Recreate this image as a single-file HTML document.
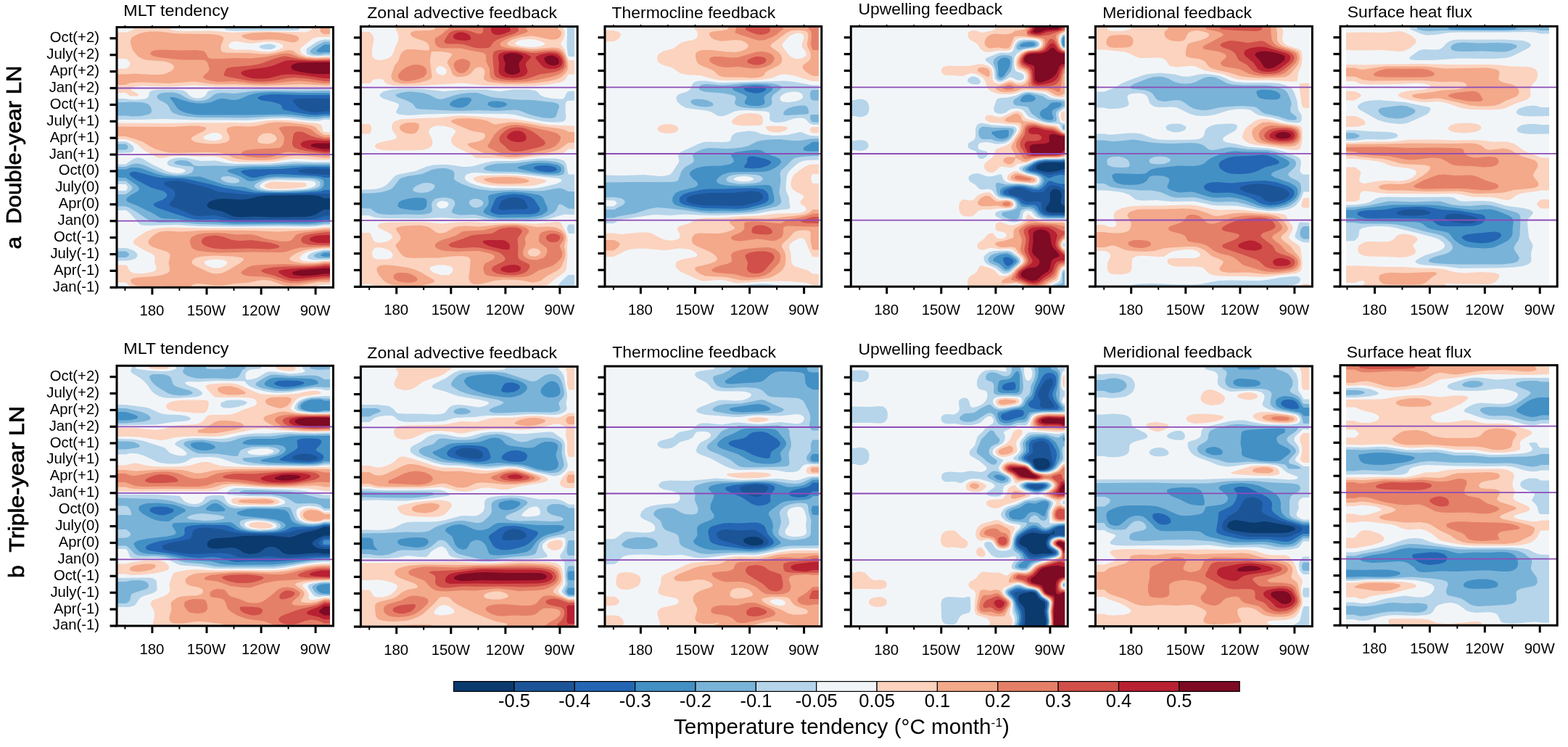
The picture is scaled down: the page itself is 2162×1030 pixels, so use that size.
<!DOCTYPE html><html><head><meta charset="utf-8"><title>Figure</title><style>body{margin:0;background:#fff;overflow:hidden}svg{display:block}text{font-family:"Liberation Sans",Arial,Helvetica,sans-serif;fill:#000}.t{font-size:20.3px}.tx{font-size:20.4px}.ti{font-size:22.5px}.rl{font-size:29px;font-weight:normal;stroke:#000;stroke-width:0.7px}.cb{font-size:25.5px}.cbt{font-size:29px}</style></head><body><svg width="2162" height="1030" viewBox="0 0 2162 1030"><rect width="100%" height="100%" fill="#fff"/><clipPath id="cpa1"><rect x="161" y="37.5" width="294.5" height="358.8"/></clipPath><rect x="161" y="37.5" width="298.5" height="358.8" fill="#fff"/><rect x="161" y="37.5" width="294.5" height="358.8" fill="#f2f5f8"/><g clip-path="url(#cpa1)"><path fill="#fbd3bf" fill-rule="evenodd" d="M185 37.5l50.5 0 0 3 1 1 7.5 1 13 .5 33-.5 31 2.5 25-1.5 18-.5 56 1.5 5-1 4-2 .5-1 0-3 25.5 0 0 13.5-16 0-6 1.5-3 1.5-14 11-2 2.5-.5 2 1.5 3 2 2 4 2 4 1 12 1.5 10-1 8 0 0 42-42 0-48 .5-41-1-24 0-31-2-35 2-39-1-9.5 1-3 1-2 2 0 1 1.5 1.5 6 3 2.5 1.5 .5 1 0 1-1.5 1-9.5 0-2-1-5-3.5-12 0 0-33 13-.5 4-3 1.5-3-.5-2-1-2-4-3.5-13 0 0-36.5 13 0 9.5-3 .5-1 0-3zM320.5 57.5l-2.5 1.5-2 1.5-1 2 .5 2 .5 1 2 1.5 6 1.5 20 0 17 2.5 10 .5 6.5-1 6.5-2 6-3 .5-2-1-2-3.5-1.5-4.5-1.5-5.5-1-10 0-20 2.5-5-.5-14-2.5-3 0zM377 165.5l11 0 11 .5 37 4 6 1.5 1.5 2 1.5 6 2 2.5 8 .5 0 38-18 0-21-1.5-9 0-9 .5-17.5 3-8.5 1-40 0-12-1-17-5.5-9-1.5-19 .5-18-1-11 0-11 .5-12 2.5-3 0-4-1-16-9-3-2-7-6.5-8-4.5-9-3-12 0 0-22.5 72 .5 39-1 25 .5 22-.5 22 .5 8-.5 17-2.5zM291.5 183.5l-5.5 2-4 2-1.5 2 0 1 1.5 1.5 6 1.5 8 .5 6-1 3-1.5 1-1 .5-1-.5-2-1.5-2-2.5-1.5-5-1zM377 250.5l7 0 35 1.5 3 .5 .5 3-.5 1.5-1.5 .5-12.5 2-20 1-14 0-5-1-2.5-1-1.5-1-.5-1 0-1 2-2 2.5-1 4-1.5zM443 313.5l4-.5 8 0 0 30-12 .5-9 1.5-7.5 1.5-5.5 2-3.5 2-3 3-1 2 .5 2 1.5 1 3.5 1.5 5 .5 10 .5 13-1.5 8 0 0 32.5-10 .5-6 1-2 1 .5 1 1.5 1-254 0-6-2-6-5-12 0 0-24 12.5 0 2.5 2 2 5 2 2 3 1.5 4 1 9 0 9-1 6-1.5 2-1 2-2 .5-3-2.5-7 .5-6-1-3-4-3-10.5-5-10-6-3-2-1-2 0-2 1.5-2 4.5-4 12-7.5 8-3 9-1.5 14-1 53 1 100 0 32 .5 14-.5zM287.5 358.5l-5 2-1 1 .5 2 2 2 4 2 7 2 6 0 5-1 5.5-3 2-3 0-1-1.5-1.5-6-2-9-.5z"/><path fill="#f3a98a" fill-rule="evenodd" d="M442 37.5l13 0 0 9.5-8 0-3-1.5-1.5-1-1-2zM206 43.5l14 0 20 2.5 10 .5 38 .5 7.5 .5 6.5 1 5 2 1.5 2-.5 2-3.5 9 0 3 0 2 1 2 1.5 1 4 1 8 .5 23 0 17 1.5 9 0 9-1 17-4 5-.5 3 .5 2 .5 6 4.5 4 2 8 2.5 14 1 19-.5 0 38-8 0-33-1.5-46 2-18-.5-27-1.5-24 .5-10-1-16-2.5-7-.5-34 2.5-32-1.5-12 0-9 1-6 2.5-12 0 0-14.5 12 0 11-1 25 1.5 12 0 6-1 5-2 4.5-2.5 3-3 .5-2-.5-2-2-2-1.5-1-4-1.5-6-1.5-22-1.5-7-1.5-4-2-3-2-6-7-2-4-2-7 0-4 2-4 4-2.5 5.5-2.5 7.5-2zM348 45.5l23-1 13 .5 11 1.5 7.5 1 6.5 2 2.5 2 1 2-1.5 2-1 1-3 1.5-3 .5-4-.5-12-2.5-10-1-9 0-17 1-6-.5-5-1-4.5-1.5-3-2 0-1 .5-1 2.5-1zM380 168.5l9 0 9 .5 21.5 2.5 9.5 1.5 6 2.5 6.5 7 4.5 3 1 .5 8 0 0 31.5-10 0-24-2.5-12-.5-11 1-18 4-8 1-10 .5-22-.5-9-1-6-1-3.5-1-11.5-5.5-10-1.5-17-.5-35 1-15-.5-9-2-10-3-6-3-11-7-10-3.5-14-4-12 0 0-13.5 78 .5 25-1.5 9 0 8 1.5 2 .5 1 1 .5 1-1 1-2.5 2-15.5 8-1.5 2-.5 1 1.5 2 5 2.5 9 1.5 12 1 11-.5 9-1.5 2-1 2.5-2 1-2 0-3-4-8 0-2 1-2 2.5-1 4-1 5-.5 19 .5 7-.5 6-1 14-3.5zM367.5 183.5l-3.5 .5-3 1-4 3.5-1.5 3-.5 2 .5 2 1 1 2.5 1 3 .5 8 .5 6-1.5 4-2.5 1.5-2 0-2-1-2-1.5-2-5-2.5zM445 315.5l10-.5 0 26.5-8 0-13 1-9 1.5-7 1.5-7 2.5-8 4.5-3.5 3-.5 1 0 1 2.5 2 4.5 1.5 6 1 7 1 13 0 7-.5 8-1.5 8 0 0 28-16 0-25 4.5-13 1-6-.5-5-1-17-6-5-.5-5-.5-7 1-15 3-17 1-17 2.5-10 0-18-2-6-.5-4 .5-3 1-2.5 2-1 2-28.5 0-5-1.5-6-.5-22 .5-9.5-.5-4.5-1-2.5-1-3-2-1-2-.5-2 .5-1 1.5-1 2-1 7-1 22-1.5 9-1.5 8-2.5 2.5-1.5 1.5-2 0-3-1.5-8 2-9 0-2-1-2-2.5-2-2-1-13-4-5.5-2-4.5-3-1.5-3 0-2 1-2 3.5-4 5.5-4 6.5-3 9-1 20 1 23-1.5 20-.5 57 .5 33 1.5 46-2.5zM279 353.5l-8 1.5-4.5 2.5-2 3 0 2 .5 1 2.5 2 3.5 2 14 6.5 6 2.5 6 1 8-.5 8-3.5 17-10 5-4 1-2-1-1.5-3-1-12-1.5-23-1z"/><path fill="#e58068" fill-rule="evenodd" d="M223 68.5l26 1 21-.5 8 1 3 .5 2.5 2 3.5 6.5 1 1 2 .5 3 .5 11 0 22-1 15 .5 6 0 22-2.5 19-4 7-.5 5 .5 11.5 4.5 10.5 2 14 1 19-.5 0 34-8 0-22-2.5-12-1-11 .5-22 2.5-16 1-16-.5-25-3-22 1-10-1.5-7.5-2-1.5-1-2-2 .5-2 6-5 2-3 0-2-1-4-2-5-1.5-1.5-2-1-5-.5-27 0-28-3-8-1.5-4-1.5-2-1-1-2 1-1.5 2-1.5 3-1zM389 174.5l6-.5 9 0 10 .5 8 1.5 7 2.5 7.5 6 5.5 3 5 1.5 8 0 0 25.5-8 0-24-3-24-2-7 .5-14 5.5-5 1-6 1-10 0-12.5-1-6-1-4.5-2-1-1-.5-1 1.5-2 3-1.5 4-1 12-1.5 27-1 5-.5 2.5-1.5 2-2 1-2 1.5-6 0-3-1.5-3-5.5-9 0-1 1-1zM447 317.5l8 0 0 22.5-8 0-33 1.5-7 1.5-12 4-6 1-43-.5-43 1-21-1.5-10-1.5-5-2-2.5-2-1-2-1.5-5 0-3 .5-2 1.5-2 2.5-2 6.5-2.5 10-1.5 17-.5 10 .5 16 2 16-.5 6 .5 5 1 11.5 4 6.5 1.5 14 2.5 9 .5 4-.5 3-1 2.5-2 4-5 2.5-1.5 3-1 7.5-1.5zM444 363.5l3-.5 8 0 0 23-14.5 .5-29.5 4-11 0-8-1.5-14-4.5-7-2-9-1-17-.5-6-1-4.5-1.5-2-2 0-1 1.5-2 6-4 7-3 7-1 36-1.5 24 1 12 0 10-.5z"/><path fill="#d1504a" fill-rule="evenodd" d="M387 78.5l5-1 4 .5 16 3 13 1.5 12 .5 18-.5 0 29.5-8 0-22-3.5-19-1.5-11 1-15 3-8 1-9 .5-9 0-13-1.5-28.5-5.5-3-1-1-1 .5-2 2-5 1.5-2 2.5-1 5-1 24-2 10-1.5 6.5-1.5 16-6zM410 181.5l4 0 4 .5 11 5.5 7 2 11 2 8 0 0 20-8 0-25-3.5-10-2-6-2.5-2.5-3-.5-2 0-3.5 2-10.5 2-2zM445 320.5l10-.5 0 18-18 0-11-.5-7.5-2-1.5-1-1.5-2-.5-2 1.5-3 2.5-2 2-1 8-2zM288 325.5l8-1 7 1 5 1 11 4 6 1 6 .5 15-1 12 1.5 13 2 8.5 2 5 2 1 1-.5 1-1 1-3 1-10 1-29-1-33 1-14-1-6-1.5-5-1.5-3.5-2-2.5-3 0-3 2-3 3.5-2zM443 365.5l4-1 8 0 0 19-10 .5-34 3.5-10 0-8-2-15-5.5-13-3.5-3-1.5-2-1.5 .5-1 1.5-1 3-1 12-2 17-1 34-.5z"/><path fill="#b82132" fill-rule="evenodd" d="M395 83.5l6-.5 27 1 27 0 0 24-8 0-27-4-15-1.5-9 0-9 1-11 3-7 1.5-7 .5-7 0-7-.5-6.5-1.5-5-2-2-1-2-2 0-2 1.5-1 4-1.5 7-1.5 18-2 8-1.5 7-2 12-5zM424 193.5l9-.5 14 1 8 0 0 15-8 0-11-1.5-10.5-2-6.5-2-2-1-2-2-.5-1 .5-2 3-2.5zM440 324.5l15-.5 0 11-17 0-5-1-4.5-1.5-1.5-2 .5-2 1-1 5-2zM444 367.5l3-.5 8 0 0 14-8 0-31 3-12 0-6-1-6.5-2.5-6.5-4-1-1 0-1 1-1 2.5-1 9.5-1.5 38-2.5z"/><path fill="#7e0a23" fill-rule="evenodd" d="M413 86.5l15-.5 27 0 0 16-14 0-11-.5-14-2-9-2-3-1.5-2-1.5-.5-1 0-2 1.5-2 1.5-1 3-1zM435 197.5l20 0 0 8-8 0-5-.5-7-1.5-4-1-2-1-.5-1 .5-1 2-1zM439 370.5l8-.5 8 0 0 7.5-8 0-12 2-18 1-9.5-1-3-1-1.5-1 0-1 .5-1 1.5-1 8-2z"/><path fill="#b6d5ea" fill-rule="evenodd" d="M311 37.5l102 0 0 3-1.5 1-9.5 .5-42 0-38 .5-10-1-2-1 0-3zM447 54.5l8 0 0 22-20 1-7-1-5-2-.5-2 0-3 0-2 1-1 13.5-9 5-2zM364 61.5l6-1 5 .5 4.5 1.5 1 1 0 1-2.5 2-4 1.5-5 0-6-.5-3.5-1-1.5-1-.5-1 .5-1 2-1zM223 123.5l18 0 11 1 4.5 2 4.5 5 3 2 4 1.5 5 .5 4-.5 4-1.5 2.5-2 2-4 2-2 3.5-1 6-1 27 0 41-1 90 0 0 42.5-8 0-7 1.5-9 0-10-.5-23-3-12 0-15 .5-22 2-9 .5-29-.5-43 0-41-1.5-35 1-31 0 0-29 12 0 5 1 8 .5 7-.5 6-.5 3-1 2.5-2 1.5-6 2-2 5-1.5zM162 195l11 0 5.5 2.5 4 3 1.5 2 .5 3-.5 2.5-2 1.5-3 1-18 .5 0-16zM188 217.5l4 0 5 1.5 12.5 7.5 21 10 6.5 1.5 7 1 6-.5 3.5-1 1.5-1 .5-1 0-1-1.5-1-3-1-13-2.5-4-1-3-2-.5-2.5 1-2 3.5-2.5 5-1.5 6-1 6 0 7 .5 18 4 20-.5 17 3.5 11 1 47-.5 33-3 30 1 20 0 0 87-8 0-11 1.5-12 .5-38-.5-56 .5-55-.5-31-2-42 1-5-.5-3-.5-3-2.5-4-5-8.5-9-4.5-3.5-1 0-12 0 0-27 12 0 2-1.5 1-3-1-3-2-1.5-12 0 0-27.5 12 0 11-7.5zM373 248.5l-5 1-5 2-4 3-1 2 1 2 2 1 5 1.5 6 1 20 0 29-1.5 7-1.5 4.5-1.5 2.5-2 1-2-1.5-2-1.5-1-3.5-1-5.5-.5-25-.5-17-.5zM162 342l12 0 7 2 4 2 3 2.5 1.5 2 0 3-3 3-5.5 2-7 1-13 0 0-17.5zM442 345.5l5-1 8 0 0 13.5-22 .5-6-1-2-1-1-1-.5-1 1-2 3.5-3 5-2zM162 394.5l11 0 3.5 2-15.5 0 0-2z"/><path fill="#7ab3d8" fill-rule="evenodd" d="M445 58.5l2-1 8 0 0 17-8 0-5 1-5.5 0-5-1-3.5-2-.5-2 2.5-3 9-6zM353 125.5l19-.5 42 .5 41-.5 0 37.5-8 0-10 1.5-12-.5-24-2.5-10-.5-15 0-37 2-32-.5-32 0-18-1.5-11-2-7.5-3-3-3-3-6-1.5-2-4-3-8-4-2-2-.5-2 .5-2 1-1 4-2 8-1 9 0 5 1 3.5 1 9.5 5.5 6 2.5 7 1.5 6 0 5-.5 5-1.5 4-2.5 5-4 5-2 7-.5 17 1 18.5-2.5zM179 140.5l15 .5 5 .5 4 1.5 2.5 1.5 2.5 3 1 4 0 3-2 2-3 1.5-10 2-11 .5-10-1-12 0 0-18.5 12 0zM162 198.5l11 0 3 2 .5 2 0 1-1 2-2.5 1-12 0 0-8zM245 221.5l6-.5 6 .5 3 1 3.5 2 3.5 3.5 5 1 24-.5 24 .5 27-1 24 0 35-2.5 49 0 0 83-8 0-11 1.5-12 .5-38-.5-62 .5-27-1-24-.5-27-2.5-26 .5-7-1-5.5-1.5-4-2-18-12-7-4-5.5-2-12 0 0-16.5 12 0 6.5-4.5 2-2 1-2-.5-2-1.5-2-6.5-5.5-1-.5-12 0 0-19.5 12 0 10-4 4-.5 4 0 7 2 21 9 9 3 13 2 13-.5 7-1.5 4-2 1.5-3 .5-2-.5-2-.5-.5-2-.5-14-1.5-7.5-1.5-1.5-1-.5-1 0-1 1.5-1zM307.5 243.5l-2 1-1 1 .5 2 3 2 5 2 6 1 6 0 4-1 1-1 0-1-.5-2-1.5-1-5-2-8-1.5zM371 246.5l-7 1.5-7 3-4 2.5-2 2 0 1 .5 2 3.5 2 5 1.5 7 1 11 .5 15 0 21-1 13-1 7-1.5 4.5-1.5 2.5-2 1-3-1-3-2-1.5-4-1.5-6-1-47-1zM162 346.5l12 0 3.5 3 .5 2-1.5 2-3.5 1.5-12 0 0-8.5zM446 346.5l9-.5 0 10-16 0-4-1-2-1.5 .5-2 3-2z"/><path fill="#4390c5" fill-rule="evenodd" d="M447 61.5l8 0 0 10.5-8 0-6 .5-4-1-.5-1 1-2zM365 127.5l13-.5 37 1 40 0 0 32-8 0-9 1-13 0-23-3-10-.5-50 1-36 0-25 0-13-.5-12-2.5-5-2-4-2-3-3-4.5-7-5-6 0-1 1.5-.5 4 0 15 5 7 2 10 1.5 9 0 10-1.5 9-4 4-1 5 0 12 2 6-.5 5-1.5 10-4.5 5-1.5 7-1.5zM402 228.5l16-.5 37 0 0 78-8 0-15 2-12 .5-33-.5-64 .5-26-2-25-.5-8-.5-18-3-18-1-5-.5-3.5-1.5-9.5-6-10-4.5-11-5.5-10.5-4-3.5-2-1-2 1.5-3 4-3 10.5-6 1.5-2 .5-1-.5-2-4-4-13.5-9-1-.5-12 0 0-11.5 12 0 8-2.5 7 0 8 1.5 21 7.5 11 2.5 16 1 27 0 5 0 34 11.5 10 1.5 17 1.5 12 4 7 1.5 11 1 16 .5 20-.5 20-1 15-1.5 4-1.5 2.5-2 1.5-2 .5-2 0-4-1-2-1.5-1-4-1.5-6-1-9-.5-46-1-11 1-18 5-5 .5-4-1-10-6-13-4.5-4-2-.5-1 .5-1 2.5-1 11.5-2 19-1 32-.5zM447 348.5l8 0 0 5.5-8 0-2-.5-2.5-1-.5-1 1-1z"/><path fill="#2466b3" fill-rule="evenodd" d="M369 130.5l11-.5 32 1 43 0 0 26.5-8 0-10 1-10-.5-17.5-2.5-17.5-4-2-1-1-1-.5-3-1.5-2-3-1.5-8-2.5-15-2-5-2-.5-1 0-1 3-2 3.5-1zM416 230.5l17-.5 22 .5 0 14.5-8 0-5-1.5-8-1-47-2.5-15 .5-18.5 4-5.5 .5-4-1-5.5-2.5-5-3-1-1-.5-1 1.5-1 3.5-1 9-1 42-.5zM181 237.5l4-1 6 1 20 5.5 10 2 30 1 10 1.5 29 6.5 19 5 41 6.5 25 .5 35 0 25-1.5 8-1 4-1.5 8 0 0 41-8 0-10 2-14 1-93 0-13-.5-20-3-22 .5-6-.5-6-1-19.5-6-21-7-5.5-2-3.5-2-1.5-2-.5-1 1-1 2.5-1.5 10-4 4-3 1.5-2.5-1.5-3-2-2-3-1.5-13-3.5-5-2-19-10-6-4-2.5-3 0-1 .5-1z"/><path fill="#1c5597" fill-rule="evenodd" d="M421 135.5l14 0 20 .5 0 17.5-8 0-8 1.5-7 0-8.5-1.5-8.5-3-4.5-3-6-7-1-2 1-1 4-1zM427 232.5l11 0 9 .5 8 0 0 8-8 0-21-1.5-9-1-4-1-2-1 0-1 2-1 5-1zM235 249.5l9-.5 8 1 15 4 17 4 13 5 4 1.5 35 3.5 10 .5 24-1 64-.5 21 .5 0 30-8 0-4 2-6 2-14 1.5-71 0-20 .5-7 0-7-1-16-4.5-5-1-6 0-14 1-7.5-.5-6.5-2-12-5.5-12.5-4.5-3.5-1.5-1.5-1.5 0-2 5.5-6 1.5-3 1-3-.5-3-1-2.5-2-2-10-5.5-2-2 0-1 1-1 2.5-1z"/><path fill="#0b3a6e" fill-rule="evenodd" d="M368 269.5l57-.5 9 .5 6 1 3 1 4 2 8 0 0 15.5-8 0-3.5 1.5-6 4-4 2-6.5 1.5-7 1-42 .5-27-1-19 1-9.5-1-5.5-2-10.5-5-15.5-3.5-3.5-1.5-2-2 0-2 1-2 2.5-2.5 5-2 6-1.5 10-.5 18 1 8 0 8-1 15-3.5z"/></g><line x1="161" x2="459.5" y1="304.7" y2="304.7" stroke="#8c4cb8" stroke-width="1.8"/><line x1="161" x2="459.5" y1="213.1" y2="213.1" stroke="#8c4cb8" stroke-width="1.8"/><line x1="161" x2="459.5" y1="121.5" y2="121.5" stroke="#8c4cb8" stroke-width="1.8"/><rect x="161" y="37.5" width="298.5" height="358.8" fill="none" stroke="#000" stroke-width="3"/><line x1="151.5" x2="161" y1="396.3" y2="396.3" stroke="#000" stroke-width="3.2"/><line x1="151.5" x2="161" y1="373.4" y2="373.4" stroke="#000" stroke-width="3.2"/><line x1="151.5" x2="161" y1="350.5" y2="350.5" stroke="#000" stroke-width="3.2"/><line x1="151.5" x2="161" y1="327.6" y2="327.6" stroke="#000" stroke-width="3.2"/><line x1="151.5" x2="161" y1="304.7" y2="304.7" stroke="#000" stroke-width="3.2"/><line x1="151.5" x2="161" y1="281.8" y2="281.8" stroke="#000" stroke-width="3.2"/><line x1="151.5" x2="161" y1="258.9" y2="258.9" stroke="#000" stroke-width="3.2"/><line x1="151.5" x2="161" y1="236" y2="236" stroke="#000" stroke-width="3.2"/><line x1="151.5" x2="161" y1="213.1" y2="213.1" stroke="#000" stroke-width="3.2"/><line x1="151.5" x2="161" y1="190.2" y2="190.2" stroke="#000" stroke-width="3.2"/><line x1="151.5" x2="161" y1="167.3" y2="167.3" stroke="#000" stroke-width="3.2"/><line x1="151.5" x2="161" y1="144.4" y2="144.4" stroke="#000" stroke-width="3.2"/><line x1="151.5" x2="161" y1="121.5" y2="121.5" stroke="#000" stroke-width="3.2"/><line x1="151.5" x2="161" y1="98.6" y2="98.6" stroke="#000" stroke-width="3.2"/><line x1="151.5" x2="161" y1="75.7" y2="75.7" stroke="#000" stroke-width="3.2"/><line x1="151.5" x2="161" y1="52.8" y2="52.8" stroke="#000" stroke-width="3.2"/><line x1="172.4" x2="172.4" y1="396.3" y2="400.8" stroke="#000" stroke-width="2"/><line x1="209.9" x2="209.9" y1="396.3" y2="406.3" stroke="#000" stroke-width="3"/><text x="209.4" y="435.3" text-anchor="middle" class="tx">180</text><line x1="247.4" x2="247.4" y1="396.3" y2="400.8" stroke="#000" stroke-width="2"/><line x1="285" x2="285" y1="396.3" y2="406.3" stroke="#000" stroke-width="3"/><text x="284.5" y="435.3" text-anchor="middle" class="tx">150W</text><line x1="322.5" x2="322.5" y1="396.3" y2="400.8" stroke="#000" stroke-width="2"/><line x1="360.1" x2="360.1" y1="396.3" y2="406.3" stroke="#000" stroke-width="3"/><text x="359.6" y="435.3" text-anchor="middle" class="tx">120W</text><line x1="397.6" x2="397.6" y1="396.3" y2="400.8" stroke="#000" stroke-width="2"/><line x1="435.1" x2="435.1" y1="396.3" y2="406.3" stroke="#000" stroke-width="3"/><text x="434.6" y="435.3" text-anchor="middle" class="tx">90W</text><line x1="172.4" x2="172.4" y1="37.5" y2="35" stroke="#000" stroke-width="1.6"/><line x1="209.9" x2="209.9" y1="37.5" y2="35" stroke="#000" stroke-width="1.6"/><line x1="247.4" x2="247.4" y1="37.5" y2="35" stroke="#000" stroke-width="1.6"/><line x1="285" x2="285" y1="37.5" y2="35" stroke="#000" stroke-width="1.6"/><line x1="322.5" x2="322.5" y1="37.5" y2="35" stroke="#000" stroke-width="1.6"/><line x1="360.1" x2="360.1" y1="37.5" y2="35" stroke="#000" stroke-width="1.6"/><line x1="397.6" x2="397.6" y1="37.5" y2="35" stroke="#000" stroke-width="1.6"/><line x1="435.1" x2="435.1" y1="37.5" y2="35" stroke="#000" stroke-width="1.6"/><text x="170.3" y="22.2" class="ti" textLength="145.1" lengthAdjust="spacingAndGlyphs">MLT tendency</text><text x="137" y="401.7" text-anchor="end" class="t">Jan(-1)</text><text x="137" y="378.8" text-anchor="end" class="t">Apr(-1)</text><text x="137" y="355.9" text-anchor="end" class="t">July(-1)</text><text x="137" y="333" text-anchor="end" class="t">Oct(-1)</text><text x="137" y="310.1" text-anchor="end" class="t">Jan(0)</text><text x="137" y="287.2" text-anchor="end" class="t">Apr(0)</text><text x="137" y="264.3" text-anchor="end" class="t">July(0)</text><text x="137" y="241.4" text-anchor="end" class="t">Oct(0)</text><text x="137" y="218.5" text-anchor="end" class="t">Jan(+1)</text><text x="137" y="195.6" text-anchor="end" class="t">Apr(+1)</text><text x="137" y="172.7" text-anchor="end" class="t">July(+1)</text><text x="137" y="149.8" text-anchor="end" class="t">Oct(+1)</text><text x="137" y="126.9" text-anchor="end" class="t">Jan(+2)</text><text x="137" y="104" text-anchor="end" class="t">Apr(+2)</text><text x="137" y="81.1" text-anchor="end" class="t">July(+2)</text><text x="137" y="58.2" text-anchor="end" class="t">Oct(+2)</text><clipPath id="cpa2"><rect x="497.4" y="36.6" width="294.8" height="358.8"/></clipPath><rect x="497.4" y="36.6" width="298.8" height="358.8" fill="#fff"/><rect x="497.4" y="36.6" width="294.8" height="358.8" fill="#f2f5f8"/><g clip-path="url(#cpa2)"><path fill="#fbd3bf" fill-rule="evenodd" d="M546.5 36.5l230.5 0 0 4 1 2 .5 2 0 4-1.5 5-3.5 6 0 2 4 5 1.5 3 4.5 12.5 1 1 8 0 0 19.5-8 0-1 .5-3 5-3 3.5-3 1.5-3 1-15 2.5-21 2-27 0-37-.5-13-1-15-2-6-.5-61 4-24 0-10-.5-6.5-1.5-2.5-1-3-2-2.5-4-5.5-.5-8 .5-2 3-3 2.5-12 0 0-71 12 0 3 2.5 2 3 1 4-.5 4-1.5 7.5-.5 4.5 0 5 .5 3 2 3 3 1.5 4 1 5-.5 6-1.5 4-2 3-3 2-3.5 2.5-8 3.5-7 1-3 0-4-1-4-1-3-2-3 0-4zM721 54.5l-7.5 2-2 1.5-1.5 1.5 0 1 1.5 1 6 2 11 1.5 9 0 8.5-1.5 3-1 2-1 .5-1-.5-1-3.5-2-10-3-8-.5zM604.5 91.5l-2 1.5-1.5 2.5 .5 3 1 2 2.5 2 3.5 1 3 0 3-1.5 1-2.5 0-2-.5-2-1.5-1.5-4-2.5-3-.5zM637.5 159.5l20 1 30 2.5 20 1 11 1.5 26 4.5 11 2 18 1 19 .5 0 32-8 0-8 5.5-8 2-31 3-23 3-10 .5-23-1.5-23 0-4-1-5.5-4.5-3.5-2-15-6.5-4-2.5-2-2-2-3-.5-4 1-3 5-7 0-2-1.5-2-3.5-2-5.5-1.5-6-1.5-5 0-5 0-4 1-3.5 2-2 2-.5 2 0 3 4.5 9 .5 5-.5 2-1 2-2.5 2-3 1.5-5 1.5-6 .5-38 .5-12-.5-7-1.5-2.5-1-2-2 0-2 2.5-2.5 6-2 16.5-3.5 3-1 1.5-1 .5-1-.5-2-5-7-1-3-.5-2 .5-3 1.5-3 2-2 2.5-1 6-2 8-.5 19-1 23-.5 23-2.5zM498.5 171l11 0 1 1 1.5 2.5 .5 3-.5 3-1.5 3-1 1-12 0 0-13.5zM695.5 241.5l16 .5 15 1.5 21 3.5 5 1.5 1 1-.5 1-2 1-5.5 2-8 2-6 1-39 0-16-1-10.5-2-9-3-4-3-.5-1 .5-1 1-1 4.5-1.5 6-1zM538.5 306.5l45-.5 10 1 16 1.5 21-2 19-.5 25 1.5 35-.5 28 1.5 9-.5 19-2 6 0 2 1.5 1 1.5 2 4.5 4.5 8 1.5 5 .5 5-1 8 .5 13-1.5 18-1.5 3.5-4 3.5-10 7-9 7.5-8 3.5-124.5 0-4.5-1.5-7-.5-9 .5-8.5 1.5-78 0-2.5-2-4-1.5-13 0 0-71 12 0 .5 .5 1.5 2 3.5 8 2.5 2 2 1 6 0 8-1.5 4.5-2.5 2.5-2 .5-2-.5-2-2-2-3-2-9-4-3.5-2-2-2 0-2 2.5-2 3-1zM518 341.5l-1.5 1-2 1.5-1.5 3.5 0 3 .5 2.5 1 1.5 2 2 6 1 10 0 6-1 2-1.5 1-1.5 0-2-1-3-2-2-3-2-4-1.5-6-1.5-4-.5zM603.5 365.5l-7 1.5-2 .5-2 2 .5 2 1.5 2 5 3 8 2.5 8 .5 3-.5 3-1.5 2.5-3 .5-3-.5-2-1.5-1.5-2-1-7-1.5z"/><path fill="#f3a98a" fill-rule="evenodd" d="M600.5 36.5l169 0 0 3 .5 1 3 2 1 2 0 2-.5 2-1 2-2 2-3 1.5-4 .5-5 0-21-4.5-5-.5-5 .5-11 1.5-10 3-5.5 3-1.5 2 0 1 .5 1 1 1 4.5 1.5 24 3.5 10 0 22-2 6 .5 4 1 3 2 2 2 2 3 2.5 5.5 1.5 5 .5 4 .5 4-1 4-3 5-6 5-7 3-10 2.5-19 2.5-20 1-20 0-17-1.5-8-1.5-3-1.5-2-1.5-.5-3 1.5-6 0-3-2-3-2-1.5-2-.5-3 0-3 1-2.5 2-5.5 6.5-5 2.5-4 1-5 .5-4 0-4-1.5-1.5-1-1.5-2-2.5-7-4.5-8 1-3 5.5-7 0-2-2.5-1.5-5-1-8-1-9 0-3 .5-1 1-1.5 10 0 3 2.5 19 0 2-1.5 2-2.5 1.5-6 2-8 2-7 1-13 .5-6-.5-5-1.5-4-2-2-2-1-3 0-3 4.5-13 5.5-7 3-9 2.5-3 3.5-2.5 4-1 6 0 19 1.5 3 0 1-1 .5-1 0-2-.5-3-3-4-4-2-11-3.5-4-2-2-1.5-1.5-2 0-2 1-1 1.5-1 4.5-1 19.5-.5 6-1 1-.5 .5-1 0-3zM631.5 163.5l14-.5 17.5 1.5 8.5 2 9 4.5 3 .5 19-3 7 0 7 .5 9 1 21 4 26 3.5 6 1.5 6 3 8 0 0 14.5-9 .5-11 8-5 2.5-5 1.5-9 2-33 5-10 1-9 0-11-1.5-14-2.5-9-2-9-3.5-9-4-4-3-.5-1 0-1 1.5-1 13-2.5 6-2.5 3-3 .5-2 0-2-1.5-1.5-2-1-13-2-6-2-22.5-9.5-2-2 0-1 1.5-1 2.5-1zM559.5 169.5l5-.5 5 0 4.5 .5 2.5 1 1 1 .5 2-.5 3-1 3-3 3.5-2 1-3 .5-7-.5-4-1-2.5-1.5-3.5-3-.5-2 0-2 3-3zM681.5 244.5l17-.5 13 .5 12 2 5.5 2 .5 1-.5 1-2.5 1-9 1.5-19 .5-14-.5-7-1-5.5-1.5-4-2-1-1 1-1 3-1zM691.5 309.5l11-.5 9 0 10 1 18 3 17-.5 6 .5 5 1 4 2 4 2.5 3 3.5 1.5 3.5 .5 3-2.5 11 1.5 8 0 4-1 5.5-4.5 10.5-2.5 3-3 2.5-12.5 6.5-10.5 7.5-6 2-6 .5-12-2.5-8-1-18-.5-14 1.5-18 4.5-6 .5-5-.5-2-1-2-1.5-1-1.5-1-3 0-5 1.5-9 .5-12-.5-2-2-2-4.5-1-8-.5-10 .5-19 2-17 0-16 .5-8-.5-5-1-4.5-3-2.5-3-6-9 0-2 5-5 1.5-3 .5-2-1-3-5-7-.5-2 0-1 1.5-.5 3.5-1.5 7.5-1 11-.5 8-.5 7 1 5 1 3 1.5 9 6.5 3 1 4 0 6-1 12-7 7-1.5 8-.5 20 1zM733.5 342.5l-4 2-2 3 .5 2 .5 1 2 2 4 1 4 0 4-1.5 2.5-2.5 .5-1-.5-2-2.5-2.5-4-1.5zM528.5 365.5l8 0 9 1 17 2.5 9 2.5 9 4 17 10 1.5 2-.5 1-1 1-5.5 2-6.5 1.5-6 1-10 0-19-.5-8-.5-5-1-5-2.5-4-3-6-7-2.5-5-.5-4 1-2 2.5-2z"/><path fill="#e58068" fill-rule="evenodd" d="M619.5 36.5l106 0 0 3 0 1 2.5 2-.5 1-3.5 2-19.5 6-9 4-3.5 2-2 2-.5 2 1 1.5 2.5 1.5 4 1 35.5 5 7-.5 19-1.5 5 0 5 1 3 1 3 2 3.5 5 2.5 8 .5 4-.5 3.5-1.5 2.5-2.5 3-3 2.5-4 2-11 3.5-14.5 3-18.5 3-15 .5-17-.5-7-1-5-1-4-2-2-3-.5-11-4.5-9-.5-9-1-2-1.5-1-5-1.5-14-2.5-14-3-5 0-13 0-7 0-5-1.5-3-2.5-1.5-3-.5-3 0-2 1-2 8-5 7-6 2.5-1 .5-1 0-3zM634.5 81.5l4-.5 5 1.5 3.5 2 1 1 .5 2-1 4-2.5 5-3.5 3-4 1.5-4.5-.5-3.5-2-2-3-2-5 .5-3 1.5-2.5 3-2zM568.5 89.5l5-.5 5 .5 4 1 3 2 2 2.5 1 3.5-.5 3-1.5 2.5-3 2.5-5 2-7 2-5 1-5 .5-5-.5-4-1.5-2.5-1.5-1-2 0-3 2-3 2.5-3 3-2.5 4-2.5zM704.5 172.5l8-.5 9 1 39.5 8.5 6 2 3.5 2 2.5 3 0 3-2.5 5-5 5-6 3-7 2-30 6-9 1.5-11-.5-11-2-8-3-8-4-2.5-2-.5-2 4.5-7 4-7 3.5-4 5-4 5-3 5-2zM695.5 311.5l11-.5 9 .5 8 2 2.5 1 2.5 2 1 2-.5 2-5 7 0 3 1 6-3.5 8-.5 5 1 3 2.5 2.5 4 2 4 1 7 .5 7-2 3-1 2-2 2.5-4 .5-4-.5-3-2-2-7-5-2-3 0-3 .5-5 1-2 2-2 4-1.5 4-1 5-.5 5 .5 4 1 4 1.5 2.5 2 1.5 2.5 .5 2.5 0 3-4.5 7-.5 2 .5 2 2.5 5 .5 3-.5 4-2.5 4-5 5-5 3.5-5 2-14 4.5-10 6-4.5 2-8.5 1.5-16 .5-22.5-1-9.5-1.5-3-1.5-2-2.5-1-4.5 0-4 1.5-3 2-2 8.5-4 3-2.5 .5-1.5 0-1-2-2-1.5-1-9-2.5-10-2-7 0-22 1-16-1-6-1-4-1.5-3.5-2-1-2 0-2 1-2 4.5-3 5-2 15-4.5 3.5-1.5 6.5-4 3-1.5 6-.5 21-1 20-4.5zM547.5 376.5l4-.5 5 0 5 .5 5 1.5 4 2 4 2.5 1 2 0 2-3 2-7 1.5-9-.5-7-1.5-5-2.5-1.5-2-.5-2 .5-2 .5-1z"/><path fill="#d1504a" fill-rule="evenodd" d="M666.5 36.5l48 0 0 3 .5 2 0 1-1 1-5.5 3-17.5 6-7 3-4 3-3.5 5.5-2 1.5-6 1-9 0-6-1-15-4.5-7-.5-14 0-3-.5-1.5-1.5-.5-1 .5-2 3.5-6 3-4 4-2.5 7-1.5 10 0 8 1.5 10 3.5 4 0 2.5-1 1-2zM694.5 68.5l17 1 23 3.5 5 0 17-2 5 0 5 .5 5 2 2 2 2 2.5 2.5 6.5 0 5-.5 2.5-2 2.5-3 2-3 1.5-8 2-17 2.5-11.5 4-6.5 2-8 1.5-10 .5-10-.5-8-1-6-2.5-2-2-1-2-2-21 0-6 1.5-4 2.5-1.5 4-1zM710.5 175.5l6 0 6 1 6 2 6 3 4.5 3 11 9 2 3-.5 2-2 2-6 2.5-24 5.5-10 .5-4-.5-3-1-2.5-2-4-4-6-5-1.5-3 0-4 1-2 2.5-3 6-5 6.5-3zM701.5 313.5l7 0 5 .5 4 1.5 2 2 .5 1-.5 2-5 7-1 3 1 9-.5 12 .5 3 .5 2 2.5 2 10.5 5 1.5 1 1 2-.5 3-3 4-2.5 2-4.5 2-4.5 1-6 1-13-.5-10-1.5-4-1.5-2.5-1.5-1-1-1-2 .5-2 1.5-2 3.5-2 10.5-5 1.5-1 1-2 0-2-2.5-3-3.5-3-4-2-11-3-15-3-8-.5-15 1-6 0-8-1-3.5-1.5-1-1 0-1 .5-1 3-2 15-5 11-4.5 8-1.5 16-1 5-.5 3-1 5.5-3.5 4-2 5.5-1zM758.5 322.5l6-.5 5 1.5 2 1.5 1 1.5-.5 3-2.5 3-4 1.5-5 0-4-1-3-3-.5-1.5 0-2 1.5-2z"/><path fill="#b82132" fill-rule="evenodd" d="M677.5 36.5l25.5 0 0 3 1 2-.5 1-1 1-6 2.5-7 2-6 0-3-1-2.5-2.5-1-4-.5-4zM632.5 44.5l6 0 6 2 3.5 3 1 2 0 2-.5 1-1 .5-6 1-8-.5-6-1.5-2-1.5-.5-1 .5-3 3-2.5zM695.5 71.5l9-.5 10 .5 11.5 3 5.5 3 .5 1 0 1-5.5 5.5-1.5 2.5 0 3 2.5 7-.5 3-1.5 2-3 2-4 1.5-5 1-6 .5-6-.5-5-.5-4-1.5-3-2-1.5-2.5-.5-3 .5-10-1-7 0-3 .5-2 2-2zM754.5 73.5l5 0 5 .5 4 1 3 2.5 2.5 3 1.5 4 0 3-2 3.5-2 1.5-3 1.5-4 1-4 0-4 0-4-1-3-1.5-2.5-2-8.5-10 0-1 0-1 1.5-1 4.5-2zM709.5 180.5l3 0 4 0 3 1 3 2 2 2 1 3 0 3-1 2-1.5 1-2.5 1-7 .5-8-1.5-3-1.5-2-1.5-1-1-.5-2 1.5-3 4-3zM668.5 331.5l6-.5 11 0 6 0 4 .5 3 1.5 3 2.5 1.5 3 0 3-.5 1.5-1 1-3 .5-7-1-13-3-6-2-5.5-3-1-1-.5-1 .5-1zM701.5 365.5l7-.5 6 1 3.5 2.5 0 1 0 2-2.5 2.5-6 1.5-8 .5-7.5-1.5-3.5-2-.5-1 1-2 3.5-2z"/><path fill="#7e0a23" fill-rule="evenodd" d="M701.5 73.5l6-.5 6 1 5 1.5 2.5 2 0 1-.5 2-4 5-1 2 0 3 1.5 6 0 2-1.5 2-2 1-5 1.5-6-.5-4-1.5-2.5-2.5-.5-3 1.5-8-2.5-6-.5-3 .5-2 1-1 2-1zM754.5 77.5l4-1 3 0 3 1 2.5 1 2.5 2 1 2 .5 3-.5 2-2 1.5-4 1.5-5-.5-4-1.5-3.5-3-1-2-.5-2 0-1 1-1.5z"/><path fill="#b6d5ea" fill-rule="evenodd" d="M782.5 36.5l10 0 0 41.5-8 0-1.5-2.5-1-6-.5-7 .5-14 0-12zM552.5 122.5l15 0 16 .5 11 1 17 2 22-2 16-.5 20 0 19 2.5 19.5-2.5 21 0 6.5 1 4 1 2 1.5 4 4.5 4.5 2 9.5 2 12 1 4 0 2-1 1-1 2.5-6 2.5-2.5 9-.5 0 13-9 .5-2 .5-1.5 3-.5 6 0 5 1 7-.5 3-1 2-1.5 1.5-3 1-4 .5-10 0-11-1-19-4-22-5.5-9-1-67-.5-46 1-22 1.5-8-.5-7-1-3-2-.5-1 .5-2 3.5-6 0-2-.5-1-4-2-17-5.5-4-2.5-1-2 .5-2 1.5-1 2.5-2 3.5-1 8.5-2zM742.5 218.5l11 0 11 0 7 1 5 1.5 2 1.5 2 3 3 14.5 1 .5 8 0 0 55.5-8 0-5-.5-3 .5-17 5-9 2.5-10 1.5-10 .5-20-.5-27 0-9-1-19-3-25 .5-21-1.5-29 1.5-51-.5-12-1-4-1-4-2-12 0 0-35.5 17-.5 7-1 6-2 4-2 3-2.5 9-10 3-2 3-1 23-4.5 16-6.5 10-2 9-.5 9 0 9 1 13 2 6 0 8-1 18-5 8-1.5 8-.5 24 0zM649.5 238.5l-3 1-3 1-2.5 3 0 3 2.5 3 5.5 3 8.5 3 11 2.5 11 1.5 9 0 22 0 20 .5 9-.5 9-1.5 20-5 5-2.5 1-2-.5-1-2-1-4.5-1-52-5.5-10-.5-25 0-24-1.5zM606.5 277.5l-3 2-1.5 2 1 3 3.5 2.5 3 .5 4-.5 3-2 2-2.5 0-2-.5-1-2.5-1.5-5-1zM784.5 309.5l8 0 0 12.5-8 0-1-1.5-1.5-4 0-3 1-3zM783.5 379l1 0 8 0 0 16.5-23.5 0 1.5-3 2-3z"/><path fill="#7ab3d8" fill-rule="evenodd" d="M554.5 127.5l7-1 7 0 15 1.5 8 2.5 11 5.5 5 1 5-1 14-4.5 8-2 12-1.5 11 0 6 1.5 11 3.5 7 1.5 32 3 21 .5 27 3 5 1 3 1.5 1.5 2 0 2-4.5 13-1 1-2 1-5 .5-9-.5-14-3-9-3-10-4-6-1-26 1.5-25-1-27 1-13-.5-19-1-21-1-4-.5-2-1-4-5.5-3-2-5-2.5-12-4.5-3.5-2-.5-1 .5-1 1.5-1zM740.5 221.5l11 0 10 1 8 1.5 5 2.5 2 1.5 1.5 2.5 .5 3 0 3-.5 2-1.5 2-2 .5-3 1-8 0-12-.5-39-4.5-32.5-.5-9.5-1.5-3-1.5-.5-1 1.5-2 4-2 5-1.5 5-1 7-.5 21-.5zM602.5 232.5l6-.5 5 0 5 1 4.5 1.5 1.5 1 1.5 2 .5 2-.5 6 .5 2 2.5 2 7.5 4 9 3.5 8 2.5 10 2 15 1.5 31-1 32 1.5 9-.5 15-3 6-.5 5 1 7 3.5 9 0 0 24-9-.5-8-5-3.5-1-2 1-3 7-4 4-7.5 4-9 3-8 1.5-9 .5-36 .5-9-.5-10-1.5-19-5-5 0-16 .5-5-1-4-1-1.5-1-1-1-.5-1 3.5-7 1.5-3-.5-3-1-2-2.5-2-3-1-5-1-6 0-7 1-3 1-2 2-1.5 2-1 3 1 8-.5 2-2 2-3.5 1-4.5 1-6 .5-21-.5-21 .5-9-.5-6.5-1-4.5-2-7-5-13-.5 0-20.5 12 0 7-.5 9-1 8-2 5-2 3-2 3-3.5 5-7 2-2 3-1.5 7-2 20-3 5-2 9-4zM583 252.5l-6.5 2.5-3 1.5-2.5 2-1.5 2 0 2 1 1 3 1.5 8 1 8-1 3.5-1.5 3.5-2 2-2 1-2 0-2-1-1-3-1.5-6-1zM651.5 274.5l-3.5 2-1.5 3 1.5 3 3.5 3 4 1 4-.5 4-1.5 2.5-3 .5-1-.5-2-1.5-2-2-1-5-1.5z"/><path fill="#4390c5" fill-rule="evenodd" d="M638.5 134.5l8 0 2.5 1 1 1 0 2-2 3-2.5 3-3 2-6 2-7 0-7-2-2.5-2 0-1 1-2 4-3 7.5-3zM679.5 139.5l7 0 7.5 1 4.5 2 .5 1 0 1-2.5 2-7 2-6 0-6-1-4-2-1-1 0-2 2-2zM742.5 224.5l14 .5 6 1 5 1 3 1.5 2.5 2 1 3 0 2-2 2-3.5 1.5-6 .5-8 0-17-2-14.5-3-7.5-2-2-1 .5-1 5.5-2 13-3zM706.5 264.5l11 .5 13 1.5 11 2 5 2 3 3 2.5 7 2.5 5 .5 3 0 2-3 3-5.5 3-8 2-8 1-42 .5-9-1.5-9-3-3-2-1-2 1-2 4-5 2-3 .5-4-1-6 1-2 4.5-1.5 7.5-1.5 10.5-1.5zM573.5 272.5l10 .5 3 1 1.5 1.5 .5 3 0 5-1.5 3-2.5 2-3 1-4 .5-11-.5-12.5-2-3-1-2.5-2 0-2 .5-2 1.5-2 3-2 9-2.5z"/><path fill="#2466b3" fill-rule="evenodd" d="M743.5 228.5l9-.5 8 1 5 1.5 2 2 .5 1-.5 1-1 1-3 1-3 .5-8 0-9-1.5-5.5-2-1.5-1-.5-1 .5-1 2-1zM707.5 267.5l7 .5 7 .5 7.5 2 4.5 2 3.5 3 6.5 10 1 3-.5 2-2 2-2.5 1.5-5 1-5 .5-20 0-19 .5-6-.5-5.5-2-2.5-2 0-2 5.5-13 2-3 2.5-2 6-2 7-1z"/><path fill="#1c5597" fill-rule="evenodd" d="M702.5 272.5l5-.5 5 0 4 1 4 1.5 2.5 2 1.5 2 3 6 0 2-1 1-4 1-13 0-14 1-3.5 0-2.5-.5-1.5-1.5-.5-2 1-3 2-4 2-2 3-1.5z"/></g><line x1="497.4" x2="796.2" y1="303.8" y2="303.8" stroke="#8c4cb8" stroke-width="1.8"/><line x1="497.4" x2="796.2" y1="212.2" y2="212.2" stroke="#8c4cb8" stroke-width="1.8"/><line x1="497.4" x2="796.2" y1="120.6" y2="120.6" stroke="#8c4cb8" stroke-width="1.8"/><rect x="497.4" y="36.6" width="298.8" height="358.8" fill="none" stroke="#000" stroke-width="3"/><line x1="487.9" x2="497.4" y1="395.4" y2="395.4" stroke="#000" stroke-width="3.2"/><line x1="487.9" x2="497.4" y1="372.5" y2="372.5" stroke="#000" stroke-width="3.2"/><line x1="487.9" x2="497.4" y1="349.6" y2="349.6" stroke="#000" stroke-width="3.2"/><line x1="487.9" x2="497.4" y1="326.7" y2="326.7" stroke="#000" stroke-width="3.2"/><line x1="487.9" x2="497.4" y1="303.8" y2="303.8" stroke="#000" stroke-width="3.2"/><line x1="487.9" x2="497.4" y1="280.9" y2="280.9" stroke="#000" stroke-width="3.2"/><line x1="487.9" x2="497.4" y1="258" y2="258" stroke="#000" stroke-width="3.2"/><line x1="487.9" x2="497.4" y1="235.1" y2="235.1" stroke="#000" stroke-width="3.2"/><line x1="487.9" x2="497.4" y1="212.2" y2="212.2" stroke="#000" stroke-width="3.2"/><line x1="487.9" x2="497.4" y1="189.3" y2="189.3" stroke="#000" stroke-width="3.2"/><line x1="487.9" x2="497.4" y1="166.4" y2="166.4" stroke="#000" stroke-width="3.2"/><line x1="487.9" x2="497.4" y1="143.5" y2="143.5" stroke="#000" stroke-width="3.2"/><line x1="487.9" x2="497.4" y1="120.6" y2="120.6" stroke="#000" stroke-width="3.2"/><line x1="487.9" x2="497.4" y1="97.7" y2="97.7" stroke="#000" stroke-width="3.2"/><line x1="487.9" x2="497.4" y1="74.8" y2="74.8" stroke="#000" stroke-width="3.2"/><line x1="487.9" x2="497.4" y1="51.9" y2="51.9" stroke="#000" stroke-width="3.2"/><line x1="509.2" x2="509.2" y1="395.4" y2="399.9" stroke="#000" stroke-width="2"/><line x1="546.7" x2="546.7" y1="395.4" y2="405.4" stroke="#000" stroke-width="3"/><text x="546.2" y="434.4" text-anchor="middle" class="tx">180</text><line x1="584.2" x2="584.2" y1="395.4" y2="399.9" stroke="#000" stroke-width="2"/><line x1="621.8" x2="621.8" y1="395.4" y2="405.4" stroke="#000" stroke-width="3"/><text x="621.3" y="434.4" text-anchor="middle" class="tx">150W</text><line x1="659.3" x2="659.3" y1="395.4" y2="399.9" stroke="#000" stroke-width="2"/><line x1="696.9" x2="696.9" y1="395.4" y2="405.4" stroke="#000" stroke-width="3"/><text x="696.4" y="434.4" text-anchor="middle" class="tx">120W</text><line x1="734.4" x2="734.4" y1="395.4" y2="399.9" stroke="#000" stroke-width="2"/><line x1="771.9" x2="771.9" y1="395.4" y2="405.4" stroke="#000" stroke-width="3"/><text x="771.4" y="434.4" text-anchor="middle" class="tx">90W</text><line x1="509.2" x2="509.2" y1="36.6" y2="34.1" stroke="#000" stroke-width="1.6"/><line x1="546.7" x2="546.7" y1="36.6" y2="34.1" stroke="#000" stroke-width="1.6"/><line x1="584.2" x2="584.2" y1="36.6" y2="34.1" stroke="#000" stroke-width="1.6"/><line x1="621.8" x2="621.8" y1="36.6" y2="34.1" stroke="#000" stroke-width="1.6"/><line x1="659.3" x2="659.3" y1="36.6" y2="34.1" stroke="#000" stroke-width="1.6"/><line x1="696.9" x2="696.9" y1="36.6" y2="34.1" stroke="#000" stroke-width="1.6"/><line x1="734.4" x2="734.4" y1="36.6" y2="34.1" stroke="#000" stroke-width="1.6"/><line x1="771.9" x2="771.9" y1="36.6" y2="34.1" stroke="#000" stroke-width="1.6"/><text x="506.2" y="25.3" class="ti" textLength="261.8" lengthAdjust="spacingAndGlyphs">Zonal advective feedback</text><clipPath id="cpa3"><rect x="834" y="36.4" width="294.8" height="358.8"/></clipPath><rect x="834" y="36.4" width="298.8" height="358.8" fill="#fff"/><rect x="834" y="36.4" width="294.8" height="358.8" fill="#f2f5f8"/><g clip-path="url(#cpa3)"><path fill="#fbd3bf" fill-rule="evenodd" d="M958 36.5l171 0 0 75.5-9 0-26-8-9-1.5-5 0-4 .5-13 5-10 1.5-10 1-42 .5-8-.5-7.5-1-19.5-5.5-20-1-4-1-4-1-11-7.5-13-4-4-2-2.5-2-1-2-.5-3 .5-3 1.5-3 3-2 4-2 13-3.5 3-2 6-4.5 3-2 5-1.5 11-2 4-2 1.5-2.5 .5-4-1.5-4-2.5-2-.5-4zM1095 46.5l-6 3-5 5-5 6-.5 3 10 13 3.5 2.5 3 1.5 3 .5 4 0 4-1 4-2 1.5-1.5 0-2-.5-3-4.5-6-1-3 .5-3 2.5-7-.5-3-1-2-3-1.5-4-.5zM835 42l11 0 5.5 1.5 2 1 1.5 1 1 2-.5 2-1 2-1.5 2-6 3.5-13 .5 0-15.5zM1027 156.5l6-.5 7 .5 5 .5 3.5 1.5 2.5 2 .5 2 .5 6-1 3-2 1-3 .5-22 .5-8-1-5-1.5-1.5-1.5-.5-2 1-2 2-2 4-3 3.5-2zM917 171.5l7-.5 6 1.5 3 1.5 1.5 1.5 1 2 0 1-1.5 2-2 1.5-6 2-8 0-7-1.5-2-1-2-2-.5-2 .5-1.5 1.5-1.5 1.5-1.5 3-1zM1057 174l8-.5 14 .5 5 .5 1.5 1 .5 1-.5 1-1.5 2-4 1.5-6 1.5-6 0-5.5-1-4.5-2-2-3-.5-1zM1120 175l9 0 0 8.5-8 0-2-1-2-2-.5-2 1-2zM1115 227.5l5-1 9 0 0 13.5-8 0-1 .5-1.5 3 0 2 .5 5 1 2 1 .5 8 0 0 101.5-8 0-1-1-4.5-9-4.5-11.5-2-3-2-1-2-.5-3 0-6 3-4 2.5-2.5 2.5-1 2-.5 2 2.5 9 .5 11 1.5 4 2.5 2 3 1.5 15 4.5 3 1.5 4 3.5 9 .5 0 15-8 0-6-2-6-1.5-19-1.5-14-.5-22 .5-34 2.5-7-.5-12-3-6-1-7 0-15 1.5-4 0-4-1-5-2-21-9.5-4-3-3-3.5-.5-3 0-2 1-2 2.5-2 8-2.5 15-2.5 2.5-1 .5-1 .5-1-1-2-4-3-5.5-2.5-6-1-8-.5-15 2-7 .5-28-2.5-12 .5-7 1-6 2-16 8-12 0 0-32.5 12 0 6 1 5 .5 24-2.5 11 0 4 .5 4 1.5 10 5.5 5 2 6 1.5 7 0 4-1 3-1 1.5-1 1-2 0-3-3.5-7 0-2 1-1.5 4-2 11-3 9-5 5-1.5 9-1 21 0 24-2 28-1 25-3 27-.5 5.5-.5 4.5-1.5 2.5-1.5 1-1 0-2-1-2-6-4-1-2 .5-2.5 4-4.5 0-2-2-2-9-4.5-4-3-1.5-2.5-1-2 0-5 1.5-6 3-5 15-11z"/><path fill="#f3a98a" fill-rule="evenodd" d="M1005 36.5l124 0 0 68.5-9-.5-8-5-5-5-.5-2 .5-2 2-2 6-4.5 2-2 1-3.5 0-3-1-4-3-6-1-3 0-3 1.5-9-.5-4.5-1-1.5-3-2-4-.5-5-.5-9 .5-6.5 2.5-21.5 16-1.5 2 .5 2 2.5 2 7.5 5 3.5 4 2 5-.5 4-1.5 3-3.5 3-16 8-2 2-1.5 3-3 2-5.5 1.5-9 .5-16-1-19 0-5-.5-4-1.5-3-2-4-4-3-2-15-6-4-2.5-2-2.5-1-3-1-4 0-4 1-2 2-1.5 6-2 12 0 23 2.5 9 .5 5-.5 5-1 5-2 3-2 1.5-2 .5-1-.5-2-3.5-3-5-2.5-4-.5-4-.5-16 1.5-6 0-8-2-3.5-2-2-2-1.5-3 .5-2 1-1 3-1 14.5-1.5 6.5-1.5 .5-1 0-3zM1120 289.5l1-.5 8 0 0 55.5-8 0-1-1-2-9-.5-6 .5-7-1-2.5-1-.5-3-1-6 0-6 .5-5 1.5-2.5 2-5 6-8 7-2.5 3 0 3 4 7 1 4 .5 6-1 8-2 4-2 3-5 4-6.5 4-6 2.5-9 1.5-19 2-11 0-21-4.5-23-1-6-.5-5-2-3.5-2-4-3-1-2-.5-2 2-1.5 15-3.5 9.5-3 3-2 1-1 .5-2-1-2-1-1.5-5-4-4.5-2.5-16.5-7-3.5-2-2.5-2-1-3 0-3 1.5-4 2.5-2.5 3-1 5-.5 19 .5 7 0 8-1.5 9-3 4-2 .5-1-.5-1-6-5-1-2 0-1 1.5-1 5.5-2 7-1 6-.5 33 .5 42-4.5 7-1 5-1.5 4-2zM835 331l12 0 6.5 3.5 1 1 0 2-1 2-2 2-5.5 4-12 0 0-14.5z"/><path fill="#e58068" fill-rule="evenodd" d="M1016 36.5l64 0 0 3-.5 1-2.5 1.5-6 5.5-6 3.5-10 4-8 1-6-1.5-27-9-.5-1 0-1 1.5-3 0-4zM1115 36.5l14 0 0 32.5-8 0-1-1-1.5-4.5-.5-3 1-12-.5-4-.5-2-2.5-2-1-1 0-3zM1043 71.5l8-.5 8 1.5 6 3 1.5 2 1 2 0 2-1 3-3.5 4-7 3.5-8 2-5 .5-6 0-19-2.5-15 1-7-.5-7-2-6-2.5-3.5-2.5-1.5-3 .5-2 1-1 5.5-1.5 8 0 17 1.5 8-.5zM1119 295.5l2-1 8 0 0 18-18 0-23-1-5 .5-2 1-1 1.5 0 7-1 4-1.5 2-2.5 1.5-5 2.5-3 .5-4 0-13-2-6-.5-19 2.5-6 .5-7-1-3-1.5-1-1.5 .5-2 1-1 11.5-5 4-3 1.5-3-.5-6 .5-1 1.5-1 6-1 10 0 31 2.5 3-.5 5-3 6-2 22-4.5 5-1.5zM1047 341.5l12-.5 7 1.5 3 1 3.5 3 2.5 3 1 2.5 .5 2.5-.5 3-.5 3-2 3-10.5 11-6 4-5 2-6 1.5-7 .5-7 0-6.5-1-13.5-3.5-24-2-4-1-2.5-1.5-.5-1 .5-1 5-3 5.5-2 11.5-3 4.5-2 .5-1 .5-2-1-6 .5-2 1.5-2 2-1 6-2 8-2z"/><path fill="#d1504a" fill-rule="evenodd" d="M1028 36.5l33.5 0 0 3 .5 3-1 1.5-1.5 1.5-4.5 1.5-5 1-5.5-.5-8.5-2.5-7-3.5-1-1zM1042 78l6 0 5 1 2 1 1 1.5 .5 1-.5 2-1.5 2-1.5 1-6.5 2-7 0-6.5-2-2-1-.5-1-.5-1 1.5-2 4.5-2.5zM1120 299l9 0 0 9-18-.5-5-1-2-1 .5-1 2-1zM1041 311.5l4-1 4 0 5 .5 4 1.5 5 3 2 3 0 2-.5 1-1.5 1-5 1-12-.5-7-1-2-1.5-.5-2 0-2 1.5-3zM1045 346.5l10.5 0 4.5 1 3 1 2 1 1.5 2 1 2 0 3-2.5 4-4.5 5-5 6-3.5 3-3 1.5-4 1-5 0-4-.5-4-2-2-3 0-3 1-5 0-2-3-6-.5-3 1.5-2 4.5-2 4.5-1z"/><path fill="#b6d5ea" fill-rule="evenodd" d="M966 111.5l7 0 18 2.5 8 0 27-1 56-1.5 11 1 27 5 9 0 0 54.5-8 0-2-.5-3.5-2-3.5-4-2-1.5-3-1-3-.5-9.5 1-11.5 4-5 1-6 .5-5.5-.5-2.5-1-2.5-2-.5-3 .5-5-1-2-1.5-1-4-1-25-1.5-11 .5-6 1-12 5.5-4 1-3 .5-5-1-8-5-5-1.5-6-1-17-2-8-1.5-6-3.5-5-4.5-1.5-4 0-2 .5-2 2-2 2-1 10-3 3.5-2 2-3 2.5-6 2-2 4-1.5zM1091.5 126.5l-7.5 1.5-6.5 3.5-2 3 0 2 1 2 1.5 1 2 1 7 .5 11-1.5 4-1.5 3-1.5 2-2 0-2-.5-2-1.5-1.5-3-1.5-3-1zM1024 181.5l8-1 6 .5 4 .5 7 3 5 1 14 1.5 10-.5 8-.5 17-4 3 .5 6.5 3 5.5 1.5 11 .5 0 33-16 .5-6 1-4 1.5-4.5 3-8.5 7.5-2 2.5-2 3-1.5 7-1 12 .5 5 4 9 .5 8 1 5 0 1-.5 1-4 1-20 2-22 4-14 1-41 1.5-23-.5-21-1-20 1.5-19-1-7 .5-40 6-6 2-6 3.5-12 0 0-23.5 12 0 3-2 1.5-2-.5-2-3-2-13-.5 0-34.5 25 .5 29-1 23 2 6-.5 4-1 3-1 3-3 8.5-13 1-3-1.5-6 .5-2 1-2 2.5-2 25-11.5 6-2 7-.5 20 .5 7-.5 2-1 1-1 2-6 3-3 5-2zM1018.5 243.5l-3.5 1-2 1-1 1 0 1 1 1 6 1.5 7 .5 7-.5 4.5-1.5 1.5-1 0-1-1-1-2-1-4-1-7-.5zM1045 391.5l11 0 20 2 27 0 7 .5 5 1.5-104 0 6-1.5z"/><path fill="#7ab3d8" fill-rule="evenodd" d="M1040 114.5l16 0 11 1 7.5 2 2 1 1 1 .5 1-.5 1-1.5 2-9.5 7-1.5 2-1 3 .5 7-2 3-4.5 2.5-8 1.5-8 0-9-.5-9-1-6.5-1.5-2.5-1.5-1.5-1.5-.5-2 1.5-5 0-2-1.5-2-2-1-6-1.5-8-1.5-21-1.5-6-1-4.5-1.5-1-1-1-2 .5-2 2-2 3-1 3-.5 6 0 14 1.5 7 0 26-2.5zM1120 124l9 0 0 14.5-8.5 0-2.5-2-1-4 0-4 1-3zM960 136.5l9 .5 7 1.5 6 3 1.5 2 0 1-.5 1-2 1-6 1-9-.5-7-1.5-2.5-1-3-2-1-2 0-1 .5-1 1.5-1zM1103 145.5l6 0 2 .5 2 1.5 1 2 1 4 0 2-1 1.5-4 .5-25 1.5-4-.5-1-1 .5-2 1-2 2-2 3-2 7.5-2.5zM1119 158l10 0 0 10.5-8 0-2-1-1.5-3-.5-4 0-1zM1118 191.5l11-.5 0 24-9 0-13 1-7 1-4 1-4 2.5-6.5 7-8 7-1 2-1 2 1 10-2 16 .5 4 2 7 0 3-.5 2-1.5 1.5-4 2.5-8 2-25 5.5-11 1-14 .5-33 .5-10-.5-27-4-30-3-7-.5-11 2-20 6.5-23 4-6 2-12 0 0-11.5 13 0 12-6.5 2-2 1-2-1-2-1-1-3-2-3-.5-7-1-13 0 0-20.5 40-.5 49 0 8.5-.5 2.5-1 1.5-2 3.5-10 2.5-4 3.5-3.5 10-5.5 1.5-2 .5-2-2-6 .5-2 4-3 8.5-3.5 6-1.5 5-.5 22 1 11-.5 9-1 10-2 9-4.5 4-2 7-1.5 9-1 14-.5 19 2 6 0 7-.5zM1015.5 240.5l-5.5 1-4 1-3 2-1.5 2 0 2 2 2 2.5 1 5 1 7 1 8 0 15-1 7.5-2 2.5-2 1-2-1-2-1.5-1-2.5-1.5-5-1-14-1zM1037 394.5l12-.5 10.5 1.5-30 0z"/><path fill="#4390c5" fill-rule="evenodd" d="M1038 116.5l10.5 0 9 1 6.5 2 1.5 2-.5 2-1.5 2-8.5 6-1.5 2 0 2 1 4 0 2-1 2-1.5 1-5 1.5-6 0-7.5-.5-4.5-1.5-2-1.5-.5-2 3.5-6-1-2-3-2-12.5-5-3-2-.5-1 .5-1 5-2 10-2zM1119 196.5l2-1 8 0 0 13-16 0-4-1-1-1-.5-2 2-2zM1032 207.5l12-1 6 1 8.5 5 12.5 4.5 4 2 1 1.5 1 2-.5 2-1.5 2-4 3.5-7 4-4 1.5-4 1-8 .5-31 0-9 .5-7 1.5-6 2.5-4 3-2.5 3-.5 3 2 2 3 1.5 5 1 7 1 19 .5 33-1.5 4 .5 2 1.5 1.5 2.5 3 13 0 5-2.5 3-3.5 2-6.5 2-16.5 4-10.5 1.5-11 1-21-.5-18 .5-13-1-26-5-8-2.5-3-3-1-3 .5-4 2-4 3-3 5.5-2.5 19-4.5 2.5-1 2.5-2 .5-2-1-2-7-6-3-4-.5-2 .5-2 3-3 6.5-3 9-2 7-.5 18-.5 6-1 5-1 4-2 2-2-.5-2-3-5-.5-2 1-1.5 3.5-1.5 4-1z"/><path fill="#2466b3" fill-rule="evenodd" d="M1033 119.5l8-1 8 .5 5.5 1.5 1.5 1 0 1 0 1-2 2-4 2-5 1-6 0-8-2-3-1.5-2-1.5-.5-1 1-1 1.5-1zM1032 216.5l3-1 4 0 12 2.5 5.5 1.5 4.5 2 1.5 1 .5 1 0 1-1.5 2-3.5 2-9 3-11 1-6-.5-4.5-.5-1.5-1 0-1 4-6 .5-5zM1026 259.5l17 0 9 1.5 3 1.5 2 2 2 3 .5 3 .5 3-.5 2-1.5 2-2.5 2-8 3-16 4-7.5 1-7 .5-47-1-14-2-12-2.5-5-2.5-1.5-1.5-1-2 .5-3 1-2 4-3.5 7-2.5 14-3 8-1.5 7-.5 21 0z"/><path fill="#1c5597" fill-rule="evenodd" d="M1023 264.5l12-1 9.5 1 3 1 2.5 1.5 1.5 2.5 .5 2-.5 2-1.5 2-4 2.5-8 2.5-14 3-10 .5-18-.5-18 0-8 0-9-1.5-8-1.5-4.5-2-1.5-1 0-1 0-3.5 2-1.5 5-2 9-2 15-1.5 31 0z"/></g><line x1="834" x2="1132.8" y1="303.6" y2="303.6" stroke="#8c4cb8" stroke-width="1.8"/><line x1="834" x2="1132.8" y1="212" y2="212" stroke="#8c4cb8" stroke-width="1.8"/><line x1="834" x2="1132.8" y1="120.4" y2="120.4" stroke="#8c4cb8" stroke-width="1.8"/><rect x="834" y="36.4" width="298.8" height="358.8" fill="none" stroke="#000" stroke-width="3"/><line x1="824.5" x2="834" y1="395.2" y2="395.2" stroke="#000" stroke-width="3.2"/><line x1="824.5" x2="834" y1="372.3" y2="372.3" stroke="#000" stroke-width="3.2"/><line x1="824.5" x2="834" y1="349.4" y2="349.4" stroke="#000" stroke-width="3.2"/><line x1="824.5" x2="834" y1="326.5" y2="326.5" stroke="#000" stroke-width="3.2"/><line x1="824.5" x2="834" y1="303.6" y2="303.6" stroke="#000" stroke-width="3.2"/><line x1="824.5" x2="834" y1="280.7" y2="280.7" stroke="#000" stroke-width="3.2"/><line x1="824.5" x2="834" y1="257.8" y2="257.8" stroke="#000" stroke-width="3.2"/><line x1="824.5" x2="834" y1="234.9" y2="234.9" stroke="#000" stroke-width="3.2"/><line x1="824.5" x2="834" y1="212" y2="212" stroke="#000" stroke-width="3.2"/><line x1="824.5" x2="834" y1="189.1" y2="189.1" stroke="#000" stroke-width="3.2"/><line x1="824.5" x2="834" y1="166.2" y2="166.2" stroke="#000" stroke-width="3.2"/><line x1="824.5" x2="834" y1="143.3" y2="143.3" stroke="#000" stroke-width="3.2"/><line x1="824.5" x2="834" y1="120.4" y2="120.4" stroke="#000" stroke-width="3.2"/><line x1="824.5" x2="834" y1="97.5" y2="97.5" stroke="#000" stroke-width="3.2"/><line x1="824.5" x2="834" y1="74.6" y2="74.6" stroke="#000" stroke-width="3.2"/><line x1="824.5" x2="834" y1="51.7" y2="51.7" stroke="#000" stroke-width="3.2"/><line x1="845.9" x2="845.9" y1="395.2" y2="399.7" stroke="#000" stroke-width="2"/><line x1="883.4" x2="883.4" y1="395.2" y2="405.2" stroke="#000" stroke-width="3"/><text x="882.9" y="434.2" text-anchor="middle" class="tx">180</text><line x1="920.9" x2="920.9" y1="395.2" y2="399.7" stroke="#000" stroke-width="2"/><line x1="958.5" x2="958.5" y1="395.2" y2="405.2" stroke="#000" stroke-width="3"/><text x="958" y="434.2" text-anchor="middle" class="tx">150W</text><line x1="996" x2="996" y1="395.2" y2="399.7" stroke="#000" stroke-width="2"/><line x1="1033.6" x2="1033.6" y1="395.2" y2="405.2" stroke="#000" stroke-width="3"/><text x="1033.1" y="434.2" text-anchor="middle" class="tx">120W</text><line x1="1071.1" x2="1071.1" y1="395.2" y2="399.7" stroke="#000" stroke-width="2"/><line x1="1108.6" x2="1108.6" y1="395.2" y2="405.2" stroke="#000" stroke-width="3"/><text x="1108.1" y="434.2" text-anchor="middle" class="tx">90W</text><line x1="845.9" x2="845.9" y1="36.4" y2="33.9" stroke="#000" stroke-width="1.6"/><line x1="883.4" x2="883.4" y1="36.4" y2="33.9" stroke="#000" stroke-width="1.6"/><line x1="920.9" x2="920.9" y1="36.4" y2="33.9" stroke="#000" stroke-width="1.6"/><line x1="958.5" x2="958.5" y1="36.4" y2="33.9" stroke="#000" stroke-width="1.6"/><line x1="996" x2="996" y1="36.4" y2="33.9" stroke="#000" stroke-width="1.6"/><line x1="1033.6" x2="1033.6" y1="36.4" y2="33.9" stroke="#000" stroke-width="1.6"/><line x1="1071.1" x2="1071.1" y1="36.4" y2="33.9" stroke="#000" stroke-width="1.6"/><line x1="1108.6" x2="1108.6" y1="36.4" y2="33.9" stroke="#000" stroke-width="1.6"/><text x="843.5" y="24.9" class="ti" textLength="225.8" lengthAdjust="spacingAndGlyphs">Thermocline feedback</text><clipPath id="cpa4"><rect x="1173.3" y="36.4" width="294.9" height="358.8"/></clipPath><rect x="1173.3" y="36.4" width="298.9" height="358.8" fill="#fff"/><rect x="1173.3" y="36.4" width="294.9" height="358.8" fill="#f2f5f8"/><g clip-path="url(#cpa4)"><path fill="#fbd3bf" fill-rule="evenodd" d="M1373.5 36.5l95 0 0 9-2 0-1 .5-3 2.5-1.5 3-.5 3 1 6 2 4 2.5 3 2.5 0 0 66-7 1-5-.5-5-1.5-6.5-4-3.5-1.5-23-2.5-7 .5-11 3.5-6 1.5-10 0-10-1-6-2-5-3-2.5-3.5-2.5-8-2-4-4-3.5-7-3-4-1-4 0-9 3.5-4 .5-8-1-12 0-3-1-2-1.5-1.5-3 .5-3.5 2-2.5 4-1.5 5-.5 10 .5 16 0 13-2.5 6 0 7 2 3 2 2 2 2 4.5 0 8.5 .5 3 2 3 2.5 1 3 1 4-.5 9-4 3-.5 3 .5 6 2.5 4 .5 4-.5 3.5-2 1.5-2 1-3-.5-3-.5-2-3-2.5-8-3.5-2-3.5-1-2.5 0-4 1.5-6 3.5-5 2-2 4-2 5-1.5 12-1.5 4.5-2 2-2 1-2 0-2-.5-2-3-2.5-5-1.5-13-1-8 0-3 1-3 2-2 3-3.5 8-1.5 1.5-2 1.5-4 .5-11-.5-12 2.5-6.5-.5-2.5-1.5-3-2-4.5-6.5-2-2-6.5-3.5-3-2-1.5-2.5-.5-2 0-4 2-2 5-1.5 6 .5 6 2.5 4-.5 11-2.5 3.5-1.5 .5-4zM1398.5 153.5l5-.5 4 1.5 2 2 4 6 4 2 11 2.5 12 4 13 1.5 4 1 2 1.5 6 6.5 1 .5 2 0 0 34.5-10 1.5-18 0-10 1-6 1.5-9 4-12 1.5-6 4-2 1-5 0-9-1.5-2 .5-2 1-5 5-4 2-4 0-4-2-2.5-2.5-1-3 0-3 1-2 2-2 9-7 1.5-3 1.5-6 2-2 12.5-4.5 5-3 3-2.5 8.5-12 1.5-3 1-3-1-3.5-2-1.5-2-.5-12-1-10-1.5-10-.5-4.5-.5-2-1-3-2-1-2 .5-2 2-2 4-1 3 .5 8 2.5 5 0 6-2.5zM1466.5 153l2 0 0 14.5-2 0-2-1-1-2-1-3 0-3 .5-2 1.5-2zM1397.5 236.5l2-.5 3 0 11.5 4.5 12 3 2.5 1 1.5 2 .5 3-2 2.5-2 .5-3 .5-25-2-6-1.5-3-2-1-2 .5-2 1-2 2.5-2.5zM1361.5 265.5l3 0 2 1 6 6 4 2.5 3 .5 10.5 0 5.5 1.5 2 2.5 .5 2 0 2-1.5 2-3 1.5-4 .5-13 0-11 1.5-9 0-4 .5-4 1.5-6 6-4 1.5-4 0-4-.5-4-1.5-2-2-2-4-.5-6 1-5 2.5-3 2-1 2-.5 8 1.5 3-.5 2-1 5-5 3-2 6-2zM1416.5 296l1-.5 1 0 4.5 4 3.5 2 10 2.5 8 .5 24 0 0 27.5-2 0-1 1-1 2.5-.5 2 1.5 4 1 1 2 0 0 26-2 0-1 .5-2 2.5-1.5 3-2 8-1.5 3-2.5 2-8.5 4.5-4 3.5-29.5 0-8.5-3.5-6-.5-12 1.5-4 1-2 1.5-46 0-1-2-.5-3 0-4 1.5-3 2.5-3 5.5-3 2.5-2 4-7 1.5-2 3 0 13 4 4.5 3 5.5 6 3 1 3 0 5-.5 4-2 8-8 8-6.5 1-2 .5-2-.5-2-1-2-10-9.5-3-2-5-1-13 .5-12-2-9 3-4 0-2-.5-2-1.5-1-2 0-2 .5-2 1.5-2 7-5 5-6 4-2 2 0 2 0 4 6 4 1.5 5 0 3-1.5 1.5-1 .5-1 0-2-1-2-3-1.5-8.5-1.5-1.5-1.5-1-1.5 0-4 .5-2 1.5-2 3-1 3 0 10 3.5 3 .5 4 0 4-1 5.5-2 5-3 2.5-3z"/><path fill="#f3a98a" fill-rule="evenodd" d="M1414.5 36.5l54 0 0 7.5-3 .5-4.5 3-1.5 2-.5 3 .5 6 2.5 6 3.5 4 1 .5 2 0 0 60.5-2 0-2 1.5-2 .5-4 .5-4-1.5-6.5-4-4.5-2-29-2.5-6 .5-7.5 3-4.5 1-5 .5-6 0-5-.5-3-1-2-1-2.5-2 0-2 1-1 7.5-2.5 9-3.5 4 0 8 3.5 4 .5 4-.5 4-3 2-2.5 1-3 .5-3-.5-3.5-1.5-2.5-1.5-2-8-4-2.5-2-1-2-.5-3 .5-3 1-3 3.5-5.5 5-3.5 5-1.5 12-1.5 5-2 3-3 .5-2 .5-3-1.5-3-1.5-1.5-3-1-21-3-9 0-3 .5-2 2-4 10.5-1 1.5-2 2-4 .5-10-1.5-10 1-2.5 0-2.5-1-3-3-1-4 1-4 3-4 5-3 6-1 13 1 7-1 2-.5 5-3.5 13.5-2 .5-1 0-3zM1352.5 93l3 0 3 .5 3 1 2 2 1 2 .5 3-.5 3-1 1-1 .5-2-.5-12-7-1-2 .5-1 1.5-1.5zM1398.5 157l4-.5 3 1.5 2 2.5 2 5 2 1.5 3 .5 12 1.5 14 3.5 14 2.5 4 2 7 5.5 3 .5 0 32.5-11 1.5-17 0-10 1-6 1-8 3.5-3 .5-4-.5-7-4-2-.5-3 5.5-3 2.5-2 .5-3 0-4-2-1.5-1-.5-2 .5-2 1.5-1.5 4-1.5 4 0 6 .5 .5-.5-.5-4-5-8 0-3 6.5-11 5-7 2-5 .5-6.5-1-1.5-1-1-3-.5-12-.5-4-1-2-1 0-1 .5-1 2-2zM1400.5 239l5 .5 18 5 3.5 2 .5 2-.5 1-1.5 1-5 1-16-1.5-8-1.5-2.5-2-.5-1 .5-2 2.5-2.5zM1358.5 270l3 0 3 .5 7 6 3 1.5 3 0 10-1.5 5 1 3 2 .5 1 0 2-.5 1-2 1.5-5 1-5-.5-9-2-13 1-6 0-4-1-2-1-1-1-.5-2 1-2 2-3 2.5-2zM1418.5 305l5-.5 18 2 27 1 0 22.5-2 0-2 1.5-1.5 3-.5 3 .5 3 2 3 1.5 1 2 0 0 22-3 .5-3 2.5-2 3-2.5 8-2.5 4-10 5.5-7.5 5.5-18.5 0-12-4.5-6-1.5-15 1-4 0-1.5-1 0-1 1-2 3.5-2 6-3 3-2 6.5-8 9.5-8 1.5-2 .5-3-2-4.5-6-5.5-4-6-2-1.5-4-.5-12 .5-4.5-.5-4.5-2-1.5-2 .5-1 2-1.5 12-2.5 9.5-3 1.5-2 0-8 1.5-3 5-3z"/><path fill="#e58068" fill-rule="evenodd" d="M1418.5 36.5l50 0 0 6-3 .5-7 3.5-2 2-.5 2 1 5 4 10 2 2 2 2 1.5 .5 2 0 0 31-2 0-.5 .5-3.5 18-.5 5-.5 1.5-1 1-3-.5-5-3-5-1-5-1-15 0-6-1.5-3.5-1.5-.5-2 2-5.5 .5-3.5 0-4-1-3-.5-2-2-2.5-7.5-3.5-2.5-2.5-1.5-3.5 .5-5 1.5-3 2-3 4.5-3 5-2 12-1 3.5-1 2.5-1.5 2-1.5 1-2 1.5-3 0-2-.5-4-3-2-17-2.5-4-1-.5-.5-.5-7 2-1 .5-1 0-3zM1388.5 117.5l3-1 3.5 1 3 2 .5 1 0 1-2 1.5-3 .5-4 .5-4-1-2-.5-.5-1 .5-1zM1416.5 171l4-.5 6 .5 14 3.5 12 1.5 4 2 9 6 3 0 0 30-2 0-5 1.5-4 .5-17 0-10 .5-6 1-8 2-2.5 0-2.5-1-1.5-2-8-12-1-3 0-2 .5-3 2-4 6-9 3-9 1.5-2zM1401.5 242.5l3-.5 4 .5 11 3 2 1 .5 1-1.5 1-4 .5-8-.5-6-1-3-1-.5-1 0-1 .5-1zM1387.5 278.5l3 0 1.5 1 1 1 0 2-1.5 1-3 .5-3 0-3-1.5-.5-1 .5-1 2-1.5zM1419.5 308.5l8-1 22 1.5 7 .5 10 2.5 2 0 0 16-2 0-3 2.5-2 3-1 3 .5 3 2.5 4 3 3 2 0 0 18-4 .5-3.5 2.5-2 3-3.5 9-3 3-9 5.5-6.5 4.5-5.5 1.5-7 .5-6-1-12-4.5-10.5-2.5-1.5-1 0-1 1-2 6-9 3-3 7-5 3-4 .5-3-1-3-6-8-1-3 0-3 1.5-6 .5-4-1-4-2.5-6-.5-3 1.5-3 2.5-2 5.5-3.5z"/><path fill="#d1504a" fill-rule="evenodd" d="M1421.5 36.5l47 0 0 4.5-2 0-21 7.5-9 1-8 0-7-1.5-2.5-.5-2.5-1.5 0-2.5 4-3 .5-4zM1448.5 53.5l3 .5 3 2.5 5 9 2.5 3 3.5 2 3 .5 0 24-2 0-1 1.5-4.5 14-2.5 3.5-3 2.5-6 2-12 1-7 0-5-1-2-1-1.5-2 0-12-1.5-6-2.5-3-7.5-4-2-2-1.5-3 .5-4 3-5 2-2 3-2 4-1 13-1 3-1 3-1.5 3-3.5 5-9.5zM1419.5 173.5l4-.5 4 0 13 3.5 11 1.5 4 1.5 10 5.5 3 .5 0 27.5-2 0-5 1.5-5 .5-17 0-17 1-4 0-3-1.5-8-11-1-3 0-3 1-4 5-7 1.5-8 1-2 1.5-2zM1426.5 310.5l12 0 11 1 6 2 10 5 3 0 0 5.5-2 0-1 1-4 4-2.5 3.5-.5 4 1 4 2.5 4 3.5 3 1 1 2 0 0 13.5-5 .5-4 2-2.5 4-3.5 8-2 2.5-2 2-7 4-9 6-4 1.5-4 0-4-.5-4-1-14-5.5-3-2-.5-2 1.5-4 2.5-4 10.5-8 2.5-3 1-2-.5-4-4-8-1-3 0-3 1.5-7 .5-4-.5-4-2.5-7 0-3 2-3 3.5-2 4.5-1.5z"/><path fill="#b82132" fill-rule="evenodd" d="M1424.5 36.5l40 0 0 3-.5 1-4.5 1.5-15 2-10 3.5-6 0-6-1-1.5-1-1-1 1-2 2-2 .5-4zM1450.5 59.5l2 0 2 2 4 6 3 2.5 4 2 3 .5 0 19-2 0-1.5 1-2 3-4 11-2.5 3-3 2.5-6 2.5-9 2-6 .5-4-.5-3-2-1-2-1-13-1-4-2.5-3-6.5-3.5-2.5-1.5-1.5-3 .5-4 2.5-4 2.5-2 2-1 4.5-1 12-1 6-1.5 3-2.5 5-6.5zM1424.5 175.5l6 .5 10 3 11 1.5 13 5.5 4 .5 0 24.5-2 0-3 1.5-3.5 1-6.5 .5-27 .5-4-.5-3.5-1.5-2.5-3-3.5-7-.5-3 1.5-3 1.5-1.5 3-.5 9 0 4-.5 3.5-1.5 1-2 0-2-2.5-2.5-4-1-7 0-3.5-1.5-1-2 .5-3.5 2-1.5zM1427.5 313.5l10-.5 8 1 5.5 2.5 5 4 1 2 1 2-2.5 9 0 5 2 4 4 4 4 4 1 .5 2 0 0 8-6 .5-5 1.5-3 3.5-3 8.5-3 4-8.5 5.5-7.5 6-4 1.5-4 .5-7-1.5-10-4.5-2-1.5-1.5-1.5 0-3 1-3 2.5-2.5 13-8.5 3-3 0-3-4.5-8-1-4-.5-3 1.5-12 0-4-1.5-8 .5-2 2-2 3.5-1.5z"/><path fill="#7e0a23" fill-rule="evenodd" d="M1427.5 36.5l32.5 0 0 3-1 1-1.5 0-15 1-9 3.5-5 .5-3-.5-1.5-1.5 .5-1 1.5-2 .5-4zM1451.5 65.5l2 1 3.5 4 2.5 1.5 4 1.5 5 0 0 14.5-4 .5-3 2-5 11-2.5 3-3.5 3-5.5 3-6.5 2.5-4 1-4-.5-2.5-2-1.5-3 0-5 0-9-.5-3-1.5-1.5-8-2.5-2.5-1-1-1-1-2 .5-4 2.5-3 4-2 4.5-.5 12-.5 6-1.5 3-1.5 5-4.5zM1448.5 185.5l2-.5 3 0 12 3 3 0 0 19.5-2 0-3 3-2 1-7 1-25 .5-4-.5-3.5-2-1.5-2-1-3 0-3 1-1.5 2-1.5 2-.5 16-1 5.5-1.5 1-2-.5-7 .5-1zM1430.5 317l5-.5 4 .5 4 1.5 2.5 2 2 4 1.5 11 1 3 2.5 4 6.5 7 1.5 3-.5 1-1 .5-6 2.5-3.5 3-1 3-1.5 8-1.5 2-1.5 2-7 4.5-6 5.5-2 1.5-3 1-4 .5-5-1.5-6-2.5-2.5-2-1-1-.5-2 1-3 3.5-3 6.5-3 9-1 2-1 2-1.5 1.5-2.5 .5-3-1-2-1.5-2-5.5-5-2-3-.5-3 1.5-11 0-13 2-2.5z"/><path fill="#b6d5ea" fill-rule="evenodd" d="M1466.5 47l2 0 0 19.5-2 0-1.5-1-2-4-1-4 0-3 1-3 1.5-3zM1410.5 54.5l10 0 7.5 1 4 2 1 1 .5 2-.5 3-3 2-3.5 1-11 1-5 1.5-7.5 4.5-2 2-1.5 2-1 4-.5 6 .5 5 1 4 2 2 7 2.5 2 1.5 1 1 .5 2-.5 3-3 2-4 .5-3-1-6-3-2-.5-2 .5-6 3.5-4 2-4 .5-3-1.5-2-2-1-2-.5-9-1.5-5-3-4-7.5-6-.5-2 1-1 1.5-1 15.5-6 4-1 10 .5 4-1 2.5-2.5 2.5-8 3-4 3-2zM1338.5 106l2-.5 3 0 5 2 3 3 .5 2-.5 2-2 1.5-4 .5-5-.5-4-1.5-2-2-.5-2 1-2zM1414.5 126.5l7 0 17 2.5 3.5 1.5 7 4 4.5 1 7 1 8 0 0 13.5-2 0-4.5 3.5-2 2-.5 3 1.5 7 1.5 3 2 1 4 .5 0 10.5-2 0-1-.5-2-2.5-2-5-2-1.5-12-1-6-.5-6.5-2-15.5-6-3-2.5-5-6.5-4-2-6-1-6 .5-3 1-6.5 4.5-5.5 1.5-5-.5-4-2-1-2-.5-3 3.5-11 2-2.5 4-1 9-.5 7-1.5 6-1.5 8.5-4zM1181.5 137l5-.5 5 1 3.5 2 2 3 1.5 5-.5 6-1.5 3.5-3 2.5-4 1.5-4 .5-3-.5-3-1-6 0 0-22 6 0zM1349.5 170.5l4-1 15 3 28 1.5 3 1 1.5 1.5 .5 1 .5 2-2 4-5.5 8-4 3.5-4 2-4 1-5 .5-5 0-8-2-4-.5-6.5 .5-3.5 1-1.5 2-.5 2 0 2 1 2 2 1 8 2 1.5 1 1 2-.5 3-2 2-4 2.5-3 0-2-.5-1.5-1-1-2-1.5-5.5-1-1.5-8.5-3-2-2-.5-2 .5-3 1.5-2 6-3 1.5-2 1-3 0-9 .5-4 1.5-3zM1181.5 193.5l4-.5 4 .5 3 .5 2.5 1.5 1.5 2 1 2 0 3-1.5 2-2.5 2-5 1.5-4 0-5-1-6 0 0-13 6 0zM1462.5 218.5l6-1 0 85-24 .5-8-1-7-2.5-2.5-2-4.5-5.5-2-1-3-.5-3 0-3 2-1 2-1 6-1 2-2.5 2-3.5 1.5-4 .5-5-.5-16.5-5.5-3.5-2-1.5-2 0-2 1.5-2 5-2 13-1.5 5.5-1.5 2.5-2 1-2-.5-3-1-2-2.5-2.5-4-1.5-12-1-3.5-1-4-3-4-6-2.5-2-4-1-8 1-4-1-6-6-7-4-2-3 0-3 1-2 3-2 4-1 4-.5 3 .5 8 3 5 1 5-.5 11-3 1 .5 1 1 1.5 5 1.5 2 2 2 3 1 4 1 15 .5 14 2 6-.5 3-1.5 1.5-2.5 .5-3-1-2-2-2-2.5-1-12.5-3-7-3-3-3 0-2 .5-1 2.5-1.5 8-3 9-4.5 5-1.5 9-1zM1466.5 335l2 0 0 5.5-2 0-.5-1-.5-2zM1383.5 345.5l7 0 5 1.5 10 8 1.5 2.5 .5 2 0 2-1.5 2-11.5 10.5-3 2-4 1.5-3 0-3-1-9-7-11-5-3.5-3-1.5-4 0-3 1-2 3-2.5 4-2.5 6-1.5zM1466.5 371l2 0 0 24.5-21 0 4-3 7-3 2.5-2 1.5-3 1.5-10 1.5-2.5zM1393.5 393.5l9-.5 4 1 3.5 1.5-24.5 0 3-1.5z"/><path fill="#7ab3d8" fill-rule="evenodd" d="M1466.5 48.5l2 0 0 17-2 0-1-1-1.5-3-.5-3 0-3 .5-3 1-2zM1411.5 56.5l8-.5 7 .5 3.5 2 .5 1 .5 2-1 2-3.5 1.5-11 1.5-10 2-2 0-1.5-1-.5-2 .5-3 1.5-2 3-2.5zM1379.5 76.5l7-.5 7 1 1 .5 1 1.5 .5 5.5-1 9-.5 3-1.5 3-7.5 8-3 2-3 1-3-1-2-2.5-1.5-11.5-3.5-9 0-2 1-2.5 2.5-2.5 3.5-2zM1414.5 128.5l3-.5 4 .5 12.5 3 3.5 1 6 4 3 1 15 1 5 1 2 0 0 7.5-2 0-8 5.5-2 2-.5 3 1 7-.5 2-1 1-3 .5-5 .5-5-1-4-1-6.5-3-9.5-7-2-3-2-4-1-1.5-3-1-13-1.5-2.5-1-1.5-2-.5-1 0-2 2.5-3 9.5-6zM1466.5 172l2 0 0 7-2 0-1.5-2.5 0-3zM1356.5 174.5l14 1.5 16 0 6 .5 4 1 1 1 .5 2-1.5 4-4 5.5-3 2.5-5 2-4 .5-3 0-3.5-.5-7.5-2.5-12 0-2-1-2-2-1-3-.5-4.5 1-3 1.5-2 2-1.5zM1462.5 219.5l6-1 0 82.5-22 0-8-.5-4-1.5-3-2-6-6.5-2-1.5-3-1-3-.5-5 .5-4 1.5-1.5 2-2 8-1.5 2-2 1-4 .5-5-1-6-2-4.5-2.5-1-2 0-1 1.5-1.5 3-1 11-2 5-2.5 1-2 0-4-2-4-4-3-5-1.5-10-1.5-2-.5-2.5-1.5-1.5-2-1.5-4-1-9 .5-2 3-.5 6 1.5 5 1 17-.5 8 1 12 1.5 3 .5 3-1 3-1.5 2-3 .5-3-.5-3-2-2-4-2-12.5-3-4.5-2-2.5-2 0-2 .5-1 2-1.5 13-7 6-2 9-1.5zM1377.5 348.5l10-1 3 .5 3 1 6.5 4.5 3.5 3 1.5 3 0 2-2.5 3-11 9-4 1-4-1-8-6.5-10.5-4.5-2.5-3 0-2 .5-2 2.5-3 5-2.5zM1466.5 374l2 0 0 21.5-17 0 3-2 8-2 2-1.5 .5-1.5 0-11zM1393.5 394.5l7-.5 5.5 1.5-17 0z"/><path fill="#4390c5" fill-rule="evenodd" d="M1466.5 50.5l2 0 0 13.5-2 0-1.5-1.5-.5-3 0-5 1-2.5zM1414.5 58.5l6-.5 3.5 .5 2.5 1 1 1 0 1-1 1.5-3 1-15 1-1.5-.5-1-1 1-2 3-2zM1381.5 80l5-.5 4 1 2 2 .5 2 0 3-.5 3-1 3-6.5 10-2.5 2.5-3 1-1-.5-1-1-1-2 0-7-1-9 0-2 1.5-2 2-2zM1416.5 130.5l4 0 5 2 1 1 1.5 2-.5 2-3 2-4 1-9 .5-3-.5-1-.5-1-1.5 .5-1 2.5-4 3-2zM1451.5 141.5l5-.5 5 .5 2 1 .5 1-.5 2-2.5 2-7.5 3-2.5 2-.5 1 0 2 2 7 0 1-1 1-2 1-4 0-4-1-3-1-2.5-2-2-3-.5-2 1-2.5 2.5-2.5 6.5-3.5 5-5.5zM1380.5 179.5l6-.5 4 .5 .5 3-.5 5-2 2-2 1-5 1-4-.5-4-1.5-6-5 0-3zM1463.5 220.5l5-.5 0 79.5-22 0-4-.5-4-1-5-2.5-6-7-2-2-5-1.5-9 0-3-.5-2-2-3.5-5-3.5-3-5-2-11-2.5-2-.5-2.5-2 0-4 .5-2 .5-1 3-2 5.5-1.5 9-1 6-.5 9 .5 14 3 4 0 3-1.5 3-2 2.5-4 .5-3-1-3-3-3-4-2-15-4-2.5-2-.5-1 1-1.5 1.5-1.5 10.5-6.5 6-2.5 9-1zM1382.5 350.5l6-.5 5 2 7.5 5.5 1 2 0 2-3 3-7.5 6-3 1-3-.5-7-7-8-3.5-1.5-2 1-2 3.5-3 4.5-2z"/><path fill="#2466b3" fill-rule="evenodd" d="M1464.5 221.5l4-.5 0 20.5-5-.5-4 .5-5 1-7 3-2 0-10-5.5-5-2-10-2-2.5-1.5-.5-1 1-2 6.5-5 3.5-2 4-1.5 9-1.5zM1445.5 250l1-.5 2 0 11 3.5 9 1 0 43.5-21 0-7.5-1-2.5-1.5-2-1.5-2-2-3-6-2-2-3-1-10 0-4-1-2.5-1-4.5-5-2.5-2-4.5-2-11-2.5-2-1-1.5-1.5 0-1 .5-2 3-2.5 7-2.5 7-1.5 5 0 5 .5 16 4 6 0 3-1.5 2-1zM1386.5 354.5l4 0 4 2 3 2.5 .5 1.5-.5 1-2 2.5-4 2.5-2 .5-2-1-2.5-2.5-2-5 .5-2.5 1-1z"/><path fill="#1c5597" fill-rule="evenodd" d="M1436.5 223.5l8-1 16 .5 8-.5 0 14.5-2 0-17 3.5-4 0-3-.5-18-5-2-1.5 0-1 2-3 5-4zM1447.5 256l4-.5 7 1 4.5 2 3.5 3 2 0 0 34.5-19 0-7-1.5-3-1.5-2-2.5-1-3-.5-7-1.5-2-4-1-11 1-4-.5-2.5-.5-5-4-2.5-1.5-13-3.5-1.5-1-.5-4 1-1.5 6-2 6-1 4 0 4 1 9 4 4 1 6 .5 5-.5 4-1.5 5-5.5z"/><path fill="#0b3a6e" fill-rule="evenodd" d="M1439.5 224.5l8-.5 21 .5 0 8.5-2 0-8 2.5-10 1.5-6 0-10.5-2.5-3-1-.5-2 .5-3 4.5-2.5zM1452.5 261l3-.5 3.5 1 2.5 1.5 1.5 2.5 1 4-1.5 9 .5 2 2.5 2.5 1 .5 2 0 0 10-20-.5-4-1-2.5-2.5 0-2 .5-2 4.5-6 .5-2 .5-2-.5-7 .5-3 2-3z"/></g><line x1="1173.3" x2="1472.2" y1="303.6" y2="303.6" stroke="#8c4cb8" stroke-width="1.8"/><line x1="1173.3" x2="1472.2" y1="212" y2="212" stroke="#8c4cb8" stroke-width="1.8"/><line x1="1173.3" x2="1472.2" y1="120.4" y2="120.4" stroke="#8c4cb8" stroke-width="1.8"/><rect x="1173.3" y="36.4" width="298.9" height="358.8" fill="none" stroke="#000" stroke-width="3"/><line x1="1163.8" x2="1173.3" y1="395.2" y2="395.2" stroke="#000" stroke-width="3.2"/><line x1="1163.8" x2="1173.3" y1="372.3" y2="372.3" stroke="#000" stroke-width="3.2"/><line x1="1163.8" x2="1173.3" y1="349.4" y2="349.4" stroke="#000" stroke-width="3.2"/><line x1="1163.8" x2="1173.3" y1="326.5" y2="326.5" stroke="#000" stroke-width="3.2"/><line x1="1163.8" x2="1173.3" y1="303.6" y2="303.6" stroke="#000" stroke-width="3.2"/><line x1="1163.8" x2="1173.3" y1="280.7" y2="280.7" stroke="#000" stroke-width="3.2"/><line x1="1163.8" x2="1173.3" y1="257.8" y2="257.8" stroke="#000" stroke-width="3.2"/><line x1="1163.8" x2="1173.3" y1="234.9" y2="234.9" stroke="#000" stroke-width="3.2"/><line x1="1163.8" x2="1173.3" y1="212" y2="212" stroke="#000" stroke-width="3.2"/><line x1="1163.8" x2="1173.3" y1="189.1" y2="189.1" stroke="#000" stroke-width="3.2"/><line x1="1163.8" x2="1173.3" y1="166.2" y2="166.2" stroke="#000" stroke-width="3.2"/><line x1="1163.8" x2="1173.3" y1="143.3" y2="143.3" stroke="#000" stroke-width="3.2"/><line x1="1163.8" x2="1173.3" y1="120.4" y2="120.4" stroke="#000" stroke-width="3.2"/><line x1="1163.8" x2="1173.3" y1="97.5" y2="97.5" stroke="#000" stroke-width="3.2"/><line x1="1163.8" x2="1173.3" y1="74.6" y2="74.6" stroke="#000" stroke-width="3.2"/><line x1="1163.8" x2="1173.3" y1="51.7" y2="51.7" stroke="#000" stroke-width="3.2"/><line x1="1185.2" x2="1185.2" y1="395.2" y2="399.7" stroke="#000" stroke-width="2"/><line x1="1222.7" x2="1222.7" y1="395.2" y2="405.2" stroke="#000" stroke-width="3"/><text x="1222.2" y="434.2" text-anchor="middle" class="tx">180</text><line x1="1260.2" x2="1260.2" y1="395.2" y2="399.7" stroke="#000" stroke-width="2"/><line x1="1297.8" x2="1297.8" y1="395.2" y2="405.2" stroke="#000" stroke-width="3"/><text x="1297.3" y="434.2" text-anchor="middle" class="tx">150W</text><line x1="1335.3" x2="1335.3" y1="395.2" y2="399.7" stroke="#000" stroke-width="2"/><line x1="1372.9" x2="1372.9" y1="395.2" y2="405.2" stroke="#000" stroke-width="3"/><text x="1372.4" y="434.2" text-anchor="middle" class="tx">120W</text><line x1="1410.4" x2="1410.4" y1="395.2" y2="399.7" stroke="#000" stroke-width="2"/><line x1="1447.9" x2="1447.9" y1="395.2" y2="405.2" stroke="#000" stroke-width="3"/><text x="1447.4" y="434.2" text-anchor="middle" class="tx">90W</text><line x1="1185.2" x2="1185.2" y1="36.4" y2="33.9" stroke="#000" stroke-width="1.6"/><line x1="1222.7" x2="1222.7" y1="36.4" y2="33.9" stroke="#000" stroke-width="1.6"/><line x1="1260.2" x2="1260.2" y1="36.4" y2="33.9" stroke="#000" stroke-width="1.6"/><line x1="1297.8" x2="1297.8" y1="36.4" y2="33.9" stroke="#000" stroke-width="1.6"/><line x1="1335.3" x2="1335.3" y1="36.4" y2="33.9" stroke="#000" stroke-width="1.6"/><line x1="1372.9" x2="1372.9" y1="36.4" y2="33.9" stroke="#000" stroke-width="1.6"/><line x1="1410.4" x2="1410.4" y1="36.4" y2="33.9" stroke="#000" stroke-width="1.6"/><line x1="1447.9" x2="1447.9" y1="36.4" y2="33.9" stroke="#000" stroke-width="1.6"/><text x="1183.5" y="20.4" class="ti" textLength="198.6" lengthAdjust="spacingAndGlyphs">Upwelling feedback</text><clipPath id="cpa5"><rect x="1510.4" y="36.3" width="295" height="358.8"/></clipPath><rect x="1510.4" y="36.3" width="299" height="358.8" fill="#fff"/><rect x="1510.4" y="36.3" width="295" height="358.8" fill="#f2f5f8"/><g clip-path="url(#cpa5)"><path fill="#fbd3bf" fill-rule="evenodd" d="M1511.5 36.5l15.5 0 0 4 1.5 1 4 1 6 .5 11-.5 9-2 1-1 0-3 208 0 .5 4 1 2 .5 2-1.5 9 1 4 2.5 3 3 2 15.5 5 3.5 2 1 2 1 4 0 7-.5 6-1.5 4-3.5 8-.5 3-.5 7-.5 1-1 .5-5 .5-32-2-31 0-12-1-6-1.5-16-6-25-5-11-5-3-1-7 0-17 1.5-7-1-2-.5-2-1.5-3-5-2-2-2-1.5-3-1-6-.5-17 .5-7 0-6-2-8.5-4.5-6.5-2-28-3-12 0 0-32zM1793.5 115l12-.5 0 34.5-8 0-1-1-1-2-1-3.5-1-10-2-12 .5-4 .5-1zM1738.5 164l6 0 6 1 17.5 4.5 20.5 3 5 1.5 1 1.5 1 3 .5 11-1 9-2.5 6-2 2-2 .5-6 0-23-3.5-30-4-7.5-2-5-3-3-3-1.5-3 2-6 2.5-5 4-4 9.5-7 4-1.5zM1797.5 273l8 0 0 13.5-8 0-2.5-1-.5-2 0-2 2-7zM1577.5 283.5l25 0 31-1 9 0 8 1 17 4 8 1.5 8 .5 19-.5 11 .5 27 3 24 2 7 1.5 2.5 2.5 2 5 5.5 7 1 3-.5 4-4.5 8-.5 2 .5 1 3 3 10.5 7 1.5 2 1 2 2 18 0 7-1 4.5-1 1.5-2 1.5-5 2-39 4.5-10 .5-19-1-27 0-16-1-4-1-4-1.5-2.5-2-4.5-5-4-2-8-1-26 0-6-1-4.5-2-2-2-.5-3 1-2 2-1 6-.5 27 0 5-1 3.5-1.5 1-2-.5-2-3.5-3-5.5-2-8-.5-11 1-9 1.5-6.5 3-4.5 3.5-3 1-7 0-22-1.5-5 .5-4 1-3 1.5-1.5 2-.5 13-1 3-2 2-5 2-7 1-8 0-5.5-1-2-1-2-2-1-3-.5-3 .5-6 4-9 0-2-1-2-2.5-2-4-1.5-13 0 0-36 12 0 6 2.5 3 .5 3 0 2.5-.5 2-2 .5-2-3.5-8-.5-4 1-3 3-3 6-3 9-2.5 10-1zM1796.5 392l1-.5 8 0 0 4-23.5 0 10.5-1.5z"/><path fill="#f3a98a" fill-rule="evenodd" d="M1610.5 36.5l149.5 0 0 4 1 4 0 9 .5 3 1 2 3 3 3.5 2 16.5 5.5 4 2.5 1.5 2 1 3 .5 4-1 4-1 3-1.5 3-9.5 11-3 2.5-4 2-11 1-26 .5-15-1-10-1.5-16-5-16.5-3.5-6.5-2-5-3-4.5-6-2.5-2-5-2-14-2-3-1-2-1-1-3 .5-4 1.5-6.5 2-3.5 3-1.5 14.5-3.5 7-3 3-2 1-2-.5-2-1-1-6-2-5-1-6-.5-5 1-3 1-2 1.5-1.5 2-2.5 6-2 2-2.5 1-3.5 .5-9-.5-4-1-3-1.5-2.5-1.5-2-3-.5-3 0-2 1.5-2 3-2zM1536.5 48.5l13-.5 5 .5 4 1 2.5 2 1 2 .5 3-.5 4-1.5 2-2 1.5-3 1-4 .5-13 .5-6-.5-3.5-1-2.5-2-1-2 0-4 1-3 1.5-2 1.5-1.5 3-1zM1745.5 168.5l6 0 14 2.5 16 2.5 5 1 3 1 2.5 3 1.5 5 0 7-1.5 5-2.5 3-3 2-4 1-6 .5-11-.5-18-2.5-9.5-1.5-5-2-3.5-3-2-4-1.5-5 1-4 2-3 7-5 4.5-2.5zM1576.5 288.5l27 0 29-1 10 .5 7 1 7 2 7 2.5 9 3.5 4 1 5-.5 21-3.5 14-.5 32 2 8 1.5 5 1.5 3 1.5 3 2.5 6.5 8 2 4-.5 2-1 2-7.5 7-.5 1 0 2 2.5 3 10.5 8 5 7 6 6.5 1.5 3.5 1 4 0 4-1 3-1 2-1.5 2-5 2.5-9 2-16 1.5-16 .5-24-2.5-19 .5-7 0-8-1.5-2-1-2-2 0-1 .5-2 4.5-6 0-2-1-1-3.5-2-11.5-4.5-8-7-4-2.5-4-1.5-4-1.5-5-.5-7 0-27 1.5-7 1-13 3.5-12 1-14-.5-10-1-6-1.5-10-4.5-4-1-5 .5-8 2-12 0 0-21 12 0 6 1 10 .5 10-.5 6-2 2-1 1-1.5 1.5-3 .5-4 0-3-1-2-3.5-6-.5-2 1-2 2-2 5-2 6-1.5z"/><path fill="#e58068" fill-rule="evenodd" d="M1663.5 36.5l88.5 0 1 15 1 4 1.5 3 3 3 5 3 17 5.5 5 2.5 2 2 1 3 .5 3-1 3-1.5 3-2.5 3-11.5 10.5-3 1.5-4 1.5-9 1.5-14 .5-13-1.5-7.5-2-12.5-6-17-3-5-1-3.5-2-1-2 .5-2 5.5-5 1.5-2 0-2-1.5-2-4.5-2-5-1.5-18-3-2-1-1-.5 0-1 0-1 2.5-2 23-12 2.5-2 0-1-.5-1-4-2-7-2-11-2-1.5-1 0-3zM1752.5 173l8 .5 14 1 7 1 5 2 3 2 1.5 4 .5 5-1.5 4-2.5 3-3 1.5-4 1.5-6 .5-9 0-10-1-8-1.5-6-2-3-2-2-3-1-4 1-3 2-3 5-4 4-1.5zM1640.5 296l6 0 6 1.5 4.5 3 7.5 7 2 .5 3 .5 4 0 4-1 22-7.5 15-2.5 11-.5 14 .5 10 1 7 2 4 2.5 3 3.5 4 5 .5 3-1 2-1.5 1.5-10 6.5-1.5 2 .5 2 3 3 9 7 7 8 10 5.5 3.5 3.5 1.5 2 1 3 0 3-.5 2-2 3-2.5 2-4 1.5-6 1-10 1.5-10 .5-7-.5-7-1-26-8-3-2-5.5-5-4-3-6.5-3-13-3-5-2-4-2-8-6-4-2-7-2-13-2-3-1-2-2-1.5-4-2-2-4.5-2-14-3.5-2.5-1.5-1.5-2 1-2 3-2 12-4 4-2 2.5-2 3.5-5.5zM1563.5 331l10 0 8 1 3 1 1.5 1.5 1 1 0 2-1.5 1.5-2 1-5 1.5-7 .5-8-1-3-1-3.5-1.5-1-1-.5-2 0-1 2-1.5z"/><path fill="#d1504a" fill-rule="evenodd" d="M1683.5 36.5l56.5 0 0 3 0 1-2.5 1.5-5 1-29-1-19.5-1.5-1.5-1 0-3zM1695.5 56l8 .5 17 2.5 5-.5 11-2 5 0 3 1.5 9 5.5 4.5 2 18.5 5.5 4.5 2.5 3 3 .5 2 0 3-2 4-4 4-9 7-6 3.5-6 1.5-8 .5-8 0-7-1.5-5.5-2-2.5-2-7-7-11-6-2-3-3-6-3-3-4-2.5-10-3.5-3.5-2-.5-1 .5-1 2-2 5-2zM1762.5 176.5l13 0 5 1 4 1.5 2.5 2.5 1.5 3 0 3-1 3-2 2.5-3 2-4 1-6 .5-7 0-8-1-6-1-4.5-2-2.5-2-1.5-3 1-3 1.5-2 3-2.5 4-2 5-1zM1726.5 300.5l11-.5 9 1 6 2.5 3.5 3 2.5 4 0 2-1 2-4 2.5-12.5 4.5-2 2-.5 2 1.5 2 2.5 2 12 9 1.5 2 2.5 5 2 2 4 2 14 4.5 5 3 1.5 2.5 .5 2-.5 3-1.5 2-3 2-2.5 1-8.5 1.5-11 .5-8-1.5-6.5-2.5-7.5-7-4-2.5-20.5-7.5-20.5-7-3-1-3-2-.5-2 2-2 15.5-6 5-3 1.5-2 0-1-1-1-2.5-1.5-15-3-4.5-1.5-1-1-.5-1 1-2 6-4 10-4 12-3.5z"/><path fill="#b82132" fill-rule="evenodd" d="M1731.5 65l7-.5 6 .5 26.5 7.5 5 2 2.5 2 1 2-.5 3-1.5 3-4.5 4-8 6-5.5 3-5 1-5 .5-5 0-5-1-5-2.5-6-9-10-8-2-2-1-2 0-2 .5-2 2.5-2 5-2zM1762.5 179.5l10-.5 7.5 1.5 2.5 1 1.5 2 1 2-.5 3-1 2-2 1.5-3 1-4 1-10 0-9-2-3-1.5-1.5-1-1-2 1-2 1.5-2 3-2zM1722.5 331.5l3 0 4 .5 7 3.5 2.5 2 1 2 0 2-.5 1-2 1.5-2 .5-4 1-4 0-10-1-8.5-3-2-2 0-1 1.5-2 7-3.5zM1762.5 356l6 0 6 1.5 3.5 2 1 1 .5 2-1 1.5-2 1.5-4 1-6 .5-6.5-.5-2.5-1-2-2-.5-1 0-2 .5-1 2-2z"/><path fill="#7e0a23" fill-rule="evenodd" d="M1737.5 71l6-.5 6 .5 8 1.5 8 2 3 1 3 2 0 2 0 2.5-6 5.5-9 5.5-5 1.5-5.5 0-3.5-2.5-4.5-7.5-7.5-8 0-2 1-1 2-1.5zM1766.5 182l5 0 5 1 3 2 .5 2.5-2 2-4.5 1.5-6 .5-5.5-1-3.5-2 0-2 1-1.5 2-1.5z"/><path fill="#b6d5ea" fill-rule="evenodd" d="M1588.5 101.5l11-1 12 1 8 1 12 3 4 0 4 0 14-3 8-.5 8 .5 12 2 5 2 10 4.5 8 2 13 1 34 0 12 1 9 2.5 7 3 2 2 2.5 4 4.5 12.5 1.5 12.5 4 6 .5 2 .5 3-.5 3.5-1.5 2.5-3.5 1-7-.5-8-1-19-5.5-19-3.5-4-1.5-7-5-4-1.5-6-.5-10 0-10 1.5-6 1.5-14 4.5-8 1.5-9 .5-9-.5-9-2.5-14-7-5-2-6-.5-17 .5-4-.5-4-1-2-1.5-2.5-1.5-1-2-2.5-7-2-3-4-2-6-1-9 .5-4 1-2 1.5-1 1 0 2 2 8 0 2-2 2-4 1.5-7 1.5-8 .5-7 0-6-1.5-12 0 0-22 12 0 14-5.5 10-6 7-3 23-8.5 6-1.5zM1692.5 170.5l7 0 4 1 2 1 .5 3-1.5 3-2 2-11 6-4.5 3-1 3 1 2 1.5 .5 3.5 1.5 12.5 2 16 4 28 2 13 2 9 2.5 15 5.5 4 2 3 2.5 1 2.5 .5 3-1.5 10 .5 3 1.5 1.5 2 1.5 9 0 0 24-8 0-3.5 9-3 5-4.5 5-4 2.5-6 2.5-8 1.5-9 1-11 0-13-1.5-20-4-10-1.5-9-.5-17 0-7-.5-21-4.5-6-1-29 .5-22-2-15 .5-7 0-7-1.5-8.5-6.5-8.5-3-9-1.5-16-1.5-13 0 0-78 12 0 6 1 6 0 22-2 9 0 8 1 15 6 10 2 14 .5 34-.5 7-1 4.5-2 2-3 1.5-6 1-2 2-2 3-2 5-2 5-1zM1613.5 171l8-.5 7 .5 5 2.5 1.5 1 .5 2-1 2-1 1-5 2-6 1-6-.5-4-1.5-3-1-1-1-1-2 0-2 1-1 2-1.5zM1791.5 307l2-.5 12 .5 0 27.5-9-.5-7-3.5-3.5-3-.5-2 .5-2 2.5-7 1.5-7zM1777.5 381.5l9-.5 3 .5 2 1 1 1 .5 2-.5 2-1 2-3 2-3.5 1-23 3-203 0 1.5-2 2-1 8-1 21-.5 33 1.5 22 0 11-1 14-3 9-1.5 18-.5 29 .5 10 0 9-1 21-3.5z"/><path fill="#7ab3d8" fill-rule="evenodd" d="M1591.5 106l7-.5 7 1 6 2 6 3.5 4 1.5 6 1.5 7 .5 7-.5 6-1.5 10-5 4-1.5 5-1 5 0 5 1 3.5 1.5 11.5 6 7 2 14 1 33 0 9 1 9 2 7 3 2.5 2 2.5 3 3.5 8 1.5 5 0 3-1.5 6 .5 3 1 2 6.5 5 1 2 0 1-.5 1-2 1-6 0-4-.5-13-4.5-19-4-3.5-2-6.5-5.5-3-1.5-4-.5-14-1-19 1-11 1-16 3.5-9 .5-6-1-6-1.5-5.5-3-7.5-5.5-5-2.5-6-.5-16 2-6-1-3-1-2-1.5-5-7-4-3-6-2-18-2-3-1-.5-1 1-2 5-3 19.5-7.5zM1553.5 193.5l8-1 6 .5 20 3.5 13 1 15 .5 25-1 10 .5 7 2 3 1.5 5 4.5 5 1.5 6-.5 14-3 7-.5 24 3 26 1 8 1.5 6 1.5 18 7.5 5 2.5 2 2.5 .5 3-.5 3-2 3-7.5 7-1 2 .5 1 2.5 3 10.5 5 3 3 1 2 .5 4 0 5-1.5 5-2 4.5-3.5 4.5-4.5 3.5-5 3-6 2-8 1.5-8 1-8 0-13-2-19-5.5-10-2.5-9-.5-17 .5-7-.5-7-1.5-14-3.5-6-1-19 .5-6 0-6-1.5-14-6-7-1.5-7-1-15 0-30-3-11-2-8-4.5-12 0 0-59.5 12 0 6 1 7 .5zM1532.5 216.5l-4 1.5-1.5 1.5-.5 2 0 4 1 2 2 1 6 2 12 .5 7-.5 2-1 1-1 0-3-1-3-1.5-2-3-2-3.5-1.5-5-1-6 0zM1591 216.5l-4.5 2-1 1-1 2 .5 2 .5 1 2 1 3 .5 7 .5 8-.5 5-2 1.5-.5 1.5-2 0-2-1-1-4.5-2-8.5-1zM1797.5 312l8 0 0 17.5-8 0-3-2-1.5-2-.5-3 .5-5 2.5-4z"/><path fill="#4390c5" fill-rule="evenodd" d="M1741.5 123.5l10 .5 5 1 4 1.5 3 2 1.5 2 .5 2-.5 2-1.5 1.5-2 1-6 .5-11-.5-7-1.5-1.5-1-2-2-1.5-4 0-2 .5-1 2-1zM1693.5 209.5l9-1 17 1 20 0 9 .5 6 1.5 7.5 3 11 5 4 3 1 1 0 2-2 3-4.5 2.5-14.5 5.5-4 3 0 2 1 1 3 2 21.5 7.5 6 3.5 3 2.5 1.5 2.5 .5 3 0 4-2.5 5-2.5 2.5-3 2.5-8 4.5-9 2.5-11 1.5-10-.5-9-2.5-18-7-12-3-9-1-16 .5-6 0-8-1.5-19-6-6-.5-13 1-6-1-7-2.5-3-1.5-2-2 0-2 2.5-6 .5-3-1-1.5-2-1.5-6-2-9-.5-7 .5-3 1.5-3.5 5.5-4.5 3-7 2-11 .5-11-.5-7.5-2-4-3-1.5-3-1-3 0-2 1-1 2-1 3-.5 30 1 9-.5 3-1.5 3-2.5 3-2 8-2 31-3 19 .5 8-1 6-2 7-6 5-3 13-5z"/><path fill="#2466b3" fill-rule="evenodd" d="M1729.5 214.5l11-1 8 1 5 2 6.5 3 2.5 2 1.5 2-.5 1-1 1-2 1-16 4-10 5-5 2-7 1.5-9 1-9 0-7-.5-6-1.5-5-2.5-4-3-1.5-3-.5-3 2-3.5 4-2.5 8-3.5 9-1.5 17-.5zM1729.5 249.5l15-.5 14 2 10 3 7 2.5 4 2 3.5 3 1.5 3 0 3-1 3-2.5 3-4.5 3-6 3-6 2-6 1-9 .5-8-1.5-5.5-2-8.5-5-5-2-9-3-12-3-7-1-16 .5-7.5-.5-3.5-1.5-4-1.5-2.5-2-1-2 0-2 2-2 3.5-2 5-1 7-.5 20 1.5z"/><path fill="#1c5597" fill-rule="evenodd" d="M1723.5 254.5l10-1 10 .5 9.5 1.5 9 2 7.5 2 5 3 3 3 .5 3-1.5 2-2 2-3 2-5 2-5 1-5 1-4 0-4-.5-4-1.5-6-5-3-1.5-19-5.5-6-3-1-2 .5-1 1-1 6-2z"/></g><line x1="1510.4" x2="1809.4" y1="303.5" y2="303.5" stroke="#8c4cb8" stroke-width="1.8"/><line x1="1510.4" x2="1809.4" y1="211.9" y2="211.9" stroke="#8c4cb8" stroke-width="1.8"/><line x1="1510.4" x2="1809.4" y1="120.3" y2="120.3" stroke="#8c4cb8" stroke-width="1.8"/><rect x="1510.4" y="36.3" width="299" height="358.8" fill="none" stroke="#000" stroke-width="3"/><line x1="1500.9" x2="1510.4" y1="395.1" y2="395.1" stroke="#000" stroke-width="3.2"/><line x1="1500.9" x2="1510.4" y1="372.2" y2="372.2" stroke="#000" stroke-width="3.2"/><line x1="1500.9" x2="1510.4" y1="349.3" y2="349.3" stroke="#000" stroke-width="3.2"/><line x1="1500.9" x2="1510.4" y1="326.4" y2="326.4" stroke="#000" stroke-width="3.2"/><line x1="1500.9" x2="1510.4" y1="303.5" y2="303.5" stroke="#000" stroke-width="3.2"/><line x1="1500.9" x2="1510.4" y1="280.6" y2="280.6" stroke="#000" stroke-width="3.2"/><line x1="1500.9" x2="1510.4" y1="257.7" y2="257.7" stroke="#000" stroke-width="3.2"/><line x1="1500.9" x2="1510.4" y1="234.8" y2="234.8" stroke="#000" stroke-width="3.2"/><line x1="1500.9" x2="1510.4" y1="211.9" y2="211.9" stroke="#000" stroke-width="3.2"/><line x1="1500.9" x2="1510.4" y1="189" y2="189" stroke="#000" stroke-width="3.2"/><line x1="1500.9" x2="1510.4" y1="166.1" y2="166.1" stroke="#000" stroke-width="3.2"/><line x1="1500.9" x2="1510.4" y1="143.2" y2="143.2" stroke="#000" stroke-width="3.2"/><line x1="1500.9" x2="1510.4" y1="120.3" y2="120.3" stroke="#000" stroke-width="3.2"/><line x1="1500.9" x2="1510.4" y1="97.4" y2="97.4" stroke="#000" stroke-width="3.2"/><line x1="1500.9" x2="1510.4" y1="74.5" y2="74.5" stroke="#000" stroke-width="3.2"/><line x1="1500.9" x2="1510.4" y1="51.6" y2="51.6" stroke="#000" stroke-width="3.2"/><line x1="1522.2" x2="1522.2" y1="395.1" y2="399.6" stroke="#000" stroke-width="2"/><line x1="1559.7" x2="1559.7" y1="395.1" y2="405.1" stroke="#000" stroke-width="3"/><text x="1559.2" y="434.1" text-anchor="middle" class="tx">180</text><line x1="1597.2" x2="1597.2" y1="395.1" y2="399.6" stroke="#000" stroke-width="2"/><line x1="1634.8" x2="1634.8" y1="395.1" y2="405.1" stroke="#000" stroke-width="3"/><text x="1634.3" y="434.1" text-anchor="middle" class="tx">150W</text><line x1="1672.3" x2="1672.3" y1="395.1" y2="399.6" stroke="#000" stroke-width="2"/><line x1="1709.9" x2="1709.9" y1="395.1" y2="405.1" stroke="#000" stroke-width="3"/><text x="1709.4" y="434.1" text-anchor="middle" class="tx">120W</text><line x1="1747.4" x2="1747.4" y1="395.1" y2="399.6" stroke="#000" stroke-width="2"/><line x1="1784.9" x2="1784.9" y1="395.1" y2="405.1" stroke="#000" stroke-width="3"/><text x="1784.4" y="434.1" text-anchor="middle" class="tx">90W</text><line x1="1522.2" x2="1522.2" y1="36.3" y2="33.8" stroke="#000" stroke-width="1.6"/><line x1="1559.7" x2="1559.7" y1="36.3" y2="33.8" stroke="#000" stroke-width="1.6"/><line x1="1597.2" x2="1597.2" y1="36.3" y2="33.8" stroke="#000" stroke-width="1.6"/><line x1="1634.8" x2="1634.8" y1="36.3" y2="33.8" stroke="#000" stroke-width="1.6"/><line x1="1672.3" x2="1672.3" y1="36.3" y2="33.8" stroke="#000" stroke-width="1.6"/><line x1="1709.9" x2="1709.9" y1="36.3" y2="33.8" stroke="#000" stroke-width="1.6"/><line x1="1747.4" x2="1747.4" y1="36.3" y2="33.8" stroke="#000" stroke-width="1.6"/><line x1="1784.9" x2="1784.9" y1="36.3" y2="33.8" stroke="#000" stroke-width="1.6"/><text x="1520.2" y="24.9" class="ti" textLength="205.8" lengthAdjust="spacingAndGlyphs">Meridional feedback</text><clipPath id="cpa6"><rect x="1856" y="36.3" width="280.2" height="358.8"/></clipPath><rect x="1848" y="36.3" width="299.2" height="358.8" fill="#fff"/><rect x="1856" y="36.3" width="280.2" height="358.8" fill="#f2f5f8"/><g clip-path="url(#cpa6)"><path fill="#fbd3bf" fill-rule="evenodd" d="M1924 43.5l7-.5 7 2 8.5 4.5 3.5 3 2 2 .5 3-.5 2-2 2-6 5-6 3-4 1-5 .5-24-2-27 .5-22-.5 0-24 22-.5 28 .5 8-.5zM1907 88.5l53-.5 36 1 57 0 13 .5 19 2 21 .5 7 1.5 4.5 2 2 3 .5 3 0 3-1 4-1 2.5-6 6.5-1.5 3-.5 3 .5 7-1 3-1.5 2-3 2-16 5.5-13 6-6 1.5-14 1-27-.5-8-1-6-1-16-5.5-9-2.5-8-1-16 1-8-.5-16.5-3-7-2-5-2-1-1-.5-1 0-1 2-2 4-1.5 7-1.5 22-2 8-2 1-1 .5-1-.5-1-2-1.5-4-1-6-1-7-.5-25 1.5-40 .5-12-1-9-3.5-11 0 0-23 11 0 14 .5zM1857 125.5l11 .5 6 2.5 2.5 2 .5 1-1.5 2-7.5 5-12 0 0-13zM1857 160l11 0 5 1.5 4 2 3 2 2.5 3 0 2-2 2-7.5 2-5 .5-12 0 0-15zM2010 170l13-.5 11 1 6 2 2 2 .5 2-1.5 2-2 1.5-3.5 1.5-4.5 1-13 1-12-1-4-1-3-1.5-2-1.5-.5-2 1.5-2 3-2 4-1.5zM1942 192.5l42 0 21 1 29-.5 10 .5 14 2 20 0 8 2 4 2 11 8 7 3.5 12 4 5 2.5 11 0 0 45-11 0-5 1-21.5 3-3.5 1-4.5 2-6.5 5-5 1.5-4-.5-12-2.5-6-1-27-.5-16-3.5-8-1-31 .5-34-.5-26 0-13-1-17-2.5-4 0-3 .5-2 2-1 2.5 0 5-1 2-1.5 1-4.5 1.5-12 0 0-47.5 12 0 7 5 1 1 .5 2-2 7-.5 3 2 3 2 1 2 .5 4-.5 14-2.5 9-1 7 0 16 .5 8-1 5-1.5 5-2.5 4-4 1-3-1-2-4-2-6-1.5-21-2.5-5-1.5-8.5-3.5-7.5-2-11-1.5-21-2-12 0 0-22.5 12 0 16-1 31 0 9-.5zM2125 275l11 0 0 12.5-11 0-2-1-3-3-1-2 .5-2zM1929 323.5l6-1 8 1 7 2 2 1 2 2 .5 1-.5 2-4.5 5-1 2 .5 2 3 5 0 2-1 2-5.5 3-7.5 2-7 .5-19-1-24-.5-6-.5-4.5-1.5-3-2-2-3-.5-4 1-3 2-2 4-2.5 4-1.5 5-.5 19 .5 8-.5 3-1 3-1.5 5-5.5zM1857 366.5l20 0 33 1.5 23 0 23 1.5 26 .5 10.5 1.5 12.5 3.5 7 1 8 .5 22-1.5 17 1 6.5 1.5 1.5 1 .5 2-.5 2-2 3-4 4-4.5 2-5.5 .5-46-.5-12-.5-1.5 .5 2.5 1.5 2 2.5-121 0 6-4 .5-1 .5-1-1-1-2-1.5-4 .5-7 2.5-12 0 0-23.5z"/><path fill="#f3a98a" fill-rule="evenodd" d="M1945 91.5l20 0 27 3 55-1 7 .5 6 1 5 1.5 2 2 .5 1 0 2-1.5 7 1 2 1 1 4 2 13 3 5 2.5 2 1.5 2 3 .5 3 0 2-2 3-2.5 2-14 5.5-8.5 4.5-6.5 2-10 1-12 0-11-1-36-8.5-7-1.5-6 0-16 1.5-9-1.5-4.5-1-2.5-2 0-1 2-1 3.5-1 21.5-2.5 14-2.5 20-1 9.5-2 4-2 1-2-1-2-3.5-2-10-1-22 .5-16-1.5-11-.5-69 .5-11-1.5-11-4.5-12 0 0-12 11 0 8 2 5 .5 21-3.5 9-1zM2020 197.5l10 0 7 1 5 2 6.5 5 3.5 1 6 0 14-2 7 1 5 2 13 7.5 18 5.5 3 2 1.5 2 1 2-.5 3-1 2.5-4 6.5-1 3 1 3 4.5 5 1.5 3 0 3-1.5 2-2.5 1-4 1-26 2.5-14 3.5-6 .5-29 1-7-.5-15-2.5-8-.5-43 .5-28-1.5-21 0-9-1-3.5-1-2.5-2 0-1 1-1 3-1.5 9-1.5 16 .5 6-.5 7-1.5 8.5-3.5 10-6 7.5-6 3-4 0-2-1-1-2.5-1-3.5-1-21-1-9-.5-7-1.5-14-4-8-1.5-28-2.5-11-2-11 0 0-15.5 57-.5 32-1 58 .5zM1962 375.5l15-.5 4 1.5 .5 1-1 1-6.5 4-8 7-3 1.5-4 1-7 .5-28 0-12-.5-4-.5-3.5-2-2.5-3-.5-3 0-2 1.5-2.5 3-1 5-1.5 8-.5 21 .5z"/><path fill="#e58068" fill-rule="evenodd" d="M1911 95l10-.5 17 .5 17-.5 7 .5 6 1 4.5 1.5 3.5 2 2 2 0 1-1 1-1.5 1-3.5 1-11 1-47 0-12-.5-3.5-.5-3-1-1.5-1 0-1 .5-1 2.5-2 4.5-2zM2020 126.5l11-1 3 .5 3 1 3 2 2 3.5 2.5 4-.5 2-2 1-4 .5-14-.5-16-3-4.5-1-5-2-1-1-.5-1 1-1 2.5-1 5.5-1.5zM1857 203l47-.5 38 1.5 42-.5 29 1 4 1 1 1 1 4 1 2 2.5 2 3.5 1.5 4 1 5 .5 18-1.5 7 .5 3 1 2 1 1 2 .5 2-1 3-2 2-3.5 1.5-5 1-9 .5-16-1.5-19-.5-5-.5-4-1-12-7-4-1.5-4-.5-9-.5-20 2.5-10 .5-7-1-19-4-26-1.5-10-1-7.5-1.5-5.5-2.5-12-.5 0-5.5zM1983 241l7-.5 17 1.5 17-.5 8 .5 6 2 11 5 14 4 3 2.5 .5 2-2 2-4.5 1.5-5 1-7 .5-8-.5-15-1.5-11-.5-20 0-26 .5-7 0-6-1-4.5-1-1-1 0-1 2-2 11.5-6 13-5z"/><path fill="#b6d5ea" fill-rule="evenodd" d="M1945 36.5l191 0 0 10-11 0-10-2-9-.5-32 .5-62 0-14 .5-19 3-10 .5-5-.5-5-1.5-12-5-2.5-1-.5-4zM2012 54.5l62 0 18 1 8 .5 6 2 4 2 1 2.5-.5 1-2 2-5 3-19.5 9.5-4 1-5 1-17 1-46-.5-37 2.5-21 0-7-.5-3.5-1-.5-1 .5-1 2-2 10.5-7.5 4-1.5 3-.5 16 .5 6-.5 4-2.5 5-5.5 4-3 6-2zM1890 138.5l12-.5 36 3 31 6.5 2.5 1 1 1 0 2-2.5 4-4 3-25 11-5 1-6 .5-15-1.5-9-2-7-2.5-14-8-9-5-3.5-2.5-.5-2 .5-2 3.5-3 6-2.5zM2104 146.5l10-1 5 .5 6 2 11 0 0 12-26 .5-9-.5-6.5-1.5-2.5-1.5-1-1.5-.5-1 1-2 2-2 2.5-1.5zM2106 171l10 0 9 1 11 0 0 12.5-27 .5-9-1-5.5-1.5-1.5-1-1.5-2 0-2 1.5-2 5-3zM1857 179.5l11 0 19 1.5 28 1 6 1 4 1 1.5 1.5 1 1 0 1-2 2-2.5 1-9 1.5-8 .5-21-.5-17 2-12 0 0-14.5zM1904 272l11-.5 27 .5 56-.5 6 1 7.5 4 4 1 7.5 0 22-.5 8 .5 6 1 19 5.5 23 3 9 2.5 3 2 1 2-1 2-5.5 6-1.5 3 0 3 2 19 1 3 4 7 .5 2-.5 3-2 8 .5 8-.5 3-1.5 2-2.5 2-7 2.5-13 1.5-20 1-54 .5-23-3-25-1.5-7.5-1-3.5-1.5-2.5-1.5 0-1 1.5-2 5-3 7-3.5 19-6 5-2.5 2-2 1-2 0-2-2-3-5-4-7.5-3-26.5-7-17-4-13-3-6.5-1-9.5-.5-11 0-9 1-6.5 1.5-2 1-2 2-.5 2-.5 5-.5 2-5 5.5-12 .5 0-50 12 0 14.5-2 6.5-2 9-5z"/><path fill="#7ab3d8" fill-rule="evenodd" d="M1955 36.5l181 0 0 5.5-11 0-7-1-6-.5-37 2-87-.5-19 1-8-1-6.5-1.5-.5-1 0-3zM2008 59.5l9-1 22 1 26-.5 12 .5 7 .5 5 1.5 2 1 .5 1 0 1-2 2-4.5 2-5 2-6 1-7 0-23-1-24 .5-8 0-5-.5-3-1-2.5-1-1-2 0-2 1.5-2 3-2zM1922 146.5l10-1 8 1 8 3 3 2 .5 2-1 2-2.5 2-6.5 3-6.5 2-5 1-5 0-10-1-6.5-2-5-3-2.5-3-.5-2 0-1 2.5-2 3-1zM1857 183l11 .5 4.5 2 1.5 1 .5 1-.5 1-1.5 1-4.5 1.5-12 .5 0-8.5zM1975 277.5l11 0 17 5 11 1 13 .5 19-1.5 9 .5 8 2 23 6.5 5 1.5 2.5 1.5 2 2 1 4-1 24-1.5 6-5.5 8-1 3 .5 3 6 9 1 3-1 2-1.5 2-5 2-7.5 1-9 1-61 0-24-1-10.5-1-3.5-1-2-1-.5-1 1.5-2 6-3 14.5-4 5.5-2 4-3 2-3 0-2-.5-2-2.5-4-6.5-6-5.5-3.5-6-2-16-3.5-25-7-16-3-15-1-33 0-10-1.5-11 0 0-21 12-.5 18-2 10-2 13-3 6-1 8 0 27 1z"/><path fill="#4390c5" fill-rule="evenodd" d="M1998 36.5l92.5 0 0 3-2.5 1-13 .5-68 0-8-.5-1-1-1 0 0-3zM1966 282.5l15 .5 17 2.5 32 4 6 0 12-1 6 0 6 1 6.5 2 14.5 6 3 2 1.5 2 1 3 0 3-1 8 0 7-1 3-2.5 3.5-4 3.5-11 5.5-7 3-6 1-7 .5-19-1-8-1.5-8-4-7-5.5-5.5-7-2.5-2.5-5-1.5-13-2.5-7-1.5-4.5-2-6-5-3.5-1.5-8-1-64-1-11-1.5-8-3-11 0 0-11 11 0 10-2 43-5z"/><path fill="#2466b3" fill-rule="evenodd" d="M1941 285.5l14-.5 12 .5 7 1 14 2.5 24 1.5 32 5.5 2.5 1.5 1 1 .5 3-1 3-2 2-2.5 2-2.5 1-8 2-10 .5-29 0-6-.5-5.5-2-7.5-6-4-1.5-5-.5-50-.5-19 .5-12-.5-7-2-3-1.5-2-1-.5-2 0-1 1.5-1 2-1 10-1.5 24-1 18-3zM2049 320.5l10-1 5 .5 4 1 2 2.5 0 2-.5 1-3.5 3-6 3-7 2-11 1-13-1.5-5-1-4-1.5-3-2-1.5-2 .5-1 .5-1 5.5-2 9-1.5z"/><path fill="#1c5597" fill-rule="evenodd" d="M1945 288.5l10.5 0 9 1 6 2 1.5 1 .5 1-.5 1-3 1-10 1.5-16 .5-11-1-4.5-1-1.5-1 0-1 .5-1 1.5-1 6.5-2zM2004 294.5l10 .5 17 3.5 5 2 1 1 .5 2-1.5 1.5-2 1.5-3.5 1-4.5 .5-12-.5-14.5-2-3-1-3-2-1.5-2 .5-2 2-2 2.5-1z"/></g><line x1="1848" x2="2147.2" y1="303.5" y2="303.5" stroke="#8c4cb8" stroke-width="1.8"/><line x1="1848" x2="2147.2" y1="211.9" y2="211.9" stroke="#8c4cb8" stroke-width="1.8"/><line x1="1848" x2="2147.2" y1="120.3" y2="120.3" stroke="#8c4cb8" stroke-width="1.8"/><rect x="1848" y="36.3" width="299.2" height="358.8" fill="none" stroke="#000" stroke-width="3"/><line x1="1838.5" x2="1848" y1="395.1" y2="395.1" stroke="#000" stroke-width="3.2"/><line x1="1838.5" x2="1848" y1="372.2" y2="372.2" stroke="#000" stroke-width="3.2"/><line x1="1838.5" x2="1848" y1="349.3" y2="349.3" stroke="#000" stroke-width="3.2"/><line x1="1838.5" x2="1848" y1="326.4" y2="326.4" stroke="#000" stroke-width="3.2"/><line x1="1838.5" x2="1848" y1="303.5" y2="303.5" stroke="#000" stroke-width="3.2"/><line x1="1838.5" x2="1848" y1="280.6" y2="280.6" stroke="#000" stroke-width="3.2"/><line x1="1838.5" x2="1848" y1="257.7" y2="257.7" stroke="#000" stroke-width="3.2"/><line x1="1838.5" x2="1848" y1="234.8" y2="234.8" stroke="#000" stroke-width="3.2"/><line x1="1838.5" x2="1848" y1="211.9" y2="211.9" stroke="#000" stroke-width="3.2"/><line x1="1838.5" x2="1848" y1="189" y2="189" stroke="#000" stroke-width="3.2"/><line x1="1838.5" x2="1848" y1="166.1" y2="166.1" stroke="#000" stroke-width="3.2"/><line x1="1838.5" x2="1848" y1="143.2" y2="143.2" stroke="#000" stroke-width="3.2"/><line x1="1838.5" x2="1848" y1="120.3" y2="120.3" stroke="#000" stroke-width="3.2"/><line x1="1838.5" x2="1848" y1="97.4" y2="97.4" stroke="#000" stroke-width="3.2"/><line x1="1838.5" x2="1848" y1="74.5" y2="74.5" stroke="#000" stroke-width="3.2"/><line x1="1838.5" x2="1848" y1="51.6" y2="51.6" stroke="#000" stroke-width="3.2"/><line x1="1857.5" x2="1857.5" y1="395.1" y2="399.6" stroke="#000" stroke-width="2"/><line x1="1895.5" x2="1895.5" y1="395.1" y2="405.1" stroke="#000" stroke-width="3"/><text x="1895" y="434.1" text-anchor="middle" class="tx">180</text><line x1="1933.5" x2="1933.5" y1="395.1" y2="399.6" stroke="#000" stroke-width="2"/><line x1="1971.4" x2="1971.4" y1="395.1" y2="405.1" stroke="#000" stroke-width="3"/><text x="1970.9" y="434.1" text-anchor="middle" class="tx">150W</text><line x1="2009.3" x2="2009.3" y1="395.1" y2="399.6" stroke="#000" stroke-width="2"/><line x1="2047.3" x2="2047.3" y1="395.1" y2="405.1" stroke="#000" stroke-width="3"/><text x="2046.8" y="434.1" text-anchor="middle" class="tx">120W</text><line x1="2085.2" x2="2085.2" y1="395.1" y2="399.6" stroke="#000" stroke-width="2"/><line x1="2123.2" x2="2123.2" y1="395.1" y2="405.1" stroke="#000" stroke-width="3"/><text x="2122.7" y="434.1" text-anchor="middle" class="tx">90W</text><line x1="1857.5" x2="1857.5" y1="36.3" y2="33.8" stroke="#000" stroke-width="1.6"/><line x1="1895.5" x2="1895.5" y1="36.3" y2="33.8" stroke="#000" stroke-width="1.6"/><line x1="1933.5" x2="1933.5" y1="36.3" y2="33.8" stroke="#000" stroke-width="1.6"/><line x1="1971.4" x2="1971.4" y1="36.3" y2="33.8" stroke="#000" stroke-width="1.6"/><line x1="2009.3" x2="2009.3" y1="36.3" y2="33.8" stroke="#000" stroke-width="1.6"/><line x1="2047.3" x2="2047.3" y1="36.3" y2="33.8" stroke="#000" stroke-width="1.6"/><line x1="2085.2" x2="2085.2" y1="36.3" y2="33.8" stroke="#000" stroke-width="1.6"/><line x1="2123.2" x2="2123.2" y1="36.3" y2="33.8" stroke="#000" stroke-width="1.6"/><text x="1857.8" y="24.3" class="ti" textLength="172.3" lengthAdjust="spacingAndGlyphs">Surface heat flux</text><clipPath id="cpb1"><rect x="161" y="504.3" width="294.5" height="358.7"/></clipPath><rect x="161" y="504.3" width="298.5" height="358.7" fill="#fff"/><rect x="161" y="504.3" width="294.5" height="358.7" fill="#f2f5f8"/><g clip-path="url(#cpb1)"><path fill="#fbd3bf" fill-rule="evenodd" d="M207 504.5l25.5 0 0 3-1 1-6.5 .5-7 0-8-.5-2.5 0-1.5-1 0-3zM381 504.5l26 0 .5 5-1.5 1-4 1-5 0-6-.5-9.5-2.5-.5-1zM306 528.5l13 0 9 1.5 5 2 12 5.5 8 3.5 6 2 7 1 15 .5 19-1 8-.5 17-3.5 6-.5 6 0 4 1 1.5 1.5 0 1-2.5 1-22 3-6 2-3 2-3 3.5-4.5 6.5-1 3 1.5 2 3 1.5 5 1.5 6 1 17 1 22-.5 0 25-19 .5-13 0-38-2.5-18-2-6 0-13 1.5-45 9-9 .5-25-.5-17 .5-10 1-14 3.5-5 .5-6-.5-15-2.5-10-1.5-12-.5-19 0 0-12 26 0 24 2.5 7 0 7-1 11-3.5 7.5-1.5 26.5-1.5 4-1 3.5-1.5 3.5-3 4-5 3-2 5-.5 20 0 8-1 4-1.5 9-4 16-5.5 3.5-2.5 .5-3-1.5-3-4.5-2.5-11-1-35 0-5-.5-2.5-1-10.5-12-.5-2 1-1 1.5-1 5-1zM264 551.5l17 0 4 .5 2 1.5 .5 1 .5 2-1 6-3 5.5-3 1.5-10 0-30-2.5-8-2-2.5-1.5-1.5-2 0-2 1-2 2.5-2 3.5-1.5 10-2zM280 637l5 0 4 .5 12 4 5 1 17 1 80 1 52-.5 0 33-8 0-15-2.5-8-1-56-1-43-2.5-6 0-5 1-4.5 1.5-9.5 4-9 1-25 0-73 .5-32-.5 0-36 12 0 9-2.5 4-.5 4 .5 13 3 9 1 15 .5 18 0 16-1.5 14-4zM326 686.5l37-.5 9 .5 5.5 1 4.5 1 3 2 .5 1 0 1-1.5 1.5-3 1-9 1.5-43-.5-6.5-1.5-2-1-1.5-2 0-2 1-1.5 2-1zM422 701l6-.5 6 .5 7 2 6 3.5 8 0 0 11-8 0-6 2-8 .5-7.5-.5-6-2-3-2-2-2-1-3 0-3 1-2 2-2zM348 720.5l9-1 10 1 6.5 2 1.5 1 1 1 0 1-.5 1-2 1-5.5 1-9 .5-8-1-6-1.5-2-2 0-1 .5-1 1.5-1zM198 773l17-.5 6 .5 4.5 1.5 5 3 2 3 .5 2-.5 2-.5 1-2 1-5 1.5-11 2.5-18 2-13 .5-6-.5-4-1-12 0 0-14 12 0 8-2zM440 777.5l15-.5 0 24-14 .5-14 1.5-7 1.5-2 1-1 2 1.5 2 4.5 5 2 3 .5 2 0 5 .5 1 1 1 3 .5 3 0 5-1 9-2 8 0 0 39.5-244.5 0 .5-4 2-10 0-4-1-4-4-7-.5-2 .5-2 1.5-2 1.5-1 15-5.5 4.5-2.5 2-2 1.5-2 .5-2-1-7 .5-3 4.5-12 1.5-1.5 2-1 12.5-2.5 13.5-1.5 29 1.5 33-.5 38 .5 12-.5 13-1 29-5.5zM162 861l11 0 5 2.5-17 0 0-2.5z"/><path fill="#f3a98a" fill-rule="evenodd" d="M309 532.5l9 0 9 2 4.5 2 5 3 2 2 0 1-2 1-3.5 .5-9 .5-10 0-7-1.5-5-2.5-1.5-2-.5-2 0-1 2-1.5zM384 547.5l12 0 4 1 1.5 1 0 1 0 2-1.5 3-4 4-4 2-5 1.5-8-1.5-9-3-2-1.5-1.5-1.5-.5-3 1-1.5 2-1.5 5-1.5zM385 568l4-.5 4 0 16 2.5 15 1 31 0 0 22.5-22 .5-19-.5-21-2.5-7-1-5-1.5-9.5-4-5-3-3-3 0-2 1.5-2 3-1.5zM303 580l6 0 7 0 7 1 6.5 1.5 3.5 1 2.5 2 .5 1 0 1-2 2-5.5 2-6.5 1.5-22 4-12 .5-15-1 0-3.5 5-1 4-1.5 4-2 9-6 4-1.5zM219 647.5l18 0 13 .5 8.5 1.5 10.5 3 4 0 4 0 18-4 21-1.5 92-.5 47 .5 0 24.5-8 0-6-1.5-7-.5-35 1.5-27 0-17-1-25-2.5-10-.5-12 1-15 4.5-10 1.5-56 0-29 .5-14-.5-6-1-5-1.5-12 0 0-23.5 12 0 14 1.5zM354 688.5l13-.5 7.5 1.5 2.5 1 1 1-.5 1-1.5 1-4.5 1-9.5 0-26-1-6-1-1.5-1 .5-1 4-1.5zM428 703l5 .5 5 .5 5 2 4 3 8 0 0 6.5-8 0-5 2.5-7 .5-6-.5-6-1.5-3-2-1.5-2-.5-2 0-2 1.5-2 1.5-1.5 3-1zM202 777.5l8 0 3 1 2 1 0 1-1 2-5.5 3-8.5 2-10 1-7-1-3-1-1-1 0-2 .5-1 3.5-2 8.5-2zM446 779.5l9 0 0 20-20 .5-16 1.5-9 2-2 1-1 1 0 1 9.5 7 2 2 1 2 0 2-.5 2-4 6 0 1 .5 1 1.5 1 5 .5 7 0 8-1.5 10-3.5 8 0 0 37.5-144.5 0-2-2-4.5-1.5-25-3-8 0-18 2.5-11 0-5-1-1.5-1-1.5-2-.5-2 0-3 3-10-1-8 .5-2 2-2 5-3.5 5-2 5-1 19-1 5-1.5 2.5-2 .5-3-1-2-1-1-4-1.5-12-2.5-4-2-1.5-2-1-3 1-3 3.5-3 4.5-2 6.5-2 7-.5 45-2 20 0 30 1 11-.5 13-1.5 29-6 10-1z"/><path fill="#e58068" fill-rule="evenodd" d="M391 572.5l9-1 30 1 25-.5 0 20-20 .5-14-.5-17-1.5-11.5-2-5.5-2-5-3-2.5-3-.5-2 1-2 1.5-1 4.5-2zM384 648.5l24-.5 19 .5 12 1 8 2 8 0 0 13.5-15-.5-35 4.5-17 .5-19-.5-14-1-25-3-17-1-14 1-4 1-10 3.5-11 1.5-12 0-32-.5-31 .5-8-.5-6-1-12-4.5-12 0 0-12 12 0 7 2.5 6 .5 27-5 10-.5 10 0 12 2 13 5 5 1.5 6 1 6 0 9-1 13.5-5.5 6.5-1.5 7-1 11-1 26-.5zM434 782.5l8-1 13 0 0 17-43 .5-31 2-8 1.5-8 1.5-17 5.5-4 1-10-.5-16-2-17-6-17.5-2.5-1.5-1-.5-1 2-2 6.5-2.5 14-1.5 16-1.5 22 0 34 2 13 0 11-2 21.5-5.5zM390 810l6-.5 7 1 6.5 3 4 3 .5 2-1.5 3-8 7-1.5 2-.5 1 .5 1.5 2.5 1.5 9.5 .5 12-1 10-2 10-4.5 8 0 0 36-70 0-8-2-13-5-17-2-8-1.5-11-4-6.5-3.5-4.5-3-3.5-4-3-9-1.5-2-1-1-4-1.5-11.5-1.5-2-1-1-2 0-2 .5-2 2-2 2-1 5-1.5 7 .5 3 .5 2 1.5 4.5 6 3 2 10.5 3 12 5 6 1 7 0 5-1 4-1.5 11-8 9-8 3-1.5zM266 826l11 0 3.5 .5 2.5 1 1.5 2 1.5 5 0 5-1.5 3-1.5 1-3 1.5-8 1-8-1-3-1-2-1.5-2.5-3-2-3-.5-3 0-2 1.5-2 1.5-1 4-1.5z"/><path fill="#d1504a" fill-rule="evenodd" d="M416 573.5l39 0 0 17-20 .5-14-.5-15-1.5-10-2.5-3.5-2-2.5-3-.5-2 1.5-2 4-2 4.5-1zM385 650.5l20-.5 17 .5 11 1 4 1.5 2.5 1.5 1.5 2-1 2-2 1-4 2-15 3-17 2.5-18 .5-19-1-28-4.5-24-2-4-1-1.5-.5-.5-1 1-1 2-1 10-2 8-.5 20 .5zM221 654l9 .5 8 2 4 2 2.5 2 1 2 0 1-2 1-4.5 .5-14 1-15 0-5-.5-3-1-2-1 0-1 1.5-2 3.5-2 8-3zM439 784l16 0 0 13-32-.5-8-1-3.5-1-1-1 0-1 3-2 8-3 8.5-2zM326 792.5l14-.5 11 1 9 1.5 2.5 1 1 1 0 1-3 2-11.5 3.5-10 1-11 0-6-1-6.5-1.5-7.5-3-2-2 .5-1 3.5-1.5 6-1zM395 814l5.5 .5 4.5 1.5 1.5 1.5 0 1-1 2-4 3-6.5 2-6 1-3-1-.5-1-.5-2 2-4 4-3zM447 830l8 0 0 29.5-8 0-4-2-4-1.5-5-1-5-.5-8 1.5-12.5 4.5-9.5 .5-5.5-.5-3.5-1-4-2-1.5-2-.5-2 2-2.5 3-2 6-2.5 16.5-6 25.5-6 5-2zM333 836.5l11.5 0 12.5 1 3 1.5 2 1.5 0 1 0 2-1 1.5-1.5 1.5-4.5 1.5-6 .5-6-1-6-2-3.5-2-2-2-1-3 .5-1.5z"/><path fill="#b82132" fill-rule="evenodd" d="M411 575l16-.5 28 0 0 14.5-18 .5-11 0-11.5-1-9-2-2.5-1-3.5-2-1-2 .5-2 1-1.5 3-1zM389 652.5l14-.5 13 .5 9 1.5 3 1.5 .5 1 0 1-1 1-4 2-7 2-7.5 1.5-16 1.5-17-.5-7-1-6.5-1.5-3-2 0-1 1-1 4-2 8-2zM437 787.5l7-1 11 0 0 9-15-.5-7-.5-4.5-1-1.5-1-.5-1 1-1 4.5-2zM446 833l1-.5 8 0 0 21.5-8 0-7-3-14.5-3.5-1.5-1-1-1 1-2 3-2 13-5z"/><path fill="#7e0a23" fill-rule="evenodd" d="M419 576l15-.5 21 .5 0 11.5-25 .5-10-1-8-1.5-4-2-1-1-.5-2 1.5-1.5 3-1.5zM389 655l9-.5 8 .5 6 .5 1.5 1 1 1-.5 1-1.5 1-7.5 2-8 1-9 0-6.5-1-2-1-1-1 .5-1 1.5-1zM447 836l8 0 0 12.5-8 0-6.5-4-.5-1 .5-2z"/><path fill="#b6d5ea" fill-rule="evenodd" d="M183 504.5l4 0 0 3 1 1 17 2.5 19 1 9-.5 6-1.5 3.5-1.5 .5-4 117 0 0 3-1.5 1-12.5 1-3 1-2.5 2-2 3 0 5 .5 2 1 1 2 0 5-.5 6-1.5 5-2.5 9-5.5 4-1 6 0 15 2 7 1 9-.5 8-1 4-1.5 .5-1 0-1-3-2 0-4 37.5 0 0 33.5-8 0-2-1-4-.5-8-.5-10 1-25 4-10 .5-10 0-13-2-13-3.5-8-3.5-2.5-2-3.5-4-2-1-38-.5-24 1.5-14-.5-3 .5-1.5 1 0 1 .5 1 3.5 2 11.5 4 5 3 3 3 0 2-1 1-2 1-4 1.5-11 1-20 1-14-.5-7.5-2-7.5-4.5-4-4-5-7.5-4.5-5-5.5-4.5-11-6.5-1.5-2-.5-2 2-3 0-3zM447 546l8 0 0 23-19 .5-14-1-7-1-5-1-2-1.5-2-1.5 .5-3 2-4 3.5-3.5 4.5-2.5 4.5-1.5 6-1.5zM313 552l10-.5 9 0 4 1 3 1 1.5 1 0 1-.5 1-3.5 2-8.5 2.5-9 1.5-8 0-4-.5-2-1.5-1-1 0-2 1-2 1.5-1zM162 558l11 0 27 3.5 6 1.5 12 5.5 5.5 2 6.5 1 17 .5 7 1 7 2 2 1.5 0 1-.5 1-2 1-3.5 1-23 2-19 3-54 1 0-28.5zM386 596.5l13-.5 34 1 22-.5 0 45-8 0-13 1.5-17 0-47-.5-26-1-11-1-7-1.5-6-1.5-11-4-7-2-7-1-7-.5-21 1-4 1.5-6.5 4-5.5 2-8 1-11 0-9-1-6-1.5-19-9-9-2.5-8-.5-4 .5-4 1-12 0 0-21.5 21 .5 8 1 8 1.5 28 9 3 2 4 4.5 5 2.5 7 2 7 .5 3-.5 2-1 .5-1.5-1-2-4.5-4-9-5-2-2 .5-1 1.5-2 4-2 4-1.5 8-1.5 11-.5 28 1 8 0 8-1 17-4 11-1.5 9-1 19 0zM349.5 619.5l-6.5 2-1.5 1 0 1 .5 1 2 1.5 6 1 10 .5 9-1 6.5-2 1.5-1 .5-1-.5-1-1-1-7-2-10 0zM324 673l11 0 72 2.5 13 1.5 22 4.5 5 1 8 0 0 21.5-8 0-5-3.5-4-1.5-6-1-7-.5-8 1-5 2-2.5 2-1 4 1 5 2 4 4.5 3 5 2 6 1 7 0 7-.5 6-2 8 0 0 55.5-10 0-14 1.5-14 2-24.5 4.5-14.5 1.5-12 0-33 0-36 0-24-3-23-1.5-5-1.5-11.5-5.5-5.5-2-5-.5-10-.5-23 .5-7-.5-2-.5-2-1-2.5-7.5-2.5-3-1-.5-12 0 0-75 53 0 28.5 1.5 4.5 .5 2 1 4.5 5.5 3 2 6 2 5.5 .5 5-.5 5-2 2-2 3-5 2-1 8-1.5 12 0 4 1 2.5 6.5 2.5 3 4 2.5 5 1.5 8 1 17-.5 27 0 11-1.5 4-1 2-1 1-1 0-2-2-2-1.5-1-7.5-2.5-9-1.5-30-.5-29-2-1-.5-.5-1 1-2 2-2 3.5-2zM343.5 718.5l-3.5 1-2 1-1 2 0 2 2 2 1.5 1 6.5 2 11 1 12-.5 8-1.5 2-1 2-2-1-2-3-2-8-2.5-15-1.5-6 0zM162 797l36-.5 8 0 5 1 3 1.5 2 2.5 .5 8 0 4-1.5 2-3 2-13 4-4.5 2-3 3-4.5 7-3 2-6 1.5-17 0 0-40zM446 802l9 0 0 20-8 0-8 1-5-1-2-1.5-6.5-9-1-2 0-2 2.5-2 3.5-1z"/><path fill="#7ab3d8" fill-rule="evenodd" d="M255 504.5l29 0 0 3 1.5 1 9.5 .5 14-.5 1.5-1 0-3 28 0 0 3-.5 1-2.5 1-1.5 1-3 6-2 3-2 1-3 1-8 1-19-1-21 .5-6-.5-6-1.5-6-2-4-2.5-1.5-2-.5-2 1-2 1-1 .5-4zM428 504.5l27 0 0 5-8 0-7 .5-6-.5-6-1-.5-1 0-3zM211 516l6 0 7 0 5 1 4 1.5 1.5 1 1.5 2 2.5 8 2.5 2.5 5 2 15.5 4.5 3.5 2 .5 1 0 1-1.5 1-3.5 1-11.5 1-10-1-7-2-14-8.5-4-3-4.5-4.5-2.5-4-1-3 0-1 1.5-1zM373 517l7-.5 21 2 27-1 8 .5 5 1.5 6 3.5 8 0 0 11-8 0-6-.5-7 0-11 1.5-21 3.5-9 .5-12 0-11-2-8-1.5-5.5-2-3-2-1-2 1.5-2 4.5-3 9.5-5.5zM430 549l10-.5 7 1 8 0 0 18-8 0-9 1-10-.5-10-1.5-4-1-2-1-1.5-2 0-2 1-3 3-3 3.5-2 3-1.5zM162 563l12 0 19.5 4.5 5.5 2 4.5 2 3.5 3 1 2-1 1.5-2 1.5-8 2-23 2-13 0 0-20.5zM397 598.5l37 .5 21-.5 0 40.5-8 0-9 2-21 .5-48-1-19-2-11-2-2.5-1-2-2-.5-1 2-1 32-2.5 8-1.5 6-2 2-1.5 1.5-1.5 0-2-3-2-5.5-1.5-8-1-12 0-11 .5-7 1.5-4.5 1.5-3 2-1.5 2-2 5-2 .5-3 0-24-3.5-19 0-8-.5-5-2-7-4.5-4.5-3-2.5-3 1-2 2-1.5 4-1 6-1 13-.5 24 3 8 0 7-1 15-5 9-1.5 8-.5 23 0zM162 608.5l14 0 8 1 4 1.5 3 1.5 2 2-.5 1-1 1-3.5 1-14 2-13 0 0-11zM337 676l19 0 45 2 10 1.5 30 7.5 6 .5 8 0 0 13.5-8 0-5-4.5-6-2-7-.5-16 .5-5-.5-3-1.5-4.5-3-5.5-3-5-1.5-6-1.5-12-1.5-26 0-11.5-1.5-3-1-1-1 1-1zM162 686.5l52 1.5 13 1 11 2 22 7 8 1 5 0 4-1.5 4-1.5 10-6.5 3-.5 3-.5 3 .5 3 1 9 6.5 4 2.5 7 2 6 0 21-1.5 23 .5 20-1 5 .5 2 1 1.5 2 4 10 2 4 3.5 2.5 4 2 7 1.5 9 .5 8-.5 8-2 8 0 0 52-9 0-14 1-41 6.5-14.5 1.5-12.5 0-58 0-9-.5-18-3.5-23-2-6-1.5-15-4.5-9-2-9-1-21 0-6.5-1-4-2-6.5-7-5-4-13 0 0-10.5 13-.5 4.5-2 1.5-2 .5-1-.5-1-1.5-2-4.5-3.5-13 0 0-20 12 0 6 .5 1.5 0 1-2-1-3-1-3-1.5-2-3-2.5-2-.5-12 0 0-11zM271 708.5l-8 2-4 2-1 1 .5 1 1.5 1 6 1 16 1.5 14-.5 10-1.5 3.5-1.5 0-1-.5-1-2-1-7-1.5-20-2zM337 716.5l-4 1-2 1.5-.5 2.5 .5 2 1 2 3 2 4 2 5 1 14 1.5 16-1 5-.5 4-1.5 3-1.5 1-2 0-1-1-2-3-2-5-2-6-1-9-1.5-11-.5-8 0zM180 800.5l11-.5 5 .5 4 1 3 2 1.5 2 .5 2-.5 2-2 2-3.5 1.5-13 4-3.5 1.5-2 2-1 6-1 2-3.5 3-2 .5-12 0 0-30 12 0zM441 804l6-.5 8 0 0 17-14-.5-4-1.5-3.5-3-2.5-4-.5-2 0-1 2.5-2z"/><path fill="#4390c5" fill-rule="evenodd" d="M376 521l8-.5 41 1.5 5 .5 5 1.5 2.5 1.5 1.5 2 0 1-1.5 1-3.5 1-22 4-15 2-12 0-7-1-6-1.5-4.5-1.5-2.5-2-.5-2 2.5-3 5-3zM428 551l11-.5 5 .5 3 1.5 8 0 0 13.5-8 0-8 1.5-7 0-9-1-6-2-1.5-1-1-2 0-2 1-2 2-2 3.5-2zM162 568l11 0 6 1.5 8.5 3 2.5 2 0 1-.5 1-2 1-6.5 1.5-7 .5-13 0 0-11.5zM400 601.5l12-.5 43 0 0 35-8 0-4 2-5 1-11 1-15-.5-37-1.5-13-1.5-2.5-1 0-1 2.5-1 18-4 5-1.5 5-2.5 3-3 1-2 0-2-1.5-2-3.5-2-6-1-40 0-6-1-2.5-1 0-1 2-2 5-2 4.5-1 8-.5 25 0 7-1zM271 609.5l9 0 9.5 2 6 3 1.5 2-.5 1-3.5 2-8 1.5-7 0-6-1-4-1.5-3-2-2.5-3 .5-1.5 2-1.5zM203 694l15-.5 15 1.5 7 1 7 2.5 7 3 2 2 0 1-1 1-13 7-8 6-5 .5-8-.5-7-1.5-7-3-10-5.5-4.5-4-1-2-.5-2 1-2 .5-1 4.5-2zM295 694l4 0 4 2 6 4.5 1.5 2 0 1-1 1-2.5 .5-7 .5-8-.5-6.5-1.5-1.5-1 0-1 1.5-2 4.5-3.5zM341 702l8-.5 10 0 25 .5 8 1 3 1.5 3 3 3.5 9 2.5 3 5 2.5 8 2 8 1 7 0 8-1 7-2 8 0 0 48.5-10 0-11 1-42 5.5-16 1.5-50 .5-13-.5-8-1-14-3.5-21-1-10-1-23-5-10-2-24-1.5-6-1-4-1.5-3-2.5-3.5-4-2-4 .5-2 1.5-1 3.5-2 6-1.5 9-1.5 26-3 9-2 2.5-2 0-2-1-2-3.5-5-.5-3 1.5-2 3-.5 16-.5 35 .5 23-1 3 .5 3 1.5 6.5 5.5 3.5 2 4 1 6 1.5 11 1 13 0 11-.5 8-1.5 5.5-2.5 3-3 0-2-.5-1-2.5-2-2.5-1.5-8-2.5-10-1.5-35-3.5-4-1-3-1-1.5-2 .5-1 1.5-1 6.5-2zM445 805.5l10-.5 0 13.5-8 0-3-.5-3.5-1.5-3.5-3-1-3 1-2 3.5-2z"/><path fill="#2466b3" fill-rule="evenodd" d="M384 525l10-.5 17 .5 6.5 1.5 2 1 0 1-3.5 2-9 2-9 1-8 0-8-2-2.5-1-1-1-.5-1 1-1.5 1.5-.5zM415 605l7-.5 9 0 8 .5 3 1.5 1.5 2-1 3-2 3-4 4-1 2 2 2 5.5 3 2.5 2 1 3-1.5 3-3 2-4 1-6 1-7 .5-18.5-.5-16.5-2-4-1-.5-1 1-1 19-11 4-3 .5-1 .5-2-1-7 0-1 1.5-1zM213 699l8-.5 9 .5 7.5 2.5 1.5 1 1 1-.5 1-2 2-6.5 2.5-6 1.5-6-.5-7-2-3-1.5-2.5-2 0-2 .5-1 2-1.5zM447 723.5l8 0 0 21-8 0-1.5 2-.5 2 0 1 2 1.5 8 0 0 17.5-21 .5-35 4-15 1-11 .5-22-.5-26 1-8-1.5-12-4-6-1-7-.5-19 1.5-14-1.5-27-5-24-3.5-4.5-1-1.5-1-1-2 .5-2 1-1 3.5-2 4-1.5 11-3 23-4 7-2.5 2-1 1.5-2 0-2 0-5 .5-2 4-2 5-1 14-1 33 .5 5.5 1.5 9.5 5 8 2 12 1.5 18 .5 14-.5 9-1 6-1.5 8-4 3.5-1 26.5 0 8-1z"/><path fill="#1c5597" fill-rule="evenodd" d="M412 626.5l8-1 9 1 6.5 2 1.5 1 1.5 2-.5 1-2 1.5-6 1.5-11 0-11-1-3.5-1-1.5-1 0-1 0-1 3-2.5zM446 725l1 0 8 0 0 16.5-8 0-6 4-1.5 2 0 2 2.5 2.5 4 2 9 0 0 12.5-22-.5-36 3.5-10-.5-15-2-21 2-16 0-8-1-9-4-5-1-10-.5-30 1.5-11 0-13-1.5-13-2-8.5-2-3.5-1.5 0-.5 0-4.5 5-2 9-2.5 18-3 5-1.5 2-1.5 1.5-2 1-6 1-2 2.5-2 5-1.5 11-.5 16 1.5 6 1 13 3.5 14 2 16 .5 29 0 15-1 16-4.5 24-2 7-1.5z"/><path fill="#0b3a6e" fill-rule="evenodd" d="M446 727l1-.5 8 0 0 12-8 0-6 2.5-8 4.5-2 2-.5 2 1 2 2.5 2 5 2.5 7 1 9 0 0 6.5-8 0-7-1-7 0-25 2-10 0-4-1-3.5-1-6.5-5.5-3-1.5-4-1.5-4 0-4 .5-3 1-6.5 5-3.5 2-6 1-6 .5-7-1.5-8-5-5-2-6-.5-17 1.5-7 0-6-1.5-1.5-1.5-1-2 .5-3 2-3 3-2 4-1 23-1.5 18-2 20-.5 18 0 20 2 5 .5 6-1.5 13.5-5 18.5-4z"/></g><line x1="161" x2="459.5" y1="771.4" y2="771.4" stroke="#8c4cb8" stroke-width="1.8"/><line x1="161" x2="459.5" y1="679.8" y2="679.8" stroke="#8c4cb8" stroke-width="1.8"/><line x1="161" x2="459.5" y1="588.3" y2="588.3" stroke="#8c4cb8" stroke-width="1.8"/><rect x="161" y="504.3" width="298.5" height="358.7" fill="none" stroke="#000" stroke-width="3"/><line x1="151.5" x2="161" y1="863" y2="863" stroke="#000" stroke-width="3.2"/><line x1="151.5" x2="161" y1="840.1" y2="840.1" stroke="#000" stroke-width="3.2"/><line x1="151.5" x2="161" y1="817.2" y2="817.2" stroke="#000" stroke-width="3.2"/><line x1="151.5" x2="161" y1="794.3" y2="794.3" stroke="#000" stroke-width="3.2"/><line x1="151.5" x2="161" y1="771.4" y2="771.4" stroke="#000" stroke-width="3.2"/><line x1="151.5" x2="161" y1="748.5" y2="748.5" stroke="#000" stroke-width="3.2"/><line x1="151.5" x2="161" y1="725.6" y2="725.6" stroke="#000" stroke-width="3.2"/><line x1="151.5" x2="161" y1="702.7" y2="702.7" stroke="#000" stroke-width="3.2"/><line x1="151.5" x2="161" y1="679.8" y2="679.8" stroke="#000" stroke-width="3.2"/><line x1="151.5" x2="161" y1="656.9" y2="656.9" stroke="#000" stroke-width="3.2"/><line x1="151.5" x2="161" y1="634" y2="634" stroke="#000" stroke-width="3.2"/><line x1="151.5" x2="161" y1="611.1" y2="611.1" stroke="#000" stroke-width="3.2"/><line x1="151.5" x2="161" y1="588.3" y2="588.3" stroke="#000" stroke-width="3.2"/><line x1="151.5" x2="161" y1="565.4" y2="565.4" stroke="#000" stroke-width="3.2"/><line x1="151.5" x2="161" y1="542.5" y2="542.5" stroke="#000" stroke-width="3.2"/><line x1="151.5" x2="161" y1="519.6" y2="519.6" stroke="#000" stroke-width="3.2"/><line x1="172.4" x2="172.4" y1="863" y2="867.5" stroke="#000" stroke-width="2"/><line x1="209.9" x2="209.9" y1="863" y2="873" stroke="#000" stroke-width="3"/><text x="209.4" y="902" text-anchor="middle" class="tx">180</text><line x1="247.4" x2="247.4" y1="863" y2="867.5" stroke="#000" stroke-width="2"/><line x1="285" x2="285" y1="863" y2="873" stroke="#000" stroke-width="3"/><text x="284.5" y="902" text-anchor="middle" class="tx">150W</text><line x1="322.5" x2="322.5" y1="863" y2="867.5" stroke="#000" stroke-width="2"/><line x1="360.1" x2="360.1" y1="863" y2="873" stroke="#000" stroke-width="3"/><text x="359.6" y="902" text-anchor="middle" class="tx">120W</text><line x1="397.6" x2="397.6" y1="863" y2="867.5" stroke="#000" stroke-width="2"/><line x1="435.1" x2="435.1" y1="863" y2="873" stroke="#000" stroke-width="3"/><text x="434.6" y="902" text-anchor="middle" class="tx">90W</text><text x="170.3" y="488.2" class="ti" textLength="145.1" lengthAdjust="spacingAndGlyphs">MLT tendency</text><text x="137" y="868.4" text-anchor="end" class="t">Jan(-1)</text><text x="137" y="845.5" text-anchor="end" class="t">Apr(-1)</text><text x="137" y="822.6" text-anchor="end" class="t">July(-1)</text><text x="137" y="799.7" text-anchor="end" class="t">Oct(-1)</text><text x="137" y="776.8" text-anchor="end" class="t">Jan(0)</text><text x="137" y="753.9" text-anchor="end" class="t">Apr(0)</text><text x="137" y="731" text-anchor="end" class="t">July(0)</text><text x="137" y="708.1" text-anchor="end" class="t">Oct(0)</text><text x="137" y="685.2" text-anchor="end" class="t">Jan(+1)</text><text x="137" y="662.3" text-anchor="end" class="t">Apr(+1)</text><text x="137" y="639.4" text-anchor="end" class="t">July(+1)</text><text x="137" y="616.5" text-anchor="end" class="t">Oct(+1)</text><text x="137" y="593.7" text-anchor="end" class="t">Jan(+2)</text><text x="137" y="570.8" text-anchor="end" class="t">Apr(+2)</text><text x="137" y="547.9" text-anchor="end" class="t">July(+2)</text><text x="137" y="525" text-anchor="end" class="t">Oct(+2)</text><clipPath id="cpb2"><rect x="497.4" y="505.4" width="294.8" height="358.7"/></clipPath><rect x="497.4" y="505.4" width="298.8" height="358.7" fill="#fff"/><rect x="497.4" y="505.4" width="294.8" height="358.7" fill="#f2f5f8"/><g clip-path="url(#cpb2)"><path fill="#fbd3bf" fill-rule="evenodd" d="M546.5 505.5l75.5 0 0 3-.5 1-3 1.5-7 5-5 2.5-19 6-5 2.5-12 8.5-6 2-7 .5-5-1-4-1-3-2-1.5-2.5-.5-3 .5-3 4.5-8 .5-3-.5-2-2.5-3 0-4zM780.5 505.5l12 0 0 32-8 0-1-1.5-1.5-7.5 0-14-1.5-5zM783.5 569.5l9 0 0 60.5-8 0-1-1-1.5-6.5 0-13-2-10 .5-6 0-2-1-2-2-2-3-1.5-4-1.5-7 .5-20 5-11 2-14 .5-27-1-17 .5-16 1.5-20 4-6 0-12-2.5-7-.5-8-.5-9 .5-10 2-18 8-9 1.5-6 0-5-1.5-3.5-3-2-4 .5-4 .5-2 1.5-1.5 3-2 6-1 12-.5 44-1 10-1.5 15-3 22 .5 5-1 11-3 6-1 8-.5 19 0 23-2.5 12 0 21 2 6 .5 4-1 4-1.5zM553.5 629.5l4 0 4 1 20 6 16 5.5 11 2.5 26 .5 24 3 11 1 10-.5 21-3 7 0 6 .5 8 2 25.5 7.5 6.5 3 1.5 2 .5 1-1.5 2-5.5 2-31.5 5-17.5 4.5-9 0-16-2.5-7 0-6 1-13 3.5-8 1-10-1-16-4.5-6-1-27 2-45 0-16-.5-11-2-12 0 0-29 12 0 5 1.5 5 1 4 0 5-1 6-2 4.5-2 4.5-3 6-5.5zM783.5 650l1-.5 8 0 0 23.5-9 0-5-.5-4-2-2-2-.5-3 1-3 3.5-5zM590.5 690.5l13-1 8 .5 7 1.5 3 2 1 1 .5 2-.5 2-1 2-7.5 8-3 2-3.5 1-5 1-8 .5-23-1-10-1-5-1.5-4-2-2.5-3-2.5-4 0-1 1-1 2-1 7-2 15-3zM762.5 745.5l7-1 3 .5 2 1 1 1.5 .5 3-1 3-1.5 2-3 2-5 1.5-5-1-4-2-2-2.5 0-3 3-3zM704.5 774.5l15-1 37 1.5 10 1.5 3 1.5 3 2 2 3 1 4.5 1 7 0 7-1 4-5 7-.5 3 1 2 2 2 10.5 5.5 9 .5 0 39-295 0 0-51 12 0 1 1 4 6.5 1.5 1.5 4.5 1 6 0 7-1.5 6-2.5 2.5-2 3.5-4 2-3 .5-2-1-2-3.5-2-7-2.5-9-2-8-.5-10 .5-12 0 0-23.5 49-.5 34-1 28 0 19-.5 28 1.5 19 .5 13-.5zM609 834.5l-2.5 1-3 2-4 4-1 3 .5 2 1.5 .5 6 1.5 9-.5 7-1.5 2.5-1 1-1 .5-1-.5-2-1.5-2-3-2-3.5-2-3.5-1-3-.5z"/><path fill="#f3a98a" fill-rule="evenodd" d="M784.5 574l8 0 0 11-8 0-1 0-2-2.5-1.5-2 0-2 2.5-3zM728.5 576.5l8-.5 8 1 6 1.5 1.5 1 0 1-.5 1-3 2-10.5 3-9.5 1-10.5-1-7.5-2-1-1 .5-1 3.5-2 5-2zM562.5 640l6 0 8 1 24 7 9 1.5 6 .5 19-.5 18 2.5 9 1 8 0 7-1 23-4.5 11 0 10 2 16.5 5 7 3 1.5 2 0 1-2 1.5-6 2-11 2-16 2-15 0-26-2.5-9 0-5 1-11 5-7 1-8-.5-14-5-4-.5-5 .5-16 3-9 1-46 0-13-.5-6-1-7-2.5-12 0 0-16 12 0 6 3.5 3 1 4 0 4 0 7-2.5 22-10.5zM784.5 654.5l8 0 0 11.5-8 0-1 0-1.5-1.5-.5-2 0-3 1.5-4zM584.5 694.5l10-1 7 1 3 1 1 .5 .5 1.5 0 1-1 2-3.5 3-6 2.5-5 1-5 .5-10-1-4-1-2-1-1.5-2 0-2 2-2 4.5-2zM700.5 777.5l19-1 32 1.5 11 2 4 1.5 3 2 2 3 1.5 4 1 5-.5 5-2 4.5-7.5 7.5-1.5 3 1.5 2 1 1 18.5 8.5 9 0 0 37.5-96.5 0 3-3 0-1-1.5-1-13-2.5-6-2-24-9.5-23-11.5-5.5-3.5-6-6-2.5-1-4-.5-5 0-3 1.5-7 8-15 14-7 4-9 3.5-8 2-9 .5-9 .5-9-.5-6-1-3.5-1-3-2-1.5-3-1-5-.5-8 .5-3 2-2 4.5-2 12.5-3 6-1.5 4.5-2.5 6.5-5 4-2.5 5-2 11-2 1.5-.5 1-1-.5-2-4-3-19-7-4-2-2.5-2-1.5-2-.5-3 2.5-3 3.5-2 6.5-2 7-1.5 19-1.5 48 .5 51-.5zM681 815.5l-7.5 1.5-5.5 2.5-.5 1-.5 2 2 2 2.5 1 8 1 10 0 8-2 2.5-1 .5-1 .5-1-1.5-2-3-2-7-2zM571.5 861.5l20 0 4 1 1 1 0 1-50 0 4-1.5 7-1z"/><path fill="#e58068" fill-rule="evenodd" d="M703.5 649.5l9 0 11.5 3 11 4 2.5 2 .5 1-2.5 2-5 1.5-8 1.5-10 1-8 0-8-.5-7-1-6-1.5-4-1.5-2.5-1.5 0-1 2-2 13.5-5zM565.5 650.5l7-1 7 .5 7 1.5 6 3 3.5 3 1 3-2 3-3 2-6.5 2-9 1-41-2 0-3.5 8-3.5 13-6.5zM716.5 779.5l25 .5 13 1.5 5 1 4 1.5 3 2 2 2 2 4.5 0 4-1 4-2 3-4 3.5-8 4-6 2-7 1-27 1-19-2.5-12-1-11 1-18 2-19-.5-21 1.5-10-.5-5-1-4-2-3.5-2.5-5-6-2.5-2.5-4-2-15-5.5-2.5-2-1-2 1-2 1-1 4-2 7.5-2 8-1 13 0 31 1 29-2 29 0zM567.5 821.5l7 0 9 1.5 5 2 2 2.5 0 3-2 3-7.5 7-5.5 4-5.5 3-6.5 2-7 1-7 .5-7-.5-5.5-1-4-2-3-3-1-3 0-3 1-2 2-2 4.5-2 16-4.5 10-5zM752.5 821.5l5-.5 6 1 10 2.5 10 4 9 .5 0 35.5-43 0 7.5-6 11.5-6.5 3.5-3.5 1-3-1-3-2.5-2-4-1-9-1-7 .5-4 2-5 4.5-3.5 2-4.5 1-6 .5-17-.5-16 1-8-.5-5-1.5-5-2-4.5-3-1.5-2 0-2 3-2.5 4.5-1.5 6-1 12.5-.5 25 2 9 0 6-1 4-2 7-8 3-2z"/><path fill="#d1504a" fill-rule="evenodd" d="M706.5 651.5l6 0 7.5 2 8.5 3 2 2-.5 1-1.5 1-3 1-10 1.5-11 0-10-1.5-4.5-2-.5-1 0-1 1-1 3-2 4-1.5zM710.5 782.5l24 0 14 1 10 2 3.5 2 2.5 1.5 2 3.5 .5 4-1 3-3 3-4.5 2.5-6 2-6 1-8 1-18 .5-32-1-29 .5-20-.5-22 2-7 0-5-1.5-4-2.5-1-2-.5-2 .5-6-.5-2-2.5-2-6-3 .5-1 4.5-1 33-1.5 29-3zM760.5 825.5l5 0 5.5 1 12.5 4.5 9 0 0 33.5-24 0-1-2 .5-1 6.5-6.5 2.5-4.5 1-4 0-4-1.5-3-3-2-16-3.5-4-2-1-1.5 1-2.5 2.5-1.5zM561.5 833.5l8-.5 2.5 .5 1 1 0 2-2 3-3.5 3-3 1.5-7 2-7 0-5.5-1.5-2-1-1.5-2 .5-2 .5-1 3.5-2 6.5-2z"/><path fill="#b82132" fill-rule="evenodd" d="M705.5 654.5l5-.5 6 1 3 1.5 1.5 1 0 1-1.5 1-5 1-6 0-5-.5-3.5-1.5-.5-1 .5-1 1.5-1zM658.5 785.5l11-.5 28 .5 34 0 14 .5 7.5 1.5 5 2 3.5 3 .5 3-1 3-4.5 3-7 2-8 1-56 .5-28-.5-37 .5-5-1.5-1.5-2 0-3 1.5-3 2-2 2-1.5 4-1.5 5-1zM782.5 835l2-.5 8 0 0 25.5-8 0-1 0-1.5-1.5-.5-3 .5-12-.5-6 0-1z"/><path fill="#7e0a23" fill-rule="evenodd" d="M655.5 789.5l13-.5 33 1 40 0 5 .5 4 1 3 2 .5 2-1.5 2-2 1-4 1-6 .5-53 .5-24-.5-19 1-9 0-5-1-4-1.5-.5-2 .5-1 2-1.5 4-1.5 5-1z"/><path fill="#b6d5ea" fill-rule="evenodd" d="M696.5 505.5l74 0 0 4 4.5 4 2.5 5 4.5 25 0 4-1.5 8 1 6 0 3-2.5 3-4.5 2.5-5 1.5-6 .5-32-1-29 2-32 0-16 2-25 1-5 1-12 3.5-11 1-17 0-20 .5-8-.5-4-1-3.5-1-5.5-5-2-1-3-.5-5 0-9 1-6 1.5-3.5 2-5.5 4.5-12 0 0-24 23 0 13 1.5 4 1 3 2 2.5 2 3.5 4 2 1.5 2 0 7 .5 23 0 18 1 8-.5 5-1 3-2 4-5.5 2-1.5 3-1.5 3-1 6-.5 7 .5 20 3 4-.5 4-1 3.5-1.5 3-2 0-1-.5-1-2.5-1-8.5-2-26-4.5-7-1.5-15-5.5-16.5-4.5-2.5-2 0-1 .5-1 4.5-3 14-7 11-7.5 6-2.5 5-1 6 0 35 0 15-.5 3-.5 1-1zM677.5 595.5l14 0 19 2.5 7 0 10 0 27-2.5 5 0 3 .5 12 8.5 2 2 1.5 3 1 4 0 12 4 15-.5 3-.5 2-3.5 4.5-5 4-5 2-5 .5-5-1-20-4.5-20-5.5-8-1.5-12-.5-19 2-10 .5-11-1-23-3-20-.5-7-1-10-2.5-24-9-4.5-2.5-3.5-3-1-3 .5-3 3.5-3 11-5.5 9-6.5 4-2 8-2 8 0 7 1 14 3 9 .5 8-1 17-5zM498.5 674l11 0 10 1.5 15 .5 69-.5 5 .5 5 1.5 4 2 2.5 2 0 1-1.5 1-6 1-21 3-31 3-12 0-28-1-23 .5 0-16zM693.5 683.5l14-.5 12 1 25 4.5 18-.5 6 .5 4 1 4 1.5 8 4.5 8 0 0 128-9 0-6.5-4-1.5-2-1-2 1-3 3.5-6 .5-3-1-10 0-17-1.5-3-4-4-1-2 .5-2 5-7.5 2-6.5 .5-5-.5-3-1-1.5-2-1-7 0-8 1.5-6 2-4.5 3-2 2-1 2 0 4 1.5 3.5 4.5 5.5 1 2-.5 1-2 1-9 1.5-9 .5-24 .5-23 2.5-10 1-13 0-11.5-1-25.5-4.5-5.5-1.5-2.5-2-2.5-5-2.5-4-3-2-3-1-4 1-5.5 3-5.5 4-3.5 5-1.5 1-2 .5-8 0-16-2-16 3-12 1-14 0-11-.5-12 0 0-39 12 0 10 .5 11.5-.5 10.5-2 4.5-2 8.5-4.5 7-2 11-.5 21 0 10-.5 11-2 20-5.5 5-.5 12 .5 6-.5 5-2.5 2.5-2 1.5-2 1.5-4 0-8 .5-2 2-2.5 3-1.5 5-1.5zM735.5 698.5l-6 2-5.5 4-4.5 5-.5 1 1 1 5.5 1 10-.5 6-1 3-1.5 .5-2 0-2-1.5-4.5-3-2.5-2 0z"/><path fill="#7ab3d8" fill-rule="evenodd" d="M648.5 513.5l30-1 14 1 6 1 33 11 4 .5 5-1.5 10-6.5 4-1.5 6-1 6 1.5 4 2.5 3 4.5 2 5.5 2.5 11 0 3-1 3-1.5 2.5-4 4.5-1 2 0 2 2 5-.5 2-2 2-2.5 1-9 1-34-.5-34 1.5-8 0-6-1.5-2-1.5 0-1 1-1 4-2.5 10-3.5 4-2 .5-1 0-1-1.5-1-7-2.5-35-6.5-9-2.5-9-3.5-8-5-2-2-.5-2 1-3 4-5 4.5-4 4-2 3-1zM498.5 563l15 0 5 0 4.5 1.5 1.5 1 .5 1-.5 1-2 1-8 3-5 3-12 0 0-11.5zM630.5 563.5l5-1 6 .5 6 2.5 1 1 .5 1-.5 1-1.5 1-4.5 1.5-7 .5-6-.5-3-1.5-1-2 1-2zM674.5 599.5l11-1 10 1.5 6.5 2.5 10.5 5.5 6 1.5 7-.5 13-4.5 9-1 6 0 6 .5 5 1 4 1.5 4.5 3 1.5 2 .5 2 0 3-.5 9 2.5 11 .5 3 0 3-1 2-3 4-4 2.5-5 1-7 0-17-2.5-19-6-10-1.5-16-.5-21 1.5-10-.5-9-.5-21-3-22-1.5-9-2-18.5-7-4-2-2.5-2-.5-1-.5-2 1-2 5-3 13.5-4 2.5-2 4-4 2-1.5 5-.5 18 2 16 0 9-1 13-4.5zM498.5 677.5l42 1 46 0 9 .5 3.5 1.5 0 1-1.5 1-8 2-21 2-17 0-54-1 0-8zM691.5 687.5l12-1 11 .5 9 2.5 2 1 2 2-.5 2-2 2-6.5 5-6 3.5-11 4.5-3.5 2-1 2 1.5 2 4 1.5 5 1 8 .5 21-.5 23 1 12.5-.5 3.5-1 1-1 0-1-.5-1-2.5-1.5-13-3.5-3.5-2-2-2-1-2 0-2 .5-2 1.5-2 2.5-1.5 4-1 8 0 7 1.5 7 4 8 0 0 31.5-8 0-4 2.5-3 1.5-18 4-5 1.5-4 2-4.5 3-2.5 3-1 3-3 9-1.5 2-2.5 1.5-7.5 1.5-21.5 1.5-26 3-11 .5-10-1-23-5.5-6-2-5-4-10-11.5-3-2-4-1-3 .5-2 1-7.5 6.5-5.5 3.5-4 1.5-4 1-6 .5-16-.5-7 0-5 1-12 5-10 1.5-9-.5-8-1.5-12 0 0-28.5 32-.5 30-1.5 17 .5 8-.5 7-1.5 9.5-5.5 5-2 11.5-3.5 11-2.5 6-.5 5 0 6 1 11 2 5 0 3-1 3-2 7-6.5 2.5-3 1-4-.5-9 1.5-3 2.5-2 2-1zM784.5 745l8 0 0 21-8 0-1-.5-1.5-2-.5-3 .5-6 1-7 .5-1.5zM784.5 780.5l8 0 0 41.5-9 0-4-3.5-1-2 .5-3 3.5-7 0-3-1.5-8 0-5 1.5-7 1-2.5z"/><path fill="#4390c5" fill-rule="evenodd" d="M665.5 516.5l11-.5 8 .5 30 8 6.5 3 4 3 2 3-.5 3-1 2-2 2-5 3.5-7 2.5-7 1.5-11-.5-14-2-9.5-2-12.5-4-7.5-3-5.5-4-2.5-3-1.5-2-.5-2 .5-2 3-3 4-1.5 7-1.5zM757.5 526l4-.5 4 1 3 2 2 3 2 5.5 0 4.5-1.5 3-2.5 2-6 1.5-7 0-3-1-3-1.5-3-3-1-2 0-2 1.5-4 5-5zM676.5 604l6-.5 6 1 4 2.5 5 5.5 5 2 24 3 5 0 4-.5 3-1.5 7-4.5 6-2 7 0 3.5 .5 3.5 1 2.5 2 1.5 3-.5 3-2 6-.5 3 .5 3 3 8 0 3-.5 2-2.5 3-3.5 1.5-5 1-6 0-13-2.5-13-4.5-8-1.5-32-2.5-19 2-10-.5-39-4.5-9-2.5-11-6-2-2 0-1 1.5-1 9.5-4 10-5.5 5-1.5 6-.5 24-1 7-.5 5-1zM696.5 690.5l8-1 7 1 5 1.5 1 1.5 0 1-1 2-2.5 2-5.5 3-8 2-7-.5-3-1-2-2-1.5-2.5 .5-2 1-2 1.5-1zM686.5 721l7 0 18 .5 29 2.5 30 0 6 1 1.5 1.5 0 1-2 3-4 2-16.5 4.5-5 2-4 2-6.5 5.5-7.5 10.5-5 3.5-6 1.5-8 1.5-22.5 2-9.5 0-4-.5-3-1.5-1-2-3-8-2-3.5-4-3.5-4-1.5-5-.5-5 2-3 3-3 6-2 1.5-4 1-5-1.5-3-2-3-4-4-10.5-1.5-1.5-7-5-.5-1-.5-2 1.5-2 1-1 4.5-2 6.5-2 6-.5 4 .5 4 1 10 4.5 4 1.5 4 .5 5 0 5-1 4-1.5 9-6zM564.5 741.5l12-.5 8 .5 3 1 2 1.5 1 1.5 .5 2-1 2-2.5 2.5-3 1.5-4 1-5 .5-6-.5-14-2-4-1-2.5-2-1-2 .5-2 2-1.5 3-1zM498.5 741.5l11 0 4 1.5 1 2.5 1 7 2 2.5 2.5 2.5 .5 1-3 0-8-1-12 0 0-16zM784.5 787.5l8 0 0 12.5-8 0-1-1.5-.5-3 0-4 .5-3zM784.5 810.5l8 0 0 9.5-8 0-1-.5-1.5-2-.5-2 1-3 1-1.5z"/><path fill="#2466b3" fill-rule="evenodd" d="M700.5 527.5l7 0 6 2 2 1.5 1 1.5 .5 1-.5 2-3.5 3-5.5 2-8 1-6.5-1-1.5-1-.5-2 2.5-5.5 1-1.5 2-2zM632.5 614.5l8-.5 10 0 12 1 6 1.5 3.5 2 2 3 2.5 7 0 3-2 2-4.5 2-5.5 1-6 .5-8-1-11.5-1.5-11-2-7-2-3.5-2-1-2-.5-2 1-2 3-3 3-2 4.5-2zM704.5 621.5l4-.5 5 0 5 1 4.5 1.5 2.5 2 1.5 2 0 2-1 3-1.5 2-1.5 1-3.5 1-4 .5-12-.5-8.5-2-2-1-1.5-2 0-1 1-2 3-3 3-2zM697.5 725.5l12-.5 12 1.5 18.5 6 1.5 1 .5 2-2.5 4-7 7-5 4-5 2.5-8 2.5-12 2.5-8 .5-6-1-5-2-3.5-3-5-9-1-2 0-2 1.5-2 13-9 4.5-2z"/><path fill="#1c5597" fill-rule="evenodd" d="M636.5 618l5-.5 6 .5 6 .5 5 1 4 2 2 2 1.5 2 0 3-1 2-1.5 1-3 1.5-4 0-10-.5-12.5-3-2.5-1.5-3-1.5-.5-1 0-2 1-2 1.5-1zM705.5 729.5l7 0 4 1 4 1.5 4.5 3.5 1 2 0 2-1.5 1.5-2 1.5-5 1.5-18 1-5.5-.5-1.5-2 0-2 1-3 2-3 4-3.5z"/></g><line x1="497.4" x2="796.2" y1="772.5" y2="772.5" stroke="#8c4cb8" stroke-width="1.8"/><line x1="497.4" x2="796.2" y1="680.9" y2="680.9" stroke="#8c4cb8" stroke-width="1.8"/><line x1="497.4" x2="796.2" y1="589.4" y2="589.4" stroke="#8c4cb8" stroke-width="1.8"/><rect x="497.4" y="505.4" width="298.8" height="358.7" fill="none" stroke="#000" stroke-width="3"/><line x1="487.9" x2="497.4" y1="864.1" y2="864.1" stroke="#000" stroke-width="3.2"/><line x1="487.9" x2="497.4" y1="841.2" y2="841.2" stroke="#000" stroke-width="3.2"/><line x1="487.9" x2="497.4" y1="818.3" y2="818.3" stroke="#000" stroke-width="3.2"/><line x1="487.9" x2="497.4" y1="795.4" y2="795.4" stroke="#000" stroke-width="3.2"/><line x1="487.9" x2="497.4" y1="772.5" y2="772.5" stroke="#000" stroke-width="3.2"/><line x1="487.9" x2="497.4" y1="749.6" y2="749.6" stroke="#000" stroke-width="3.2"/><line x1="487.9" x2="497.4" y1="726.7" y2="726.7" stroke="#000" stroke-width="3.2"/><line x1="487.9" x2="497.4" y1="703.8" y2="703.8" stroke="#000" stroke-width="3.2"/><line x1="487.9" x2="497.4" y1="680.9" y2="680.9" stroke="#000" stroke-width="3.2"/><line x1="487.9" x2="497.4" y1="658" y2="658" stroke="#000" stroke-width="3.2"/><line x1="487.9" x2="497.4" y1="635.1" y2="635.1" stroke="#000" stroke-width="3.2"/><line x1="487.9" x2="497.4" y1="612.2" y2="612.2" stroke="#000" stroke-width="3.2"/><line x1="487.9" x2="497.4" y1="589.4" y2="589.4" stroke="#000" stroke-width="3.2"/><line x1="487.9" x2="497.4" y1="566.5" y2="566.5" stroke="#000" stroke-width="3.2"/><line x1="487.9" x2="497.4" y1="543.6" y2="543.6" stroke="#000" stroke-width="3.2"/><line x1="487.9" x2="497.4" y1="520.7" y2="520.7" stroke="#000" stroke-width="3.2"/><line x1="509.2" x2="509.2" y1="864.1" y2="868.6" stroke="#000" stroke-width="2"/><line x1="546.7" x2="546.7" y1="864.1" y2="874.1" stroke="#000" stroke-width="3"/><text x="546.2" y="903.1" text-anchor="middle" class="tx">180</text><line x1="584.2" x2="584.2" y1="864.1" y2="868.6" stroke="#000" stroke-width="2"/><line x1="621.8" x2="621.8" y1="864.1" y2="874.1" stroke="#000" stroke-width="3"/><text x="621.3" y="903.1" text-anchor="middle" class="tx">150W</text><line x1="659.3" x2="659.3" y1="864.1" y2="868.6" stroke="#000" stroke-width="2"/><line x1="696.9" x2="696.9" y1="864.1" y2="874.1" stroke="#000" stroke-width="3"/><text x="696.4" y="903.1" text-anchor="middle" class="tx">120W</text><line x1="734.4" x2="734.4" y1="864.1" y2="868.6" stroke="#000" stroke-width="2"/><line x1="771.9" x2="771.9" y1="864.1" y2="874.1" stroke="#000" stroke-width="3"/><text x="771.4" y="903.1" text-anchor="middle" class="tx">90W</text><text x="506.3" y="494" class="ti" textLength="261.8" lengthAdjust="spacingAndGlyphs">Zonal advective feedback</text><clipPath id="cpb3"><rect x="834" y="505" width="294.8" height="358.7"/></clipPath><rect x="834" y="505" width="298.8" height="358.7" fill="#fff"/><rect x="834" y="505" width="294.8" height="358.7" fill="#f2f5f8"/><g clip-path="url(#cpb3)"><path fill="#fbd3bf" fill-rule="evenodd" d="M1037 576l7-1 7 .5 6 1 2 .5 1 1-.5 1-1.5 1-4 1-7 1-6 0-6-1-4.5-2 0-1 2-1zM1117 643l3-1 9 0 0 12-10 0-4-1-2.5-1-1-2 .5-3 1.5-2zM1036 651l17 .5 6 1 4 1.5 0 1-.5 1-2.5 1-12.5 2-17.5 .5-13-.5-10-2-4.5-2-.5-1 1-1 5-.5zM1095 759l34 0 0 105-220.5 0 1.5-3 0-2-3.5-11 0-4 1.5-3 2.5-2 3.5-1.5 17-3.5 3.5-2 1.5-2-.5-2-.5-1-3-2-4-1-15-3-4-2-1.5-2 0-2 0-2 3.5-8 .5-8 2-3 3.5-2.5 18-7.5 10-5 8-2.5 25-3 20-4 10-1.5 10-1 20 .5 9-.5 30-6zM1064.5 827l-2 1-.5 1 0 1 2.5 2 5 2 5.5 1 4 0 2.5-1 1.5-2-.5-2-1-1-3.5-2-7-1zM861 789l6 0 5.5 1 4.5 1.5 3 1.5 2.5 3 1 3-.5 4-1.5 3-2 2-3.5 2-4 1.5-5 1.5-8 0-3-.5-3-2-2.5-2.5-1-3 0-5 1-6 1.5-2.5 2-1.5 3-.5zM835 822.5l11 0 2 .5 3 2 2 2 1 2-.5 2-2.5 2.5-4 1.5-13 .5 0-13zM835 848.5l13 0 4 .5 3 1.5 3 2.5 1.5 3 .5 3-1 3-2 2-23 0 0-15.5z"/><path fill="#f3a98a" fill-rule="evenodd" d="M1120 644.5l9 0 0 7-8 0-1.5-.5-1-1-1-2 .5-2zM1092 763l37-.5 0 101.5-16 0-5.5-1-16.5-1.5-7-1.5-9-3-5-.5-8 .5-12 2-8 2-9.5 3-48.5 0 2-2.5 4.5-1.5 1.5-1-1-.5-9 1.5-6 0-6 0-6-1-3.5-2-2-3 0-3 2.5-8 .5-3-1-3-4.5-8-.5-3 .5-3 1.5-3 3.5-3 5-2.5 13.5-4.5 3-2 .5-1-.5-1-1.5-2-3.5-2-3.5-1.5-4-1-8-.5-15 2.5-8 0-6-.5-2-1-1.5-2 0-2 1-1 4.5-3 22.5-9 6.5-2 7-1 19-2 4-1 8.5-4 8.5-2 10-1 18 .5 7 0 6-1 20-4.5zM1015 811l-5.5 2-2.5 3-.5 3 0 2 1.5 2 1.5 1 3.5 1 4 .5 9-1 9-2 2-1 1-1.5-.5-2-1.5-2-2.5-2-2.5-1.5-8-2zM1063.5 823l-7.5 1-4 1-1.5 1 0 1 .5 1 1.5 2 6.5 4 19 7 9 5 7 1.5 10 0 7-1 2-1 1-1.5-.5-2-2.5-2-11-3.5-4-2-3-2.5-4-6-3-2-8-1z"/><path fill="#e58068" fill-rule="evenodd" d="M1121 766l8 0 0 27-8 0-9-1-9 .5-8 .5-5 1.5-1.5 1.5-1 3 3 9-.5 4-1.5 3-2.5 2-6 2-7 .5-7 0-6 0-5-1-4.5-2.5-8.5-7-9-4-7-2-5-1-18 .5-7-1-5-2-5-2.5-3.5-3-1-2 0-1 1-1 2.5-1 18-1.5 5.5-1.5 3-2 2-5 1.5-2 2-1 3-1 6-.5 17-.5 8-.5 6-1 12-3 7-1 8 0 15 1 6 0 5-1zM1120 809.5l9-.5 0 24.5-8 0-4 1-4 0-7-1-4.5-2.5-1-1-1-2 .5-3 2.5-2 8.5-5zM1035 831l6 0 6 2 15 6 3.5 2 2.5 2 1 2 0 1 0 1-2 2-5 2-7.5 2-27.5 6-7 0-4-1-6-5.5-4-2-6-2-15-2-3.5-1.5-1-2-.5-2 2-3 3-1.5 3-1 8-1 20 .5 13-3.5z"/><path fill="#d1504a" fill-rule="evenodd" d="M1121 770l8 0 0 19.5-22 .5-17-.5-6-1-2-1-1-1.5-1-4 0-3 1-2 2-1 6-1.5 22-1.5 4-1zM1035 780l8-1 7 1 4 1.5 4.5 3.5 3.5 2 12 4 2 .5 1 1.5 1 2 1.5 9 0 5-1.5 3-2.5 2-4.5 1.5-5-.5-4-1-3-2-5-5-3-2.5-19-11.5-2-2-1.5-2-.5-2 0-2 2-3 2-1.5zM1121 814l8 0 0 12-11 0-2-.5 0-1.5 2-6 2-3.5zM1039 837l6 0 7 2.5 4.5 2.5 1 2-.5 1-1 1-3 1.5-7 2-8 .5-6-1-2-1.5-1-1.5 0-2 .5-2 3.5-3 3-1.5z"/><path fill="#b82132" fill-rule="evenodd" d="M1119 775l10-.5 0 11.5-8 0-4 1-5 1-9-.5-5.5-.5-3.5-1-2-1-1.5-2 0-2 1-1 5-2z"/><path fill="#b6d5ea" fill-rule="evenodd" d="M986 505l143 0 0 135.5-14-.5-5 .5-3 1.5-4 5-2 2-4 1.5-5 .5-7 0-14-2.5-7.5-.5-12.5-.5-29 .5-8-.5-6-1.5-5.5-2-10-5-12.5-7-15-5.5-4-2.5-1-2 0-2 1.5-4 2.5-4 3-2.5 9-4.5 2.5-2 1.5-2 0-2-1.5-2-3.5-1.5-4-.5-6 0-4 .5-2 1.5-3 5-2 2-4 2-12 3.5-2.5 1.5-4.5 4-5 2.5-5 1-5 0-5-1-3-2-1.5-1.5 0-2 1-2 2.5-2 17-4.5 2-1.5 5-4.5 4-2 16-3 2-1.5 5-5 3-1.5 3-1 8 0 15 1.5 5 .5 16-2.5 7-.5 20 2 9 .5 29-3 23 2.5 3-.5 2.5-1 1.5-1 2-2 1-3-1.5-3-3.5-2-4-1-6 .5-18 2-30-1-9 .5-17 2-8 0-38-3-7-1.5-4.5-1.5-1.5-1-1-2 1-2 1.5-1 3.5-2 20-7.5 5-1.5 5-.5 18 1 8-.5 4.5-1 5-2 3-2 1.5-2-.5-2-1.5-1-7-2-8-.5-23 0-6-.5-4-1-5-3-5-5.5-3-2.5-10-5-3-2-1.5-2-.5-2 1-2 1.5-1 5.5-1.5 18.5-2.5 .5-1 0-3zM1118 657l11-.5 0 99.5-30 0-11 .5-11 1.5-21 4.5-10 2-8 .5-20-.5-12 .5-36 4.5-11-.5-13-3-6-1-24 1-30-1.5-15 .5-7.5 1-4.5 1.5-3 2.5-4 5-4 2.5-2 .5-12 0 0-34.5 13-.5 5-3 7-5.5 4-1.5 27 1.5 6-.5 4-1 2-1 1-2 .5-2-1-3-1.5-2-3-2.5-10.5-4.5-3-2-1.5-2 0-2 .5-2 1.5-3 5-4.5 7-2.5 9-2 24-2 3.5-1 2.5-2 1.5-3 0-3-1-3-2-2-5.5-2.5-15-3-4.5-2.5-1.5-2 .5-2 1.5-2 3-2 5-1 6-.5 25 .5 28-2.5 11-1 35 2.5 49-2 7 .5 11 1.5 6 .5 7-1 10-3.5zM1097 699l-4 1-3 1-2.5 2-1.5 2-.5 2 0 2 2.5 8 .5 4-1 3-4 6-1 3 .5 3 2 2 3 1 5 1 7 0 7-1 3.5-2 1.5-3 0-2-1-7 1-10-1-5-2-6-2-3-2-1.5-3-.5z"/><path fill="#7ab3d8" fill-rule="evenodd" d="M1009 505l120 0 0 88.5-9 0-3.5-3.5-.5-2 0-2 1.5-10-1-6-8-16-2-2-2.5-1.5-4-1.5-6-.5-27-1-5-.5-4-2-5-5-2.5-2-4.5-2-5-1-14-1-20 1-7 0-6-1-5-2-2-2-2.5-4-1.5-4 .5-2 .5-1 2-1 10.5-3 6.5-3 5-3 .5-4zM1044 552l6-1 5 1 10.5 5 13.5 6 2 2-.5 1-3.5 2-4 1-8 1-21 .5-22 1-8 0-11-1-14-2.5-4-1-2-1-.5-1 0-1 1-1 2.5-2 4.5-2 4.5-1 6-1 21-.5zM1019 587l7 0 20 .5 26-1 8.5 1.5 5.5 2.5 1.5 1.5 1 2 0 6 2 8 .5 4-.5 5-2.5 6-.5 3 1 12-.5 3-1 1-2.5 1-6.5 .5-44 1-11-.5-3.5-1-3.5-2-7-5.5-6-3.5-10.5-5-12.5-5-3.5-2-2-3 .5-2 1-2 11-9 7.5-9 4.5-2.5 9.5-3.5zM1120 607l1-.5 8 0 0 32-8 0-3-.5-4-2-1-1-1-2 0-2 1-3 4-5 1-2 0-9zM1120 659l9 0 0 93-18 .5-18 0-8 .5-8 1.5-21 5.5-13 2-34 0-32 2-9-.5-6-1.5-18-7-5-3-2-3-1-8-1.5-3-3.5-2.5-10.5-3.5-4.5-2.5-2.5-3.5-2-6-1-2-7.5-6-2-3 1-3 2-2 2-1.5 6-1.5 8-1 5 .5 5 1 9.5 5.5 5.5 2 9 .5 4-.5 2-.5 2-2.5 .5-4-1-4-3.5-8 .5-8-2-6 0-2 1.5-3 3-2 9.5-3 10.5-2 10-.5 28 .5 38-1.5 12 1 18 3 9 .5 6-.5 5-1.5zM1096.5 694l-7.5 1.5-6.5 2.5-5 4-1.5 2-1 2 0 3 1.5 7 .5 4-1 4-2.5 8 0 4 1.5 2.5 3 2 4 2 4 1 5 1 6 0 12-1.5 6-2.5 2-2 1-2.5 0-10 .5-9-3.5-11-1-8-.5-2-1.5-1.5-3-.5-6-.5zM877 741l13-.5 5 1 4 1 4 2 2.5 2.5 1.5 3 0 2-1.5 2-2.5 1-4 1-6 1-19 0-7-1-5-1-3-1.5-1.5-1.5 0-2 1.5-2 4-3 4-2 5-1z"/><path fill="#4390c5" fill-rule="evenodd" d="M1032 505l81 0 0 5 1 1.5 1 1 5 1 9 0 0 24-9-.5-6.5-4-1.5-2-1.5-3-1-10-.5-2-1-1-4-1.5-11-1-15-.5-6 .5-4 1-5 2.5-10 8.5-3 1.5-4 1-6 .5-18 1-13 1-6.5-.5-2-1-.5-1-.5-1 1.5-2 18-11 12-4 .5-1 0-3zM1036 558l10-1 8 1.5 5.5 2.5 2.5 2 .5 1-.5 1-2 1-5 1-7 .5-25 1-11-1-5-1.5-1.5-1 0-1 1.5-1 3-1zM1027 591l10-.5 24 .5 7 1 4 2 4.5 6 5.5 6.5 1.5 2.5 .5 2 0 2-1.5 3-5 6-1.5 2 0 2 1.5 7-1 3-3.5 2-8 1.5-13 0-11-1.5-6-2-18-10-21-7-5.5-3-1.5-2 0-1 .5-2 2.5-3 5-4 5-2.5 10-4 8-4.5zM1120 626.5l1-.5 8 0 0 10.5-8 0-2.5-1.5-1-2 0-2 .5-2zM1120 662l9-.5 0 22.5-8 0-4 3.5-5 1.5-23 1.5-7 1-4 1.5-4 2.5-10.5 7.5-3 3-.5 2 0 2 4 7 1.5 5 .5 3-1 7 1 4 2 3 7 7 1.5 2 0 1-2.5 2-9 4-11 3-10 1.5-11 .5-26-1.5-24 0-7-1-6-1.5-5-2-5.5-3-3-3-.5-1 .5-2 4.5-6 .5-2-.5-8 .5-2 1-2 4.5-3 13-5 3-2 1.5-2 0-3-4.5-7-.5-3 .5-5 3.5-8 1-3-1-3-5.5-5-1-2 .5-2 2.5-2 6.5-2 9.5-1.5 42-2 12 0 15 1 6 1.5 11 3.5 4 1 6 0 9-1 7-1.5 5-2.5zM1120 698l1-.5 8 0 0 12.5-8 0-1-1-1.5-6z"/><path fill="#2466b3" fill-rule="evenodd" d="M1039 596l9-1 5 .5 4 1 3 1.5 11 7 4 4 1 3-1 2-2 2.5-7 4.5-2.5 2-1 2-.5 5-1 1.5-2 .5-4 0-11-2.5-6.5-2.5-11.5-6-16-5-3-1.5-2-1.5-.5-2 .5-1 2-1.5 4.5-1.5 10.5-2 4-1 3.5-2 5.5-4.5zM1120 666l1-.5 8 0 0 12-9 0-4 4.5-2 1.5-3 1.5-4 .5-7 .5-6-1-3.5-1-2.5-2 0-2 .5-1 2.5-2 6-2 16-3.5 3-1.5zM1028 667l14-1 10 .5 9 1 6 2.5 1.5 2 0 2-6 8-.5 3 .5 5-.5 2-4 3-5 1.5-6 1-6-1-5-2-12.5-8.5-16.5-7-5.5-3-1.5-2 0-1 1-1 2-1 8-2zM1028 721l9-.5 7 0 5 1.5 4 2.5 2 2.5 3.5 9 7 8 1.5 3-.5 2-.5 1-4.5 3-7.5 2.5-8 1.5-9 .5-9.5-.5-27.5-3.5-10-2-7.5-2.5-2.5-2-1.5-2-1-5-1-6 0-3 2-3 2.5-2 8-2.5 9-2 7-.5 14 .5z"/><path fill="#1c5597" fill-rule="evenodd" d="M1039 668l8.5 0 7 1 4 2 1 1 0 2-3.5 4-8 6.5-4 1-5-1-9-3-9-4.5-.5-3 .5-3 1 0 7.5-2zM1001 730l19 1.5 15-1 4 0 3 1 5 2.5 10 8 2.5 3 .5 3-1 1.5-1.5 1.5-4.5 2-7 1.5-8 .5-7-.5-6-1-27-7.5-5-2-3-2-1.5-3-.5-3 1-2 3-2 4-1.5z"/><path fill="#0b3a6e" fill-rule="evenodd" d="M1035 740l6 0 6 1.5 2.5 1.5 2.5 2 .5 2 0 1-1.5 2-2 1-5.5 1-7.5 0-6.5-2-2-1-2-2-.5-2 .5-1 1.5-1.5 2-1z"/></g><line x1="834" x2="1132.8" y1="772.1" y2="772.1" stroke="#8c4cb8" stroke-width="1.8"/><line x1="834" x2="1132.8" y1="680.5" y2="680.5" stroke="#8c4cb8" stroke-width="1.8"/><line x1="834" x2="1132.8" y1="589" y2="589" stroke="#8c4cb8" stroke-width="1.8"/><rect x="834" y="505" width="298.8" height="358.7" fill="none" stroke="#000" stroke-width="3"/><line x1="824.5" x2="834" y1="863.7" y2="863.7" stroke="#000" stroke-width="3.2"/><line x1="824.5" x2="834" y1="840.8" y2="840.8" stroke="#000" stroke-width="3.2"/><line x1="824.5" x2="834" y1="817.9" y2="817.9" stroke="#000" stroke-width="3.2"/><line x1="824.5" x2="834" y1="795" y2="795" stroke="#000" stroke-width="3.2"/><line x1="824.5" x2="834" y1="772.1" y2="772.1" stroke="#000" stroke-width="3.2"/><line x1="824.5" x2="834" y1="749.2" y2="749.2" stroke="#000" stroke-width="3.2"/><line x1="824.5" x2="834" y1="726.3" y2="726.3" stroke="#000" stroke-width="3.2"/><line x1="824.5" x2="834" y1="703.4" y2="703.4" stroke="#000" stroke-width="3.2"/><line x1="824.5" x2="834" y1="680.5" y2="680.5" stroke="#000" stroke-width="3.2"/><line x1="824.5" x2="834" y1="657.6" y2="657.6" stroke="#000" stroke-width="3.2"/><line x1="824.5" x2="834" y1="634.7" y2="634.7" stroke="#000" stroke-width="3.2"/><line x1="824.5" x2="834" y1="611.8" y2="611.8" stroke="#000" stroke-width="3.2"/><line x1="824.5" x2="834" y1="589" y2="589" stroke="#000" stroke-width="3.2"/><line x1="824.5" x2="834" y1="566.1" y2="566.1" stroke="#000" stroke-width="3.2"/><line x1="824.5" x2="834" y1="543.2" y2="543.2" stroke="#000" stroke-width="3.2"/><line x1="824.5" x2="834" y1="520.3" y2="520.3" stroke="#000" stroke-width="3.2"/><line x1="845.9" x2="845.9" y1="863.7" y2="868.2" stroke="#000" stroke-width="2"/><line x1="883.4" x2="883.4" y1="863.7" y2="873.7" stroke="#000" stroke-width="3"/><text x="882.9" y="902.7" text-anchor="middle" class="tx">180</text><line x1="920.9" x2="920.9" y1="863.7" y2="868.2" stroke="#000" stroke-width="2"/><line x1="958.5" x2="958.5" y1="863.7" y2="873.7" stroke="#000" stroke-width="3"/><text x="958" y="902.7" text-anchor="middle" class="tx">150W</text><line x1="996" x2="996" y1="863.7" y2="868.2" stroke="#000" stroke-width="2"/><line x1="1033.6" x2="1033.6" y1="863.7" y2="873.7" stroke="#000" stroke-width="3"/><text x="1033.1" y="902.7" text-anchor="middle" class="tx">120W</text><line x1="1071.1" x2="1071.1" y1="863.7" y2="868.2" stroke="#000" stroke-width="2"/><line x1="1108.6" x2="1108.6" y1="863.7" y2="873.7" stroke="#000" stroke-width="3"/><text x="1108.1" y="902.7" text-anchor="middle" class="tx">90W</text><text x="844.3" y="493.4" class="ti" textLength="225.8" lengthAdjust="spacingAndGlyphs">Thermocline feedback</text><clipPath id="cpb4"><rect x="1173.3" y="505" width="294.9" height="358.7"/></clipPath><rect x="1173.3" y="505" width="298.9" height="358.7" fill="#fff"/><rect x="1173.3" y="505" width="294.9" height="358.7" fill="#f2f5f8"/><g clip-path="url(#cpb4)"><path fill="#fbd3bf" fill-rule="evenodd" d="M1466.5 517l2 0 0 17-2 0-1-1.5-.5-2.5 0-8zM1379.5 549l9-.5 13 1 2 .5 1.5 1 .5 1 .5 2-1.5 2-4 2-15 2.5-6 0-3-1-2-1.5-1.5-2 0-2 .5-2 1-1 2-1zM1434.5 571l9-1 25 0 0 25-11 .5-26-2-6-1-4-1.5-1-2-.5-2 1.5-6 2-4 2-2.5 2-1.5zM1403.5 592l3 0 2 1 1 1 .5 2-1.5 4-6 7-1.5 3 0 2 1.5 7 0 2-1 2-2 2-4 2.5-9 2.5-4 0-3-.5-3-1-2-1.5-1.5-2-.5-1.5 0-1.5 1-2 3-2 9-5 4-3 4-5 2.5-7 2-3 2.5-2zM1388.5 637l4-1 5 .5 16 3.5 4 2 6.5 6 3.5 2.5 6 1.5 7 1 7-.5 8-3 4-3 6-6.5 1-1 2 0 0 49.5-2 0-1.5 .5-2.5 2-1 2 4 4 1 .5 2 0 0 22-12 .5-3-1-2-1-1.5-2-.5-3 0-7 1.5-4 5-7 .5-2-1.5-2-3.5-2-11.5-5-1.5-1 0-1 1-2 8.5-5 3.5-3 1-3-1.5-3-4.5-2.5-5-1-12 1.5-15-1-5 1-7 2.5-2 0-1-1-3.5-6.5-1.5-2-10-6-2.5-2-1.5-2 0-3 1.5-3 2.5-2zM1342.5 663l5 .5 5 1.5 6 3 1 1 .5 1 0 1-4.5 4.5-2.5 1.5-2.5 1-8 0-4-.5-3-1-2.5-1.5-1-2 0-3 .5-2 2-2 2-1.5 3-1zM1398.5 669l1 0 3.5 4 3 2 9.5 4 4 2 1 2-.5 1-1.5 1-10 3.5-9 3.5-13 4-10 4.5-3 .5-5-.5-4.5-1.5-3-2-1-2-.5-2 1.5-2 1.5-1 4-1 12-.5 3-.5 3-2 3-4 2-7 1-2 3-2zM1369.5 718l4-1 4 .5 12 6 8 2.5 1.5 1 .5 2-2.5 5-1.5 4-2 13-1.5 3-2.5 2-5 1-6-.5-2-.5-2.5-2-4.5-7-3-2-5-1-8 1.5-2 0-3-1.5-2-2.5-1.5-3.5 .5-5 1.5-4 2.5-3.5 3-2.5 3-1.5zM1305.5 732l4-.5 4 0 3 .5 3 2 5.5 6 6 4 2.5 2 1 2 0 2-1 3-3 2.5-4 .5-11-1.5-10 .5-3-1-2-1-2-2-1-3-.5-4 .5-4 1-3 2-2.5 2-1.5zM1456.5 743l5-1 5 1 2 0 0 58.5-2 0-1 1-1.5 2.5-.5 2 .5 2 1.5 2 1 .5 2 0 0 52.5-20.5 0 .5-7-1-15 1.5-10-.5-3-1-1.5-2-2-7.5-4.5-5.5-7-3-2-12-3-10-4.5-5-.5-5 1-12 5-2 1.5-1 2.5 .5 3 1 2 2.5 3 6 5 1 2 1 2 0 4-2.5 8 0 3 .5 2 3 5.5 .5 3.5-.5 4-2 3-33.5 0 3-2 2-2 0-2-1.5-3-4-3-9-2.5-3-1-2-1.5-1-2-1-4 0-6 1.5-13 0-4-1-2-1.5-2-4.5-3-2-2-1-3 1.5-3 2.5-2 6.5-3.5 1.5-1.5 3.5-5 2-1.5 2-1 4 0 9 1 10 0 3 1 5 2.5 2 .5 2-.5 4-3.5 3-1 5-.5 10 1 4-.5 4-1.5 7-7 3.5-2 29.5-9.5 1.5-1.5 1.5-2 0-3-.5-2-2.5-3-7-4.5-1.5-1.5-.5-2 .5-2 1.5-2zM1350.5 755l2 0 2 1 3.5 5 .5 2 0 2-.5 1-1.5 1.5-3 .5-3-.5-2.5-1.5-1.5-2-.5-3 .5-3 2-2.5zM1181.5 788.5l3-.5 3 .5 5 1 2.5 2.5 4.5 5 4 2.5 4 .5 8-.5 4 1 2 1 1 1.5 .5 3-.5 2-1 2-2 1-5 1.5-15-.5-26 0 0-22.5 6 0zM1204.5 824l4-.5 4-.5 4 .5 3 1.5 1.5 1 1.5 2 .5 2-.5 2-1 2-1.5 1-4.5 1.5-7 .5-6-1.5-2-1-1.5-1.5-1-2 0-2 2-3z"/><path fill="#f3a98a" fill-rule="evenodd" d="M1381.5 551l5-.5 11 1 3 1 .5 .5 0 1-.5 1-3 1-12 2-5 0-3-1.5-1-1.5 0-1 1.5-2zM1436.5 572l8-1 24 .5 0 21.5-33-1.5-5-.5-4-1.5-2-2.5-1-2 .5-4 1-3 1.5-2 2.5-2 3.5-1.5zM1390.5 615l2-.5 1.5 .5 2.5 2 .5 3-.5 2-1 1.5-5 2.5-6 1-4 0-3.5-2-.5-1 0-1.5 1.5-2.5 4-2zM1393.5 638l6 .5 15 3 3 1.5 6 5.5 3.5 2.5 5.5 1.5 9 1.5 7-.5 8-3 4-2.5 5-6 1-.5 2 0 0 45.5-2 0-5 2-3 0-6-1.5-9-4.5-.5-1 0-1 .5-1 8.5-6 1.5-2 1-2 0-2-1-2-2.5-2-3.5-2-3-.5-3-.5-12 2-14-1-10 1-2 0-2-1-6-6-9-5.5-2-1.5-1.5-2 0-3 2-3 3.5-2zM1340.5 666.5l3-.5 4 1 2.5 2 0 2-1.5 2-2 1-3 .5-3-1-2.5-1.5-1-2 1-2zM1400.5 677l5 1 6 2 2 1 .5 1-.5 1.5-4.5 1.5-8.5 2.5-5 0-1-.5-.5-2 1.5-5 2-2.5zM1460.5 697l2 .5 4 1.5 2 0 0 19.5-7 .5-5-1-3-1.5-1.5-2.5-1-5 1.5-5.5 1.5-2.5 2.5-2.5 2-1zM1371.5 723l4-.5 4 1 10 5 2.5 2.5 1 3-.5 13-1 4.5-3 2.5-5 1.5-5-1-4-2.5-4-7-2-1.5-4-1.5-10-1-2-1-1-1.5-1-1.5 .5-3 1.5-2.5 2-2.5 3-2 4-1.5zM1460.5 743l8 1 0 56.5-2 0-1 .5-2.5 3-.5 3 .5 3 1.5 1.5 2 1 2 0 0 51.5-19.5 0 .5-7-1-14 1.5-11-.5-3-2-3-8-5-2-2-4-5.5-3-2-12.5-3.5-7.5-4-5-1.5-8 0-6 1.5-.5-4 .5-1.5 3.5-5.5 3.5-2.5 5-1 10 1 4-1 3-1.5 7-6.5 4-2.5 27-9 3-1.5 1-1.5 1-2 0-3-.5-2-2.5-3-7.5-5-1.5-3 .5-2 2-2 3.5-1.5zM1355.5 813l10 1.5 7-1.5 4 .5 2 1 5.5 7.5 7.5 6 1.5 3-.5 4-5 10.5-2 3-2 1-2 .5-10 0-17-3-3-1-2.5-2-1.5-2.5-1-3.5 1-8 3.5-14 1.5-2z"/><path fill="#e58068" fill-rule="evenodd" d="M1437.5 573l8-.5 23 0 0 19-13-1.5-18-.5-5-.5-3-1.5-2-1.5-1-2-.5-3 1-3 3.5-3zM1391.5 640l6-.5 16 2.5 4 2 5 5 4 2.5 5 2 11 2.5 5-.5 12-4.5 3-2 4-4.5 2 0 0 41-2 0-6 1.5-3 0-6-2-4.5-3 0-1 .5-1 7.5-7 1-2 .5-2 0-2-2-2.5-3-2.5-4-1.5-5-1-9 2-5 1-12-1-10 0-3-1-7-6-8.5-4.5-3-3 0-2 .5-2 2.5-2zM1459.5 699.5l3 0 4 1.5 2 0 0 16-6 .5-3-.5-3.5-1-2-2-.5-3 .5-6 2.5-3.5zM1365.5 729l5-.5 3.5 .5 2 1 3.5 3.5 7 2 2 1.5 1.5 3 1 3-.5 5-1.5 3-1.5 1.5-3 1-3 0-2.5-.5-2-1-1.5-2-3-6.5-2-2.5-3-1-7-1.5-3-1.5-1-2 2-3 3-2zM1459.5 744l3 0 4 1 2 0 0 54.5-2 0-1 .5-2 2-2 3-.5 3 1 3 1.5 1.5 2 1 3 0 0 50.5-18.5 0 .5-7-1-14 1.5-11-.5-3-1.5-3-2.5-2-7-4.5-5.5-6.5-2.5-2.5-12.5-3.5-9.5-5-10-2.5-2.5-1.5 0-2 2-3 3.5-1.5 3-.5 9 1 4-1 3.5-2 6.5-6.5 4-2.5 27-9 3-1.5 1.5-1.5 .5-2 0-3-.5-3-2-3-7.5-5-1-1.5-.5-1.5 .5-1.5 1-1.5 2-1zM1371.5 818.5l3-.5 3 1 10.5 8 2.5 2.5 .5 2.5-.5 3-5 7.5-2 2-2 1-4 1-4-.5-7-2.5-10 .5-2-.5-2-1-1.5-1.5-.5-2-.5-4 2-8 2.5-4.5 1-1 2-1 8 0z"/><path fill="#d1504a" fill-rule="evenodd" d="M1438.5 574l7-.5 23 .5 0 16-12-2-18 0-4-1-3-1-1.5-1-1-2-.5-3 1-1.5 1-1.5 2-1zM1390.5 642l3-1 3 0 17 2 3.5 2 7.5 6.5 4 1.5 8 3 1.5 1 0 1-3 2-6.5 1.5-20-1.5-3-.5-3-1.5-5-4.5-7-3.5-2.5-2-.5-1.5-.5-1.5 1.5-2zM1459.5 654l3-.5 1 .5 2 6 1 1 2 0 0 23.5-7 .5-3 0-5.5-2-1.5-2 .5-2 5.5-6 1-3 .5-2-.5-2-1.5-2-6.5-5-.5-1 .5-1 2-1zM1460.5 701.5l2 0 4 1 2 0 0 13-5 .5-3 0-2.5-1-2-2-1-3 1-4 1.5-2.5zM1381.5 740l3 0 1.5 1 1.5 1 1 2 0 3-.5 2-1.5 1.5-2 1-3 0-2-.5-2-1.5-1.5-2.5 0-3 .5-2 2-1.5zM1458.5 745l4-.5 4 1.5 2 0 0 52-3 .5-3 2.5-2 3-1 4 1 4 1.5 2 2.5 .5 4 0 0 49.5-17.5 0 .5-7-1-14 1.5-12-.5-3.5-1.5-2.5-1.5-1.5-8-4-2-2.5-3.5-5-2.5-2-12.5-4-8.5-5.5-9-2.5-1.5-1 0-1 1-2 2.5-1 10 1 5-1 4-2.5 6-6.5 4-2.5 29-9.5 2-1.5 .5-1.5 .5-3-.5-4-.5-3-2-2.5-6.5-4.5-1.5-2 0-1.5 .5-1.5zM1372.5 822.5l3-.5 3 1 6.5 4 2.5 2 1 2 0 3-1.5 2-2.5 3.5-4 3-3 .5-4-1-6-4-2-.5-2 0-5 1-2-.5-1-1.5 0-2.5 1-2 2-3 3-2z"/><path fill="#b82132" fill-rule="evenodd" d="M1440.5 575l6-.5 14 .5 8 0 0 13-2 0-5-1.5-4-.5-17 0-6-1.5-2-1.5-1-1 0-2 .5-1 2.5-2.5zM1393.5 643l16 .5 4 .5 3 1.5 7 6.5 9.5 4 1 1 .5 1-1 1-2 1-4 .5-17-1.5-4-1-2-1-6-4.5-6.5-3.5-1.5-1.5-1-1.5 .5-1 1.5-1.5zM1463.5 664l5 .5 0 18.5-6 0-3-.5-2-.5-1.5-1 0-1 .5-2 3.5-6 2.5-7zM1458.5 746l4-.5 4 1.5 2 0 0 15.5-2 0-2.5-5.5-1.5-2-5-3-1.5-2 0-2zM1459.5 775l4 0 3 1.5 2 0 0 20.5-2 0-2 1-2 1-2 2-2 4-.5 5 .5 4 2 2 2 .5 6-.5 0 48-16.5 0 0-6-.5-15 1.5-13-1-5-2-2-7-3-2.5-2-4-6.5-2-2-3-1.5-10-3-4-3-1.5-2 0-1 .5-2 8-4.5 6.5-7.5 3-2 4.5-2zM1374.5 827l2-.5 3 .5 3 1.5 2 1.5 .5 1 0 2-2 3-2.5 2-2 .5-3-.5-2.5-2-2-3-.5-2 1-2z"/><path fill="#7e0a23" fill-rule="evenodd" d="M1439.5 577l7-1 14 1 8-.5 0 9.5-2 0-4-1.5-4-.5-14 0-6-.5-2.5-1.5-1-2 1.5-2zM1396.5 645l13 0 4 .5 3 1.5 6 5.5 8 4.5 .5 1-2 1-3.5 .5-13-1.5-4-1-3-1.5-5-4.5-6.5-4 0-1zM1465.5 668l3-.5 0 14-5.5-.5-2-1-.5-1 0-2 1-3 2-4zM1459.5 747l3-.5 4 2 2 0 0 10.5-2 0-2.5-4-6-4-1-2 .5-1zM1453.5 780l5-.5 5 1.5 5 .5 0 14.5-3 0-3 .5-4 2.5-2.5 4-.5 7 .5 7 1.5 2 2 .5 2-.5 5-2 2 0 0 47-15.5 0 0-21 1-15 0-4-.5-1.5-2-1.5-6-1.5-3-1.5-2-2-3-7-1-1.5-2-1-7-1.5-3.5-1-2.5-2-.5-2 .5-2 6.5-5 5.5-6.5 3-2.5 5.5-2z"/><path fill="#b6d5ea" fill-rule="evenodd" d="M1387.5 505l24.5 0 0 8 1 6 2 5 2.5 1 2-.5 1.5-1.5 1.5-2.5 .5-2.5 .5-5-.5-2-1.5-2 0-4 47 0 0 6.5-2 0-1 1-1 2.5-1 6-.5 8 .5 5 1.5 3 1.5 1.5 2 0 0 9-2 0-1 1-1 3.5 0 2 1 2 1 .5 2 0 0 12.5-29 .5-6 .5-5.5 1-2.5 1-2.5 2-1.5 2-3.5 7-2.5 3-3 1-7-.5-4 .5-17 8-.5 1 0 1 1.5 3 .5 3-.5 3-1.5 3-2.5 3-8 4-2.5 2-2 3-.5 3 1.5 3 3.5 2.5 9.5 4.5 .5 1-1 1-5 7-.5 3 1 2 3.5 3 11 6.5 1.5 2.5 .5 3-1 2-1 1-7.5 4-1.5 2-.5 2 0 5-.5 2-1 1-2 1.5-3 1-7 0-5-.5-2-1-1.5-1-.5-1 1.5-3 7.5-5 2-2 0-1-1-2-3-2-3-1.5-13-4-7-.5-5 0-4 1-10 5-2 0-7-2-11 .5-3-.5-2-1.5-1.5-1.5-1-3 .5-3 1.5-2 2.5-1.5 3-.5 5-.5 15 1 11-2 4 0 12 1.5 4-1 3-2 1-1.5 0-1.5-2.5-3-8.5-7-10.5-6-2-2-.5-3 1-3 5-5 2-3 2.5-9 1.5-3 6-5.5 5.5-6.5 2.5-1.5 5-2.5 2-2 .5-2 0-2-1.5-3-2-2-2 0-2 0-3.5 2-5 5-3.5 2.5-7 2-7 1-9-.5-11-2-9 .5-4-.5-2.5-1-1.5-1-1.5-2-.5-3 1-3 3-2.5 4-.5 7 .5 3 0 3-1.5 2.5-2 1.5-2 .5-2-1-8 0-3 1.5-2 3-2 4-.5 2 .5 2 1 1.5 3 2 7 2.5 2 3-.5 4-1 5.5-2.5 3-2 3-3 1.5-3 1-4-.5-4-.5-2-1-1-8-2-2-1-1.5-2-1-3 0-5 1-4 2-4 2.5-3 3-2.5 2.5-1.5 3.5-.5 5-.5 6 0 14 2.5 1-.5 .5-1-1-3 0-3zM1377 547l-3.5 1-2.5 1-1.5 2-.5 2 .5 3 2 3 3 2 3 1.5 7 0 19-3.5 3.5-2 1.5-2 .5-2 0-2-.5-2-1-1-2-.5-15-1zM1174.5 511l13-.5 5 .5 3 1 1.5 1 1 2 0 3-.5 3-1.5 2-1.5 1.5-5 2-5 .5-5-1-6 0 0-15zM1174.5 560.5l26 .5 12-1 5 .5 3.5 2.5 2 3 1 5-.5 6-1 2-2 2.5-2 1-3 1-4 0-12-.5-26 0 0-22.5zM1418.5 596.5l4-.5 17 .5 17 2 4 0 6-2 2 0 0 40-2 0-1 .5-8 9-4 3-8 2.5-7 .5-6-1-4-1-3.5-2-5.5-6-3-2-12.5-4-7-3 0-1 .5-1 7-6 2-3 .5-3-1-7 1.5-4 7-8.5 2-2zM1182.5 617l5 0 4.5 1 3.5 2 2 3 1 5-.5 6-2.5 4-3 2-3 1-4 .5-3-.5-3-1-6 0 0-22 6 0zM1436.5 664l6 0 4 1 3 2 1 2 0 1-1.5 2-2.5 2.5-16 8-4-1-16-6.5-3-2-2-3 .5-2 1-1 3.5-1.5 3-1 4-.5 12 .5zM1428.5 686l4-.5 9 1.5 6 2 4 3 .5 1 0 2-3.5 8-1 3-.5 14 .5 1 3 .5 18-1 0 22-7-1-5 .5-4.5 2-2.5 3 0 3 1 2 2 2 6.5 4 2.5 3 0 3-1 2-1.5 1-3.5 1.5-9 2.5-18 6-4 2.5-5.5 5.5-3.5 2-6 .5-11-2-3-1.5-.5-1-.5-2 .5-2 1.5-3 4.5-6 .5-1-1-1.5-3-.5-8 1.5-8 .5-6 0-5-1.5-4-2.5-7-9-2-3-.5-3 .5-1 2-1.5 2-.5 3 0 3 1.5 5 7.5 4 2.5 4 1 5 0 4-1 3-1 1-1.5 1-3 2-11 2-5 2.5-4 6-6 .5-2-1-1-3-1-11-2-6-3-3.5-3-2.5-3-.5-3 1-3 3-4 5.5-3.5 12-3.5 11-5.5zM1466.5 690l2 0 0 5.5-2 0-1.5-1.5 0-2zM1466.5 802.5l2 0 0 7.5-2 0-1.5-2 0-3zM1401.5 806l5 0 10 4 9 1.5 4 1.5 3 2.5 5 6 7 4.5 2 2 1 2 .5 3-1.5 9 1 15-.5 7-50 0 1.5-4 1-5-.5-4-3-8 .5-8-.5-4-2-4-7.5-7-1-2-.5-2 1.5-3 2-1.5 9-4.5zM1333.5 823l3-.5 1 1 .5 1.5 .5 14-.5 3-1 2-1.5 1-7 2-3 1.5-2.5 2.5-3.5 7-2 2-4 1-5 0-4-.5-3.5-1.5-2-3-1-6-.5-18 .5-3 1.5-3 3-2 4-1 5 0 14 1 4 0z"/><path fill="#7ab3d8" fill-rule="evenodd" d="M1395.5 505l11.5 0 0 4 2 5 2 17-.5 6-1.5 5-2.5 2-4 1-12-.5-14 0-3.5-.5-1.5-1-1-1-.5-2 .5-7-.5-3-1-2-1.5-1.5-6-2-2-1.5-.5-3 1-3 2-2 1.5-1 5-1 5 1 10 4.5 3 .5 3-.5 2.5-1.5 2-3 1-3 0-6zM1426.5 505l31.5 0 0 3 .5 1 2.5 2 1 3-1 18 .5 10-.5 6 0 3 1.5 4 3 4 1 1 2 0 0 7-10 1-21 0-11 1.5-3 1-2.5 1.5-4.5 8-2 1.5-3 1-9 .5-9 3.5-4 .5-7-.5-5-1.5-2.5-3-4-9-1.5-2-3-1.5-3 0-4 1.5-12.5 8-6.5 2.5-6 .5-5-.5-4-1.5-2-2-.5-2 1.5-2 4-3 3-1 9-.5 3-.5 9-6 10-5 3 0 5 4.5 2 1 3 1 3 .5 7-1 17-3 3-.5 2.5-1.5 2.5-3 3-7 5-4.5 1.5-2.5 1.5-10 4-8 1.5-5 .5-5-1-5zM1365.5 593.5l3 0 2 1.5 3 5 4.5 5 .5 2-.5 2-1.5 2-7 3-3 2-1.5 2-1.5 3 0 3 1.5 3 3 3 5.5 4 1.5 2 0 1-1 2-1.5 1-2 1-4-1-5-3-7-6.5-6.5-4.5-1.5-3 .5-3 6-14 9.5-10zM1429.5 599l7 0 6 0 5 1.5 8 2.5 3 .5 2-.5 5-3.5 3-.5 0 16.5-2 0-1 .5-1 3 0 4 1 7 0 2-1 2-8.5 11-2.5 2-3.5 2-4.5 1.5-5 .5-6 0-5-1.5-4.5-2.5-6.5-7-3-1.5-9-3.5-2.5-2 0-2 .5-1 5-6 1-2 .5-3-1-7 .5-2 2-3 3.5-4 3.5-2.5 4-1zM1369.5 649.5l3 0 3 .5 13.5 7 2 2-.5 4-1 1.5-3 1-4 1-3 0-5-1.5-10-5-3-2 0-2 2-3zM1435.5 665l5 0 4 .5 3 2 .5 1.5 0 1-1 2-3.5 2.5-7 3-5 2-3 0-3-.5-10-3.5-5-2.5-1-1.5-1-1.5 1-2 1-1 5-2 13 .5zM1433.5 689l5-.5 4 .5 4.5 2 2 2 0 3-3.5 8-1.5 11-2.5 2.5-3 .5-2-.5-2-1-4-4.5-2-1-3-.5-2 1-2.5 1.5-1.5 3-1 3 1.5 1 11.5 1 2 1.5 4 4 4 1.5 4-1 6-3 3-.5 6-1 8-.5 0 19.5-7-1-6 1-4 2-2 1.5-1 2-.5 3 2 3 8.5 5.5 1.5 2.5 0 3-1.5 2-4 2-10 2.5-18 5.5-3.5 2-4.5 5-3 2-5 1-7-1.5-3.5-1.5-.5-1 0-2 1.5-3 6-5 1-3-1-2-2-3-6-4-1.5-2-.5-5 1-9 1.5-4.5 2-3.5 3-3 9-7 2.5-3 0-2-2.5-.5-15-1.5-6-1.5-3-2-2.5-2.5-1-3 0-3 1.5-3 3-2 3-1.5 10-3.5 10-5.5 5-1 9 0zM1466.5 804.5l2 0 0 4-2 0-.5-.5-.5-2zM1400.5 808l3-.5 2 0 10 3.5 9 1.5 4 1 3 2 5 6.5 8.5 6 1.5 2 .5 3-1.5 10 1.5 15-1.5 6-46 0 2.5-6 .5-6-1-4-2.5-7-1.5-10-1.5-4-7-7-1.5-3 .5-2 1.5-2z"/><path fill="#4390c5" fill-rule="evenodd" d="M1432.5 505l16.5 0 0 4 7 3 2.5 2.5 1 4.5-.5 7-1 8-2 8 0 3 1 4 1.5 4 6.5 10 0 1-.5 1-2 1-5 .5-20 .5-16 1-3 1.5-4 7.5-3 1.5-9 1-9 3.5-4 .5-5 0-4-1.5-2.5-2-2-4-.5-4 0-2 .5-1 2-1 2.5-.5 16-3.5 11-2 2.5-1 2.5-2 3.5-7 6-6 1.5-3 2-9 5.5-14 1-7-.5-8zM1401.5 512l2 0 1 1 1 2 .5 4 0 17-.5 3-1 1.5-3 1.5-4 0-16 0-3-1-2-1-1-2 0-2 1-7 1-3 1-1 2-1 9-1 4-1.5 2.5-2.5 3.5-5zM1428.5 602l10-.5 4 .5 4 1.5 4.5 2.5 3.5 3 2.5 3 2 4 1.5 4 1 6 0 3-.5 3-5.5 11-3 3-3.5 2-4.5 1.5-5 .5-5 0-4.5-1-4.5-3-6-6.5-9-4.5-2-2-.5-1 .5-2 5-6 1-2 .5-3-1-6 0-2 1.5-2.5 2-2 3-2.5 3-1zM1466.5 603l2 0 0 5-2 0-.5-1-.5-2zM1372.5 655l4-.5 5.5 1.5 3.5 2 1.5 2-.5 1-1 1-3 1-3-.5-3-1-3.5-1.5-2-2-.5-1 .5-1zM1419.5 666l21 0 4 1.5 1 1.5 0 1-.5 1-2 2-5.5 3-6 1.5-5 0-10-3-3-1.5-2-2 0-2 2-1.5 3-1.5zM1436.5 691l4-.5 3 1 2 1.5 .5 2-.5 3-2.5 6-1.5 5.5-1 2-1 .5-2-.5-7-4.5-5-1-3 0-3 1-2 1.5-5 6-2 1-3 1-5 0-5-.5-4-2-2-2.5-.5-4.5 2.5-2.5 3-1.5 10-3 8-5.5 4-1 9 1zM1458.5 724l10-1 0 17.5-8-.5-7 1-2 1-2.5 2-1.5 2-.5 3 .5 3 2 2 8.5 6 1 2-.5 2.5-2 1.5-3 1-11 2.5-20 5.5-3 2-3.5 5-2.5 1.5-6 0-3-1.5-.5-1 .5-2 2-2 4.5-3 1-1 .5-2-1-3-2-4-3-3-5.5-4-1.5-3-1-4 1-5.5 1.5-4.5 2.5-3 7-5.5 9-5.5 4-1.5 3 0 3 .5 7 4 5 1 4-.5 8-4zM1400.5 810l3-.5 2 0 9 2.5 9 1 4 1 3 2 5.5 7 6.5 4 2 1.5 1 2 .5 2.5-1.5 10 1.5 15-1.5 6-42 0 1.5-4 1-5 0-5-1-4-3-8-2-8-1.5-3-2-3-4.5-4-1-2 0-1 .5-1.5 1.5-1.5z"/><path fill="#2466b3" fill-rule="evenodd" d="M1446.5 514l4 .5 3 1.5 1.5 2 1 2 .5 5-.5 5-1.5 4-3 7-.5 4 1 3 1.5 3 6 9 1 2-.5 1-1.5 1.5-4 .5-18 0-9-1-6.5-2-2.5-2-.5-2 0-2 1.5-2 4-3 1.5-2 3.5-12 7-14 2-4 3-3 3-1.5zM1394.5 527l3-.5 1 .5 1 1 1 3 0 3-.5 2-.5 1-3 1-7 .5-4.5-.5-2.5-1.5-1-1.5 .5-2 2-3 3.5-1.5zM1401.5 565l6 0 3 1 1 2 .5 2-.5 2-2 2-20 6-5-.5-2-1-1.5-1.5-1-2 0-2 .5-1 2-1.5 13.5-4.5zM1429.5 605l5-1 4 .5 3 .5 4 1.5 2.5 2.5 3 3 5 9 1 4 0 4-2.5 11-2 3-1.5 2-4.5 3-4.5 1-4.5 .5-4-.5-4-1-3.5-2-5.5-7.5-7.5-4.5-1.5-2 0-1 1-2 5.5-5 1-2 0-3-.5-6 1-3 1.5-2 2.5-1.5zM1416.5 667.5l4-.5 18 0 3.5 1 1 1 0 1-1.5 2-4 2-5 2-5 0-6-1-6-3-1.5-2 .5-1zM1460.5 725l8-.5 0 15-9-.5-7 1.5-4.5 2.5-1.5 2-1 3 .5 3 1.5 3 2.5 2 5.5 3 1.5 2 0 2-2 2-3.5 1-10 2-12 3-5 .5-4-.5-3-1.5-7-8.5-7-5.5-2-2.5-1-3 0-3 1-4 1.5-3 4.5-4 9-5.5 6-2.5 4-.5 3 .5 7 3.5 3 .5 3 0 4-1 9-4.5zM1402.5 812l3 0 9 1.5 9 .5 4 1 3 2.5 5 6 8 5.5 1 2 0 2-1.5 10 2 14-.5 4-1 3-38.5 0 1.5-5 1-5 0-5-.5-4-1-3-3.5-7-3.5-9-6-8 .5-1.5 1-1.5 4-2z"/><path fill="#1c5597" fill-rule="evenodd" d="M1445.5 522l3-.5 1.5 .5 1.5 1.5 .5 2.5-.5 5-5 9-1 5 .5 3 1 2 6.5 8 0 3 0 .5-1 .5-4 1-5 0-5-.5-3-1.5-1-.5-1-1.5 1-4 0-2-3-6-.5-3 .5-2.5 1-3 6-10 3-4zM1432.5 608l4-.5 3 .5 2 1 2.5 2 1.5 2 1.5 3 2 8 2.5 13-.5 4-1 2-2 2-3 2-3.5 1-7 .5-3-.5-3-1.5-2.5-2.5-4-6-4.5-4-1.5-2 .5-2 5.5-4 2-2 .5-3-1-6 .5-3 3.5-2.5zM1419.5 669l4-.5 11 0 4 .5 .5 1 0 1-1.5 1-2 1-4 1-4 .5-4-1-4-1.5-1.5-1 0-1zM1461.5 726l7-.5 0 13-10-.5-7 1-3 2-2 2-1.5 2-1 3 0 3 1.5 3 2 2 5.5 3 2 2 .5 1-.5 1-1.5 1-4 1-10 1-10 2-6 0-3-1-2-1.5-6-6.5-7-5-2.5-3-.5-2 0-3 1-2.5 1.5-2.5 4.5-4 7-4 6-2 4-.5 10 3 4 .5 4 0 4-1.5 9-5.5zM1418.5 815l6 .5 4 1.5 2 2 3.5 5 7.5 4.5 1.5 2.5 .5 4-1.5 8 1.5 11 0 4-.5 3-1 3-33.5 0 1-5 .5-5 0-5-.5-5-1.5-4-4.5-8-2.5-7-3-6 0-1 1.5-1.5 4-1z"/><path fill="#0b3a6e" fill-rule="evenodd" d="M1429.5 632l8-.5 3 .5 3 1 3 2.5 1 2.5 .5 3-1 2-2 2-1.5 1-4 1.5-6 0-4.5-1.5-1.5-2-1.5-2-2-7 .5-1 1-1zM1452.5 733l1-1 .5 1 0 3-.5 .5-3 0-2 1-2 2-3 4.5-1.5 5 1 4 1.5 2.5 7 5.5 0 1-1 1-3 .5-9-.5-10 1.5-4-.5-2-1-3-2-4-5.5-8-4-2.5-2.5 .5-3.5 2-3.5 4-3.5 5-2.5 4-1 4-.5 11 1.5 12 .5 2-1zM1415.5 817l6-1 5 1 2 2 3 5 2 2 7 4 .5 2 0 5-1.5 6 2.5 10 .5 4-.5 4-2 3-27.5 0 1-10-.5-13-1.5-4-4-4.5-2-2.5-1-3-.5-3 .5-2 2-2 4.5-2z"/></g><line x1="1173.3" x2="1472.2" y1="772.1" y2="772.1" stroke="#8c4cb8" stroke-width="1.8"/><line x1="1173.3" x2="1472.2" y1="680.5" y2="680.5" stroke="#8c4cb8" stroke-width="1.8"/><line x1="1173.3" x2="1472.2" y1="589" y2="589" stroke="#8c4cb8" stroke-width="1.8"/><rect x="1173.3" y="505" width="298.9" height="358.7" fill="none" stroke="#000" stroke-width="3"/><line x1="1163.8" x2="1173.3" y1="863.7" y2="863.7" stroke="#000" stroke-width="3.2"/><line x1="1163.8" x2="1173.3" y1="840.8" y2="840.8" stroke="#000" stroke-width="3.2"/><line x1="1163.8" x2="1173.3" y1="817.9" y2="817.9" stroke="#000" stroke-width="3.2"/><line x1="1163.8" x2="1173.3" y1="795" y2="795" stroke="#000" stroke-width="3.2"/><line x1="1163.8" x2="1173.3" y1="772.1" y2="772.1" stroke="#000" stroke-width="3.2"/><line x1="1163.8" x2="1173.3" y1="749.2" y2="749.2" stroke="#000" stroke-width="3.2"/><line x1="1163.8" x2="1173.3" y1="726.3" y2="726.3" stroke="#000" stroke-width="3.2"/><line x1="1163.8" x2="1173.3" y1="703.4" y2="703.4" stroke="#000" stroke-width="3.2"/><line x1="1163.8" x2="1173.3" y1="680.5" y2="680.5" stroke="#000" stroke-width="3.2"/><line x1="1163.8" x2="1173.3" y1="657.6" y2="657.6" stroke="#000" stroke-width="3.2"/><line x1="1163.8" x2="1173.3" y1="634.7" y2="634.7" stroke="#000" stroke-width="3.2"/><line x1="1163.8" x2="1173.3" y1="611.8" y2="611.8" stroke="#000" stroke-width="3.2"/><line x1="1163.8" x2="1173.3" y1="589" y2="589" stroke="#000" stroke-width="3.2"/><line x1="1163.8" x2="1173.3" y1="566.1" y2="566.1" stroke="#000" stroke-width="3.2"/><line x1="1163.8" x2="1173.3" y1="543.2" y2="543.2" stroke="#000" stroke-width="3.2"/><line x1="1163.8" x2="1173.3" y1="520.3" y2="520.3" stroke="#000" stroke-width="3.2"/><line x1="1185.2" x2="1185.2" y1="863.7" y2="868.2" stroke="#000" stroke-width="2"/><line x1="1222.7" x2="1222.7" y1="863.7" y2="873.7" stroke="#000" stroke-width="3"/><text x="1222.2" y="902.7" text-anchor="middle" class="tx">180</text><line x1="1260.2" x2="1260.2" y1="863.7" y2="868.2" stroke="#000" stroke-width="2"/><line x1="1297.8" x2="1297.8" y1="863.7" y2="873.7" stroke="#000" stroke-width="3"/><text x="1297.3" y="902.7" text-anchor="middle" class="tx">150W</text><line x1="1335.3" x2="1335.3" y1="863.7" y2="868.2" stroke="#000" stroke-width="2"/><line x1="1372.9" x2="1372.9" y1="863.7" y2="873.7" stroke="#000" stroke-width="3"/><text x="1372.4" y="902.7" text-anchor="middle" class="tx">120W</text><line x1="1410.4" x2="1410.4" y1="863.7" y2="868.2" stroke="#000" stroke-width="2"/><line x1="1447.9" x2="1447.9" y1="863.7" y2="873.7" stroke="#000" stroke-width="3"/><text x="1447.4" y="902.7" text-anchor="middle" class="tx">90W</text><text x="1183.5" y="489.1" class="ti" textLength="198.6" lengthAdjust="spacingAndGlyphs">Upwelling feedback</text><clipPath id="cpb5"><rect x="1510.4" y="504.9" width="295" height="358.7"/></clipPath><rect x="1510.4" y="504.9" width="299" height="358.7" fill="#fff"/><rect x="1510.4" y="504.9" width="295" height="358.7" fill="#f2f5f8"/><g clip-path="url(#cpb5)"><path fill="#fbd3bf" fill-rule="evenodd" d="M1793.5 505l12 0 0 32.5-8 0-1-1-1-1.5-1-6 0-15-2-6 0-3zM1664.5 537.5l4-.5 5 1 5 2 5.5 3 3.5 3 1.5 2 0 2-1 3-2 2-3 2-3.5 1-4 .5-4 .5-5-1-4-1-3-1.5-2-1.5-1.5-2-.5-3 .5-3 1.5-3 2-2.5 2-1.5zM1713.5 542l8-1 7.5 1 4 2 1 1 0 2-.5 1-2 1.5-5 1.5-7 .5-7-1.5-5.5-2-1-2 1.5-2zM1741.5 568l7 0 15 1.5 17 2.5 4 1 3 2 1.5 2 0 2-1 2-2.5 1-4 1-6 1-19-.5-8-1-8-1-5-1.5-4.5-2-2.5-2-1-2 1-2 2.5-2 4.5-1.5zM1646.5 571l12-.5 17 1 9 1.5 2 1 .5 1 0 1-2.5 2-5 2-7.5 2-13.5 1.5-11 .5-4-1-4-1-3-2-1-2 0-2 3-2.5 3-1.5zM1584.5 583l8-1 10 1 7 2 1.5 1 .5 2-.5 1-2.5 2-6 3-5 1-4 0-6-2-3.5-2-2.5-2-1-2 0-1.5 1.5-1.5zM1797.5 597l8 0 0 41-8 0-4-3-.5-2 2-9 .5-5-.5-4-2.5-7-.5-3 1.5-4 3-3.5zM1733.5 642l15 0 6 1 5 2 3 2 1 2 1 2-.5 2-1 1-1.5 .5-4 1-7 .5-22-.5-26-1.5-4.5-1-.5-.5 0-1 1-.5 22-7 6-1.5zM1537.5 758l16-1 43 .5 28 .5 40-.5 29 1 26-.5 11 1.5 14 4.5 5.5 1 8.5 .5 13 0 4 1 2 1 7 9 2 4.5 3 10 6 8 .5 3-2 8 0 5 2 13-.5 6-2 5-4 7.5-3 3.5-3 2-4 1.5-5 1-22 1.5-5 1 0 3 14.5 4-251.5 0 0-17.5 12 0 5 1.5 6 .5 11-.5 6-.5 5-1.5 2.5-1 1.5-2 0-1-1-2-7.5-5-9-4-14-5-5.5-3-12 0 0-44.5 12 0 11-3.5 4-2 1-1 0-2-6-5-2-3 1-2 1-1z"/><path fill="#f3a98a" fill-rule="evenodd" d="M1746.5 572l5-.5 7-.5 15 1.5 5 1 4 1.5 1.5 1 1 2-.5 1-2 1.5-7.5 1.5-11.5 0-11-1-8-2-3.5-2-.5-1 0-1 1-1 1.5-1zM1733.5 645l8-1 8 .5 5 2 1 1.5 0 1 0 1-1.5 1-4.5 1.5-8 0-8.5-.5-3.5-1-2-1-.5-1 0-1 1-1 1.5-1zM1700.5 763l13-.5 9 1 18.5 5.5 21.5 3.5 7 1.5 7 2.5 4 3.5 1.5 3 .5 3-.5 3-1.5 5 0 2 1 2 6 4.5 2 3 4 20.5 .5 4-.5 3-1.5 3-4.5 7-5 4-6 2.5-6 1-7 0-8 0-7-1-4-1-4-1.5-8.5-6-4-2-6.5-1.5-8 0-3.5 .5-2 1-1 1-1 2 .5 3 .5 3 4.5 8 0 1-1 1-5 1-20 1.5-11 .5-7-.5-6-1.5-2-2 0-3 4-8 0-2-1.5-2-4.5-3-9-4-5-1-5 0-16 1-23-1-18 1.5-8-.5-8-2-16-7.5-17-5.5-4-2-6-5-12 0 0-24.5 12 0 5.5-4.5 3.5-1.5 20-5.5 4.5-3 3-7 3.5-1.5 10-1 21 1 15-2 12-.5 11 0 19 1.5 22-1z"/><path fill="#e58068" fill-rule="evenodd" d="M1759.5 574l8 0 7 1 2.5 1 1.5 1-.5 1-2.5 1.5-5 .5-6.5 0-7-1-3-1-1.5-1 0-1 2-1zM1616.5 768.5l5-.5 5 .5 4 .5 3.5 2 1 1 .5 2-3.5 7-.5 3 1 1.5 2 1.5 3 1 4 1 7-1 5-2 3-3 3-8 2-2.5 2.5-1.5 3-1 7.5-1.5 9 0 37 1 37 5.5 11 3 4 2 3 3 .5 3-1.5 2.5-3 2.5-5 2-16 5-3 2 0 1 2 1.5 3 .5 16 .5 7 1 5 1 3 2 2 1.5 1.5 3 3.5 9.5 1.5 6.5-1 4-1 3-2.5 3-6 5-7 3-9 1-9-.5-8-2-4-2-7-5.5-3-1.5-16-3.5-4-1.5-3-2.5-3-4-2-1-2-.5-7 .5-7 2-3 2-5 5-3 2-4 1-6-.5-5-1.5-4.5-2-2.5-2-2-3 0-2 .5-2 6-7 1.5-3 0-3-1.5-2-3.5-2-7-2.5-8-1.5-8-1-7 0-6 1-4 1-4 2-2 2-.5 2 .5 11-1 2-2.5 2-4.5 1-6 .5-6-.5-4-.5-3-1.5-1-1.5-1-2.5-.5-4 0-6 2-11 0-9 1-4 1.5-2 3-2 10-4 10-5z"/><path fill="#d1504a" fill-rule="evenodd" d="M1709.5 774l14-.5 15 2 19 3 4.5 1.5 4 2 1 1 .5 2-1.5 2-2.5 1.5-9 3-23 4-3 1.5-1 1 0 2 6 6 2 1.5 3 1 7 .5 24-1 6 1 5 1.5 2 1.5 2 3 4 9 .5 3 0 3-1 2-1.5 2.5-3 3-3 2-7 3-9 1-5-.5-4-1-5-3-4.5-5-2.5-2.5-3-1.5-7-2.5-2.5-1.5-.5-2 0-7-1-2.5-2-1.5-6-1-21 .5-7-1-4-1.5-8.5-5-17.5-9-1.5-2 .5-3 6-11 2-2.5 2.5-1.5 3.5-1 4-.5 16 0z"/><path fill="#b82132" fill-rule="evenodd" d="M1716.5 777l8-.5 8 1 9.5 1.5 8 2 4.5 2 .5 1-.5 1.5-2.5 1.5-8.5 2-20 3-7 1.5-5 2.5-5 4-4 1-7-.5-9-2.5-5-3-2.5-2-1-2 0-3 1-2 2-2 2.5-1.5 23-4.5zM1756.5 812l8-1 6 .5 5 1 4 2 3 3.5 3 6 .5 4-.5 2-1.5 2-1.5 2-3 2-7 2.5-7 .5-3-1-3-1-7.5-8-8-6-1.5-2-.5-2 .5-2 3-2.5 5-1.5z"/><path fill="#7e0a23" fill-rule="evenodd" d="M1715.5 781l7-1 7 .5 6.5 1.5 2 1 1 1-1 1-2 1-6.5 1-11 1-9 0-3.5-1-.5-1 .5-1 2.5-2zM1760.5 815l9 0 4 1 3 1.5 2.5 2.5 1.5 3 .5 3-.5 3-3 2.5-5 1.5-5-.5-4-2.5-9.5-7-2-3 .5-2 1-1 3-1.5z"/><path fill="#b6d5ea" fill-rule="evenodd" d="M1662.5 505l118.5 0 .5 4 4 4 2 2.5 1 3.5 1.5 7 0 11 1 3 3.5 5 3 5.5 8 0 0 41.5-8 0-1 0-10 9-1.5 2-.5 2 .5 3 5.5 8 1 5-.5 4-4.5 7-.5 2 0 1 2 2 9.5 6 8 0 0 43-9 0-3 2-2 2-1 2-.5 2 1 6-.5 2-2.5 5-.5 2 .5 2 1.5 2 5.5 3 2.5 .5 8 0 0 30-8 0-1 .5-4 6-3 2.5-4 1-6 1-19 1-9-1-12-2-7-1-10 0-27 .5-29-3.5-34 1-49-.5-32 .5-12-.5-6-1-2-1-1-1 0-1 1-2 6.5-6 0-1 0-1-1.5-1-10-3.5-4-2.5-12 0 0-70 147 0 40-1.5 40 0 12 0 29 2 7-.5 3-1 1-1 0-1-1-1-13-5-3-2-7-6-6-2.5-12-1.5-18-.5-9 .5-21 3-7 .5-7-1-7-1.5-9.5-4-16.5-6-6-3-4.5-4-2-3-2-4-.5-4 .5-3 2.5-1.5 9-2.5 4-2.5 1.5-1.5 1-2 .5-6 1-2 2.5-2 3.5-1.5 31-7.5 12-1.5 10 0 15 3.5 10 1.5 12 1 14 0 13 0 7-1 3.5-1.5 2-3-.5-3-1-2-2.5-2-2.5-1.5-7-1.5-24.5-4-6.5-2-5.5-3-2-2-.5-2 2.5-7 .5-4-1.5-3-3.5-2.5-6-1.5-9-.5-26 1.5-6-1.5-5.5-2.5-4.5-3-2-3-1-3 1-8-.5-2-1-2-1.5-1.5-3-1.5-11.5-3-.5-1 0-3zM1525.5 515.5l9-.5 10 1 8 1.5 6 2.5 3.5 3 2.5 5 .5 3-.5 3-2 5-2 3-4 2.5-5 2.5-6 1-12 1-6-.5-5-.5-12 0 0-32 12 0zM1526.5 571l8-.5 9 .5 7 1 5 2 2.5 2 1.5 2 1 7 1.5 3 3.5 2.5 13.5 6.5 3 3 .5 2-2 2-2 1-14 4-5 2.5-2 2.5-.5 7-1 3-2.5 2.5-4 2-7 1.5-8 .5-7-.5-5-1-12 0 0-57.5 12 0zM1621.5 594l6 0 2 .5 2 1.5 1.5 2 1 3-.5 3-1 1.5-4 1.5-8-.5-7-1.5-4-2-.5-2 .5-1 2-2 5-2.5zM1597.5 617l6 .5 5 2.5 3 3 0 2-.5 1-1.5 1.5-3 1-7 1-8-.5-5-2-1-1-1-2 0-1 1.5-2 2.5-2 3-1zM1796.5 768l1-.5 8 0 0 24.5-8 0-1-.5-2.5-2.5-2-3-1-6 .5-5 1-3zM1797.5 810.5l8 0 0 13-8 0-1-3-.5-3.5 .5-4.5zM1797.5 836l8 0 0 28-23.5 0 1-2 6.5-3.5 2.5-2.5 1-3 2.5-11z"/><path fill="#7ab3d8" fill-rule="evenodd" d="M1686.5 505l73 0 0 3 .5 1 9.5 3 6 3 2 2 2.5 3 1.5 3 1 3 0 4-1 3-2.5 4-.5 2 .5 1 2.5 2 7 3.5 3 2.5 2 2.5 3 5.5 1 1 8 0 0 27-8 0-1-2-1-5-1-2.5-2-2.5-3-1.5-6-1.5-21.5-4-5-2-2.5-2-2.5-3-.5-3 .5-4 1.5-7-.5-2-1-2-3-2-3.5-1-6-1-36 0-6-1-4-2-3-3-1-3 0-4 2-7 0-2-.5-2-1-1-4-2-.5-1 0-3zM1528.5 522l5-.5 5 0 5 1 4 1.5 3 2 2.5 3 .5 3-.5 2-2.5 3-3 2-4 1.5-5 1-5 .5-4-.5-3-1-4-1.5-12 0 0-15 12 0zM1695.5 586l7-1 7 0 25 2 46 1 5 0 3.5 1 1 1 0 1-1.5 2-3.5 3-7.5 5-2 2-1 2 0 2 1 2 2 2 7 6 2 2.5 .5 2.5-.5 2-1.5 2-7.5 8-.5 3 1 2 11.5 3.5 2.5 1.5 2 2-5.5 .5-11 0-1.5-.5-2.5-4-1-1-3.5-1-7.5-1-40-2.5-20 1.5-7.5 0-5-1-9.5-3-14-3.5-8.5-3.5-3-2-2.5-3-1-3 .5-2 2.5-3 8-4.5 3-2.5 1-2 1-7 1.5-3 2.5-2 4.5-2zM1703.5 663l25 0 27 2.5 25 1 7 1 2 .5 2 1.5 1 1.5 .5 2-.5 2-1 2-2 1.5-8 4.5-2 2-.5 2-1 4 0 17 .5 2 1.5 2 2.5 2 4.5 2 9.5 3 9 .5 0 23-8 0-1 .5-7 7-5.5 3-6.5 1-8 .5-9-.5-14-3-7-.5-32 1-9 0-7-1-20-4-32-2.5-33 .5-28 1.5-14-.5-5-1-2-1.5-.5-3 2-4 4-2 13.5-3 2-1 2-2 0-2-1.5-3-2-2-3-2-4.5-1-5.5 1-4.5 3-6.5 7-2.5 1-5 .5-9 0-7-2-4-2.5-3-5-12 0 0-22.5 12 0 1-.5 5.5-4 1.5-2 .5-2-1-2-1.5-1-5-2-13 0 0-19 79-.5 32 1 41 0 9-.5 20-2.5zM1797.5 775.5l8 0 0 11.5-8 0-1-.5-1-2.5-.5-3 .5-3 1-1.5z"/><path fill="#4390c5" fill-rule="evenodd" d="M1707.5 505l30 0 0 3-1 1-6 .5-10 0-9 0-4-.5-1-1 0-3zM1704.5 523l4-1 5 0 16 1.5 4 1 3 1.5 1 1 .5 2-.5 1-2 1.5-6 1.5-11 .5-9.5-.5-5.5-1.5-3-2.5 0-2 .5-2zM1766.5 547l4-1 5 .5 5 .5 4 1.5 3 1.5 3 2 6 9 1 1 8 0 0 11.5-8 0-3-3.5-3-1.5-21-4-5-1.5-4-2-1.5-2-1-2 0-4 1-2 2-2zM1747.5 591l15-.5 9 .5 .5 3-.5 2.5-7.5 3.5-2.5 2-1.5 2 .5 3 1 3 3 2.5 11 5.5 2.5 2 1.5 2 0 1-1 2-11.5 9-3.5 1.5-5 .5-11 0-11.5-1-17.5-4-4.5-2-1-1-1-2 0-6-1.5-9 1-13 1-2.5 2-1.5 5-1zM1667.5 617l7-1 4 1 2.5 1 2.5 1.5 1.5 1.5 1 2-.5 2-.5 1-2 1-4.5 .5-6 0-6-2-3-1.5-1-1-.5-2 1.5-2.5zM1695.5 667l17-1 15 1.5 9 2.5 17 7.5 6 4 3 3 2 3.5 1.5 5 0 8 .5 3 1.5 4 4 4 2.5 2 4.5 2 17.5 5.5 9 0 0 18-8 0-1 0-10 8-5 2.5-6 1-7 0-19-3.5-7-.5-29 .5-11 0-7-1-27-6-6.5-2.5-6.5-4.5-4-1-16-.5-25 .5-10-.5-4-1.5-3-2-9-9.5-5-4.5-4-2.5-4-1-6 0-6 1.5-5 3-9 7.5-3 1.5-3 .5-5-.5-4-1.5-2.5-3-2-4-.5-4 0-3 1.5-3 2-2 5.5-2.5 7-2.5 7-1.5 7-.5 28 0 11 1 11 3.5 18 8 6 1.5 11 0 14-2 3-1.5 2-1.5 1-2 1.5-4 1.5-1.5 19-2.5 5-1.5 3.5-2.5 1.5-2 .5-2 0-2-1-2-2.5-3-8-6-1-2 1-2 4-2zM1628.5 672l10 0 8 .5 5 1.5 4 2 2 3 2.5 8 1 6-.5 3-2 1-5 0-6-.5-6-1-5-2-10-5-10-4-4-2.5-2-2-1.5-2 0-2 1.5-1.5 6-1.5z"/><path fill="#2466b3" fill-rule="evenodd" d="M1773.5 551l7 0 3 1 3 1.5 2 2.5 2 3 .5 2 0 2-2.5 1-7.5 0-7.5-1.5-5-2.5-2-2-.5-2 .5-1 1-1.5 2-1.5zM1704.5 672l4-1 5 0 5 .5 4 1.5 25 12.5 3 2.5 2.5 3 1 3-.5 6 0 3 2 3 3.5 3 7 5 8.5 3.5 23 7 8 0 0 11.5-9 0-15 9-4 1.5-5 .5-5-.5-20-3-26 .5-10-.5-7-1.5-19-4-6-2.5-2-1.5-.5-3 2.5-15 .5-8 1-2 2.5-1.5 13-6 3-2.5 2-2 2.5-5 2-6-.5-3-3-4-1-2 .5-1zM1592.5 708l4-.5 4 .5 4 1 4.5 2 2.5 2 2 2 1 3 0 2-3 2.5-4 1-5 0-5-1.5-5-4-3-4-.5-2 .5-2 1-1.5z"/><path fill="#1c5597" fill-rule="evenodd" d="M1722.5 686l4-.5 5 1 5 2 3 2.5 1 2 .5 2-1.5 7 0 2 1 2 2 2 12 6 7.5 3 28.5 8 2 1 2.5 2 .5 1 0 2-2 2-2 1-10 4.5-7 2-6 .5-20-1-21 0-8 0-7-1.5-16-3.5-5-1.5-3-1.5-3-3-.5-3 1-5 2.5-4 5-5 9.5-5 2.5-2 3-3.5 4-8 2-3 4-3.5z"/><path fill="#0b3a6e" fill-rule="evenodd" d="M1699.5 718l4-1 5 .5 13 2.5 5 .5 5 0 11-1.5 6 .5 30 5.5 6 2 1.5 2 0 1-1 1-3.5 1.5-5 1.5-7 1-41 0-12-1-16-2.5-4.5-1.5-2.5-2-1-1-.5-2 1-3 2.5-2.5z"/></g><line x1="1510.4" x2="1809.4" y1="772" y2="772" stroke="#8c4cb8" stroke-width="1.8"/><line x1="1510.4" x2="1809.4" y1="680.4" y2="680.4" stroke="#8c4cb8" stroke-width="1.8"/><line x1="1510.4" x2="1809.4" y1="588.9" y2="588.9" stroke="#8c4cb8" stroke-width="1.8"/><rect x="1510.4" y="504.9" width="299" height="358.7" fill="none" stroke="#000" stroke-width="3"/><line x1="1500.9" x2="1510.4" y1="863.6" y2="863.6" stroke="#000" stroke-width="3.2"/><line x1="1500.9" x2="1510.4" y1="840.7" y2="840.7" stroke="#000" stroke-width="3.2"/><line x1="1500.9" x2="1510.4" y1="817.8" y2="817.8" stroke="#000" stroke-width="3.2"/><line x1="1500.9" x2="1510.4" y1="794.9" y2="794.9" stroke="#000" stroke-width="3.2"/><line x1="1500.9" x2="1510.4" y1="772" y2="772" stroke="#000" stroke-width="3.2"/><line x1="1500.9" x2="1510.4" y1="749.1" y2="749.1" stroke="#000" stroke-width="3.2"/><line x1="1500.9" x2="1510.4" y1="726.2" y2="726.2" stroke="#000" stroke-width="3.2"/><line x1="1500.9" x2="1510.4" y1="703.3" y2="703.3" stroke="#000" stroke-width="3.2"/><line x1="1500.9" x2="1510.4" y1="680.4" y2="680.4" stroke="#000" stroke-width="3.2"/><line x1="1500.9" x2="1510.4" y1="657.5" y2="657.5" stroke="#000" stroke-width="3.2"/><line x1="1500.9" x2="1510.4" y1="634.6" y2="634.6" stroke="#000" stroke-width="3.2"/><line x1="1500.9" x2="1510.4" y1="611.7" y2="611.7" stroke="#000" stroke-width="3.2"/><line x1="1500.9" x2="1510.4" y1="588.9" y2="588.9" stroke="#000" stroke-width="3.2"/><line x1="1500.9" x2="1510.4" y1="566" y2="566" stroke="#000" stroke-width="3.2"/><line x1="1500.9" x2="1510.4" y1="543.1" y2="543.1" stroke="#000" stroke-width="3.2"/><line x1="1500.9" x2="1510.4" y1="520.2" y2="520.2" stroke="#000" stroke-width="3.2"/><line x1="1522.2" x2="1522.2" y1="863.6" y2="868.1" stroke="#000" stroke-width="2"/><line x1="1559.7" x2="1559.7" y1="863.6" y2="873.6" stroke="#000" stroke-width="3"/><text x="1559.2" y="902.6" text-anchor="middle" class="tx">180</text><line x1="1597.2" x2="1597.2" y1="863.6" y2="868.1" stroke="#000" stroke-width="2"/><line x1="1634.8" x2="1634.8" y1="863.6" y2="873.6" stroke="#000" stroke-width="3"/><text x="1634.3" y="902.6" text-anchor="middle" class="tx">150W</text><line x1="1672.3" x2="1672.3" y1="863.6" y2="868.1" stroke="#000" stroke-width="2"/><line x1="1709.9" x2="1709.9" y1="863.6" y2="873.6" stroke="#000" stroke-width="3"/><text x="1709.4" y="902.6" text-anchor="middle" class="tx">120W</text><line x1="1747.4" x2="1747.4" y1="863.6" y2="868.1" stroke="#000" stroke-width="2"/><line x1="1784.9" x2="1784.9" y1="863.6" y2="873.6" stroke="#000" stroke-width="3"/><text x="1784.4" y="902.6" text-anchor="middle" class="tx">90W</text><text x="1520.5" y="493.4" class="ti" textLength="205.8" lengthAdjust="spacingAndGlyphs">Meridional feedback</text><clipPath id="cpb6"><rect x="1856" y="503.6" width="280.2" height="358.7"/></clipPath><rect x="1848" y="503.6" width="299.2" height="358.7" fill="#fff"/><rect x="1856" y="503.6" width="280.2" height="358.7" fill="#f2f5f8"/><g clip-path="url(#cpb6)"><path fill="#fbd3bf" fill-rule="evenodd" d="M1857 503.5l279 0 0 12.5-29 1-41-1-22 0-11 1-26 4-20 2-5 2-12 6-6 2-9 2-23 3-14 .5-8-1-18-4.5-9-1.5-7-.5-9 1-11 0 0-28.5zM1940 545.5l23-.5 23 2.5 18-2 9 0 7 .5 2.5 .5 1.5 1 0 1 0 1-2 2-7 5-21.5 10-14.5 4-4.5 2-1.5 2 .5 3 2 2 3.5 2 7 1 9 0 8-.5 15-2.5 6 0 6 .5 13 3 7 1 22 0 6 .5 8 1.5 20.5 6.5 4.5 2 1 1 .5 2-2 2-10.5 6-3.5 3-1 3 1 6-1 2-1 1-7 2-12.5 1.5-18 0-24-4-25 0-19-2.5-9-1-13 0-20 1-8-.5-7-1-16-3-7-.5-9 0-22 1-22-.5 0-9.5 12 0 4-3 1.5-2 0-1-1.5-2-4-3-12 0 0-12.5 11 0 6 2 5 1 10 0 6-1.5 4-1.5 3-2.5 .5-2-1-2-1-1-2.5-1.5-3.5-1.5-16.5-4-9-4-12 0 0-10.5 48-.5 7-1 15-2.5zM2056 646.5l13 0 8 1 5.5 2 3 2 1.5 2 1 3-2 7-.5 4 .5 4 2.5 6 0 2-2 5-.5 2 .5 1 3.5 3 15.5 7 3 2 1 2-1 2-3 2-16.5 5-1.5 1 0 1 .5 1 2 1 7 2 15 2.5 7 0 6-1.5 11 0 0 14-11 0-1.5 1-4 8-2.5 3-4 3-6 3-10 2-15 1-50 0-15-1-17-3-13-3-5-3-7-6-5-3-5-2.5-4-1-5-.5-12 1-5-.5-5-1-9.5-4.5-6.5-1.5-33-4-7 0-10 1.5-12 0 0-12 11 0 8 2 6 0 7-1.5 11.5-3.5 4.5-2 .5-1-.5-1-4.5-2-8.5-2-7-.5-7-.5-10 1.5-11 0 0-40 23 .5 28-1 30 .5 10-1.5 18-5 16-.5 12-2.5 7.5-1 11.5-.5zM1879 731.5l4-.5 6 .5 6 2 6 2 3.5 2 3 3 1 2 0 1-1 2-3 2-2.5 1-12 3.5-22 4-12 0 0-14.5 11 0 1-.5 6-7 2-1.5zM1884 801.5l30 0 22 1 12 2 4 2 1 1 0 1-.5 1-2.5 1-13 3-17 4.5-8 1-19 2.5-4 1-7.5 3-5.5 .5-8-2.5-12 0 0-20 12 0zM1917 853.5l9-.5 37 .5 7 1 11 4.5 10 1 12 0 23-2.5 11-.5 3 .5 2 1 1 1 0 1 0 2-117 0-11-2.5-.5-2.5 0-3 .5-.5z"/><path fill="#f3a98a" fill-rule="evenodd" d="M1857 503.5l260 0 0 3 1.5 2 0 1-1 1-2.5 1-8 1-9-.5-24-2-21 .5-17 1.5-21 3.5-7 1-7-.5-12-2-5 0-7 2-15.5 9.5-10.5 4.5-13 3-16 1-11.5-1.5-18.5-5.5-7-1.5-9 .5-9 2-11 0 0-24.5zM1942 549.5l12-.5 10 1 7 2.5 2 2 1 2 0 1-2 1.5-8 1.5-20 .5-12-1-4-1.5-2-1-1-1-.5-1 .5-1 2.5-2 3-1zM2064 590.5l9 .5 8 1.5 7.5 3 1.5 1.5 1 1.5-.5 2-4.5 7-1.5 7-1 2-3.5 2-7 1.5-7 .5-7-.5-16-3.5-9-1-25 0-37-2.5-26 .5-7 0-6-1-6.5-2-4.5-2-2-2 0-1 1-2 8-6 6-3 7-1 11-.5 9 1.5 5 1.5 9 5 9 2 9 1 31 0 7.5-.5 5.5-1 4-2.5 5-5 3-2 5-1.5zM2039 651.5l11-.5 8 .5 6.5 1 3 2 .5 1 0 2-1.5 2-3.5 1.5-13 2-6 1.5-2 1-2 2-1 2 .5 1 1.5 2 3 1 16.5 1 5.5 1.5 2 1.5 .5 2-1 2-3 5-.5 2 .5 1 3.5 2.5 17.5 5.5 4 2 1 1 0 1-1.5 1-17.5 7-3 2-.5 1 0 1 1.5 1 3.5 1.5 22 4.5 14 4 5 2 2 2 0 2-1 3-2 3-2 2-16 8-6.5 2-12.5 1.5-41-.5-10-.5-8-1.5-8-3-10.5-7-13-6-12.5-8-5-2-9-1.5-16 .5-6 0-25-3-5-1-4-1.5-1.5-1.5 .5-1 1-1 5-2 11-3 4-2 1-1 0-1-1-1-4-2-11-3-24-4.5-7-.5-10 1.5-11 0 0-31.5 11 0 8 .5 6 0 28-2 30 .5 24-2.5 21 1 7-1 12-4 5.5-1.5zM1890 803.5l16 0 14 .5 9 1.5 2 1 0 1-.5 1-3 2-5.5 2-5 1.5-10 1-12-.5-20-3-5.5-1-2.5-1 3-2 5-2 5-1z"/><path fill="#e58068" fill-rule="evenodd" d="M1857 503.5l113.5 0 0 3 0 1-6.5 3.5-4 1-3 .5-32-1-39 2-9-.5-10-3.5-11 0 0-6zM2008 660.5l5-.5 4.5 .5 2.5 1 2.5 2 0 2 0 2-3 7-.5 3 .5 3 2 2 3.5 1.5 11 2 4 1 9.5 6.5 14 5 3.5 2 .5 1-.5 1-2.5 2-5 2-5.5 1.5-9 .5-21-2-26 .5-11-.5-8-1.5-15-7.5-7-2-6 0-13 1-11-1-17.5-3-7.5-2-11-3.5-8-1.5-9 0-7 1.5-11 0 0-22 11 0 7 1.5 6 0 29-4 29 .5 22-1.5 7 .5 15 2 6 0 8-.5zM2005 719.5l10-.5 21 1 26 .5 12 .5 10 1.5 7 2 3.5 2 .5 1 0 1-1 1-2 .5-16 2-4 .5-4 1.5-2 1.5-1 2 .5 2 2 3 0 1-2.5 1-20 1.5-12-.5-5-1-4-1.5-5-6-3-2-15.5-5.5-5.5-3-1-2 0-1 1-1 4-2z"/><path fill="#d1504a" fill-rule="evenodd" d="M1875 503.5l76.5 0 0 3-1 1-10.5 1-52 .5-12.5-1.5-1-1 0-3zM1912 665.5l8-.5 18 .5 23-.5 9 1.5 2.5 1 1 1 .5 1 0 1-1 1-3 1.5-5 1.5-6 1-12 .5-35-1-11.5-1.5-2.5-1-1-1 0-1 2.5-2 2-1zM1978 685.5l5-1 4 0 4 1 3 1 2 1.5 1.5 2.5 .5 3-.5 2-2.5 2-6 1-6-.5-6.5-2.5-4.5-3-1-2 0-1 2-2z"/><path fill="#b6d5ea" fill-rule="evenodd" d="M2033 520.5l11 .5 15 2 6 .5 33-2.5 38 0 0 63-11 0-7 2-7 .5-9-1.5-16-4.5-7-1.5-26-.5-9-2-23.5-8-1.5-1-.5-1 .5-1 1.5-2 6.5-4 6-2.5 5-1 5-.5 24 1.5 10-.5 5-1.5 4.5-2.5 3.5-3 3-4 0-2-.5-1-3-2-8.5-2.5-10-2-8 0-18 2.5-16 .5-19-.5-6-.5-4.5-1.5-3.5-2-.5-2 1.5-2 3.5-2 18.5-5.5 7-1.5zM1871 534.5l9 .5 9 1.5 8.5 3 3 2 0 1-.5 1-2 1-10 2-20 1.5-12 0 0-13zM2109 610.5l5-.5 5 .5 2.5 5 2.5 2 12 0 0 31-11 0-7 1.5-8 0-8-1.5-15-4.5-11-1.5-26 .5-44-.5-38-1.5-10 1-10 2.5-4 2-3 5-1.5 1-2.5 1-4 1-8 .5-38-1-31 .5 0-38 23 .5 22-1 9 0 30 4.5 10 0 20-1 10 .5 8 .5 19 3.5 23 0 23 3 16 0 27-1.5 8-1 5-1.5 3-1.5 1-2-.5-2-4-5 0-1zM2109 659.5l5 0 4 0 3 1 4 2 11 0 0 46.5-11 0-1.5-.5-1.5-1-1-2-1-5-1-3-2-2.5-4.5-4.5-.5-1 1-2 2.5-4 .5-2-.5-1-3-2-11.5-4.5-3-2-1.5-2.5-.5-3 2-3 5-2.5zM1943 742.5l8-.5 6 .5 4 .5 12 4.5 6 1.5 23 4 11 1 14 1 55 0 17 1 8 1.5 10 5 6 2 13 .5 0 93.5-11 0-7-1-4 0-23 2-11 0-6-.5-3-1-2-1.5-4-8.5-1.5-1.5-2.5-1-7-1.5-19 1-7-1-6-2-8.5-6.5-4.5-2.5-5-1.5-5-.5-8 1-7 2-4 2.5-4 6.5-2 2-3 2-5 1-15 1-27-1-9 .5-10 1.5-18 5-7 1-7-.5-6-1.5-11 0 0-23.5 11 0 10 1.5 8 0 9-2 18-5 24-3.5 5 .5 13 1.5 7 0 4-1 4-1.5 3-1.5 3-3 2-3 .5-3-.5-2-2-2-3.5-2-4.5-1.5-15-3-9-.5-9-.5-49 .5-18 1.5-11 0 0-39.5 12 0 33-6.5 13-3.5 19-6.5z"/><path fill="#7ab3d8" fill-rule="evenodd" d="M2026 525.5l7-.5 6 .5 5 2 1 2-.5 1-1.5 1.5-6 2-8 .5-8.5-1-2.5-1-1.5-1-.5-1 .5-1 3-2zM2100 525.5l13-.5 6 0 6 1.5 11 0 0 52.5-11 0-5 1-5 1-7-.5-6-1-15-4.5-7-1.5-6-.5-15 .5-6-.5-7-2.5-3-2-2-2 0-2 1-1 1.5-1 4-1 7.5-.5 19 .5 9-1.5 9-4 15.5-10.5 3-3 0-1-.5-1-3.5-2-13-5-3-2-.5-1 0-1 .5-1 1.5-1zM1857 538l13 0 5 .5 4.5 1 2 1 0 1-1 1-3.5 1-6.5 1-14.5 .5 0-7zM1899 619.5l14 .5 20 3 12 1 11 .5 24-1 7 1 19 3.5 24 0 25 2.5 51-1 10-1 9-2.5 11 0 0 15-11 0-6 2-6 .5-6-.5-17-3.5-9-1-31 .5-20-1-26 0-28-2-8 0-9 1-24.5 5.5-6 2-7.5 3.5-5 1-10 .5-26-1.5-13 1.5-11 0 0-29.5 11 0 12 .5zM1939 750.5l8-.5 9 .5 31 3.5 25 3.5 63 0 11 1 7 1 5 2 4 2 6.5 5 3 3 1 3-1.5 7 0 3 1.5 3 4.5 6 2 3 .5 4 0 3-1.5 3-3 1.5-17 3.5-5 2-2 2-.5 2 .5 7 0 3-1.5 2-3.5 2.5-4 1-6 1-36 2-5.5-.5-4.5-1-4-2-8-5.5-4-2-5-1.5-10-2-3-1-1.5-2-.5-2 0-3 2.5-7-.5-3-1-1.5-2-1-5-1.5-14-2-29-2-30 2-33 0-15 1-11 0 0-32 12 0 11-3 29-5 21-6zM1913 831.5l9-.5 16 1 18-.5 8 1 2 .5 2 1.5 .5 3-1 2-1.5 2-4 2-5 1-6 0-23-1.5-13 .5-11 1.5-17 3.5-7 1-6 0-7-2-11 0 0-12 11 0 10 1 9-.5 10-1z"/><path fill="#4390c5" fill-rule="evenodd" d="M2119 548.5l4-.5 13 0 0 24.5-11 0-6.5 2-7.5 .5-5-1-6-2-5.5-2.5-3-2-1-2 1.5-2 12.5-9 6.5-3.5zM1890 624.5l14-.5 10 .5 30 4 4 1 2 1 .5 1-.5 1-3 2-6.5 2-6.5 1.5-27 3-9 0-9-.5-8-1.5-4-2-2.5-3.5-1.5-5 0-1 1-.5 2-.5zM1942 755.5l43 2 8 1 15 4 5 .5 21-1.5 18 .5 18-1 8.5 .5 7 2 4 3 1.5 2 1.5 4 .5 3 0 3-1.5 4-2.5 2.5-4 2-6 1-8 0-18-1.5-11 0-33 1.5-22-.5-19 1.5-8 0-4-1-2.5-1.5-4.5-5-6-4-4-2-4-1-8-.5-21 1.5-14 .5-11-1.5-3.5-1-1.5-1-.5-1 0-1 1.5-1 5-2 9-2 21-3 20-5.5zM1896 785.5l17 0 7 1 6 1 3 1 1.5 1 .5 1-.5 1-1.5 1-3 1-7 1.5-9 .5-31-.5-12 .5-11 0 0-10 22 .5zM2039 798.5l11 0 8 1.5 4 1.5 2 1.5 1.5 1.5 0 2-1 2-2.5 1.5-8 1.5-19 .5-8-.5-5-1-3-1.5-1-1.5 0-2 .5-1 2.5-2 3-1.5 4-1z"/><path fill="#2466b3" fill-rule="evenodd" d="M1972 761.5l8 0 6 1 5 1.5 3 2.5 1.5 2 0 2-1.5 3-3 2-6 2-13 1.5-5-.5-5-1-5-2-5-3-3.5-3-1.5-3 0-1 1.5-1 3.5-1z"/></g><line x1="1848" x2="2147.2" y1="770.7" y2="770.7" stroke="#8c4cb8" stroke-width="1.8"/><line x1="1848" x2="2147.2" y1="679.1" y2="679.1" stroke="#8c4cb8" stroke-width="1.8"/><line x1="1848" x2="2147.2" y1="587.6" y2="587.6" stroke="#8c4cb8" stroke-width="1.8"/><rect x="1848" y="503.6" width="299.2" height="358.7" fill="none" stroke="#000" stroke-width="3"/><line x1="1838.5" x2="1848" y1="862.3" y2="862.3" stroke="#000" stroke-width="3.2"/><line x1="1838.5" x2="1848" y1="839.4" y2="839.4" stroke="#000" stroke-width="3.2"/><line x1="1838.5" x2="1848" y1="816.5" y2="816.5" stroke="#000" stroke-width="3.2"/><line x1="1838.5" x2="1848" y1="793.6" y2="793.6" stroke="#000" stroke-width="3.2"/><line x1="1838.5" x2="1848" y1="770.7" y2="770.7" stroke="#000" stroke-width="3.2"/><line x1="1838.5" x2="1848" y1="747.8" y2="747.8" stroke="#000" stroke-width="3.2"/><line x1="1838.5" x2="1848" y1="724.9" y2="724.9" stroke="#000" stroke-width="3.2"/><line x1="1838.5" x2="1848" y1="702" y2="702" stroke="#000" stroke-width="3.2"/><line x1="1838.5" x2="1848" y1="679.1" y2="679.1" stroke="#000" stroke-width="3.2"/><line x1="1838.5" x2="1848" y1="656.2" y2="656.2" stroke="#000" stroke-width="3.2"/><line x1="1838.5" x2="1848" y1="633.3" y2="633.3" stroke="#000" stroke-width="3.2"/><line x1="1838.5" x2="1848" y1="610.4" y2="610.4" stroke="#000" stroke-width="3.2"/><line x1="1838.5" x2="1848" y1="587.6" y2="587.6" stroke="#000" stroke-width="3.2"/><line x1="1838.5" x2="1848" y1="564.7" y2="564.7" stroke="#000" stroke-width="3.2"/><line x1="1838.5" x2="1848" y1="541.8" y2="541.8" stroke="#000" stroke-width="3.2"/><line x1="1838.5" x2="1848" y1="518.9" y2="518.9" stroke="#000" stroke-width="3.2"/><line x1="1857.5" x2="1857.5" y1="862.3" y2="866.8" stroke="#000" stroke-width="2"/><line x1="1895.5" x2="1895.5" y1="862.3" y2="872.3" stroke="#000" stroke-width="3"/><text x="1895" y="901.3" text-anchor="middle" class="tx">180</text><line x1="1933.5" x2="1933.5" y1="862.3" y2="866.8" stroke="#000" stroke-width="2"/><line x1="1971.4" x2="1971.4" y1="862.3" y2="872.3" stroke="#000" stroke-width="3"/><text x="1970.9" y="901.3" text-anchor="middle" class="tx">150W</text><line x1="2009.3" x2="2009.3" y1="862.3" y2="866.8" stroke="#000" stroke-width="2"/><line x1="2047.3" x2="2047.3" y1="862.3" y2="872.3" stroke="#000" stroke-width="3"/><text x="2046.8" y="901.3" text-anchor="middle" class="tx">120W</text><line x1="2085.2" x2="2085.2" y1="862.3" y2="866.8" stroke="#000" stroke-width="2"/><line x1="2123.2" x2="2123.2" y1="862.3" y2="872.3" stroke="#000" stroke-width="3"/><text x="2122.7" y="901.3" text-anchor="middle" class="tx">90W</text><text x="1856.8" y="492.5" class="ti" textLength="172.3" lengthAdjust="spacingAndGlyphs">Surface heat flux</text><text transform="translate(28.8,343.5) rotate(-90)" class="rl" textLength="253" lengthAdjust="spacingAndGlyphs">a  Double-year LN</text><text transform="translate(32.8,797) rotate(-90)" class="rl" textLength="237" lengthAdjust="spacingAndGlyphs">b  Triple-year LN</text><rect x="625.6" y="939.6" width="83.4" height="13.8" fill="#0b3a6e" stroke="#000" stroke-width="1.2"/><rect x="709" y="939.6" width="83.4" height="13.8" fill="#1c5597" stroke="#000" stroke-width="1.2"/><rect x="792.3" y="939.6" width="83.4" height="13.8" fill="#2466b3" stroke="#000" stroke-width="1.2"/><rect x="875.7" y="939.6" width="83.4" height="13.8" fill="#4390c5" stroke="#000" stroke-width="1.2"/><rect x="959" y="939.6" width="83.4" height="13.8" fill="#7ab3d8" stroke="#000" stroke-width="1.2"/><rect x="1042.4" y="939.6" width="83.4" height="13.8" fill="#b6d5ea" stroke="#000" stroke-width="1.2"/><rect x="1125.7" y="939.6" width="83.4" height="13.8" fill="#f2f5f8" stroke="#000" stroke-width="1.2"/><rect x="1209.1" y="939.6" width="83.4" height="13.8" fill="#fbd3bf" stroke="#000" stroke-width="1.2"/><rect x="1292.4" y="939.6" width="83.4" height="13.8" fill="#f3a98a" stroke="#000" stroke-width="1.2"/><rect x="1375.8" y="939.6" width="83.4" height="13.8" fill="#e58068" stroke="#000" stroke-width="1.2"/><rect x="1459.1" y="939.6" width="83.4" height="13.8" fill="#d1504a" stroke="#000" stroke-width="1.2"/><rect x="1542.5" y="939.6" width="83.4" height="13.8" fill="#b82132" stroke="#000" stroke-width="1.2"/><rect x="1625.8" y="939.6" width="83.4" height="13.8" fill="#7e0a23" stroke="#000" stroke-width="1.2"/><text x="709" y="975.3" text-anchor="middle" class="cb">-0.5</text><text x="792.3" y="975.3" text-anchor="middle" class="cb">-0.4</text><text x="875.7" y="975.3" text-anchor="middle" class="cb">-0.3</text><text x="959" y="975.3" text-anchor="middle" class="cb">-0.2</text><text x="1042.4" y="975.3" text-anchor="middle" class="cb">-0.1</text><text x="1125.7" y="975.3" text-anchor="middle" class="cb">-0.05</text><text x="1209.1" y="975.3" text-anchor="middle" class="cb">0.05</text><text x="1292.4" y="975.3" text-anchor="middle" class="cb">0.1</text><text x="1375.8" y="975.3" text-anchor="middle" class="cb">0.2</text><text x="1459.1" y="975.3" text-anchor="middle" class="cb">0.3</text><text x="1542.5" y="975.3" text-anchor="middle" class="cb">0.4</text><text x="1625.8" y="975.3" text-anchor="middle" class="cb">0.5</text><text x="929" y="1011.5" class="cbt" textLength="463" lengthAdjust="spacingAndGlyphs">Temperature tendency (°C month<tspan dy="-10" font-size="17">-1</tspan><tspan dy="10">)</tspan></text></svg></body></html>
